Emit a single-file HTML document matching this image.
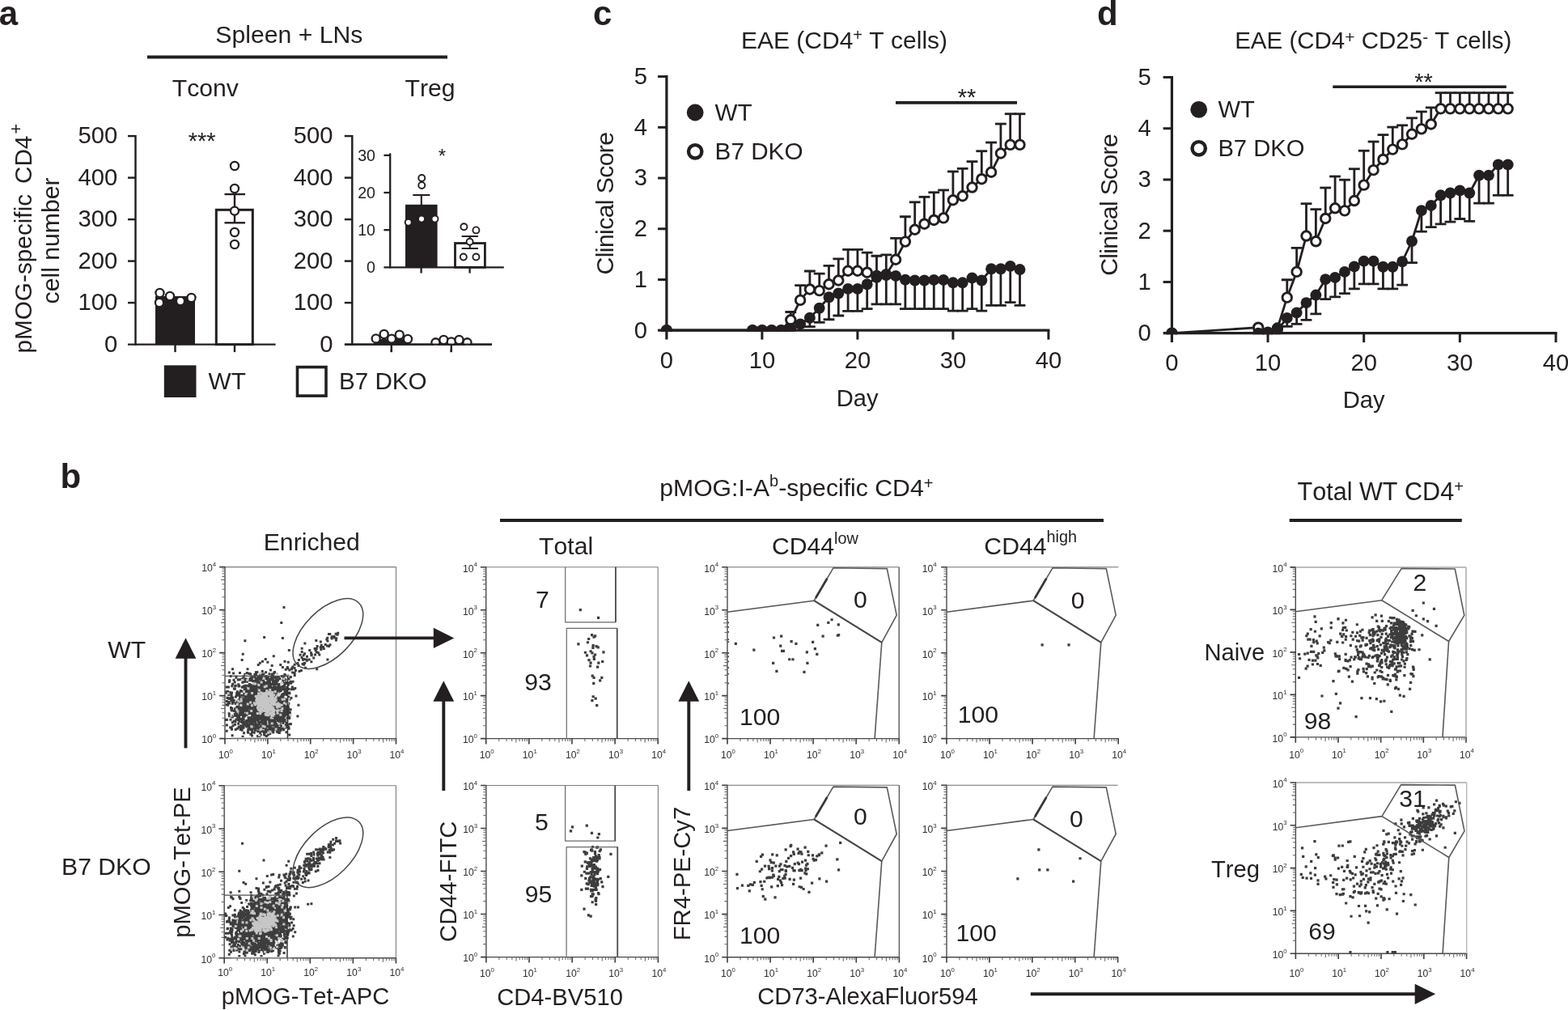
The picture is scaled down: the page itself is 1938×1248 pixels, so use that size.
<!DOCTYPE html>
<html lang="en">
<head>
<meta charset="utf-8">
<title>Figure</title>
<style>
html,body{margin:0;padding:0;background:#fff;}
body{width:1938px;height:1248px;overflow:hidden;}
svg{display:block;font-family:"Liberation Sans",sans-serif;font-kerning:none;}
</style>
</head>
<body>
<svg width="1938" height="1248" viewBox="0 0 1938 1248">
<rect x="0" y="0" width="1938" height="1248" fill="#ffffff"/>
<text x="-1.2" y="31" font-size="42" text-anchor="start" font-weight="bold" fill="#231f20">a</text>
<text x="74.5" y="603" font-size="42" text-anchor="start" font-weight="bold" fill="#231f20">b</text>
<text x="733" y="31" font-size="42" text-anchor="start" font-weight="bold" fill="#231f20">c</text>
<text x="1356" y="31" font-size="42" text-anchor="start" font-weight="bold" fill="#231f20">d</text>
<g id="panel-a">
<text x="357.3" y="53" font-size="30.2" text-anchor="middle" fill="#231f20">Spleen + LNs</text>
<line x1="182" y1="70.5" x2="553" y2="70.5" stroke="#231f20" stroke-width="4.2" stroke-linecap="butt"/>
<text x="253.8" y="119" font-size="30.2" text-anchor="middle" fill="#231f20">Tconv</text>
<text x="531.5" y="119" font-size="30.2" text-anchor="middle" fill="#231f20">Treg</text>
<text x="38.6" y="436.6" font-size="29.75" text-anchor="start" transform="rotate(-90 38.6 436.6)" fill="#231f20">pMOG-specific</text>
<text x="38.6" y="227" font-size="29.7" text-anchor="start" transform="rotate(-90 38.6 227)" fill="#231f20">CD4<tspan font-size="21.5" dy="-11.4" dx="2.2">+</tspan></text>
<text x="73.5" y="297.4" font-size="30.2" text-anchor="middle" transform="rotate(-90 73.5 297.4)" fill="#231f20">cell number</text>
<line x1="167.5" y1="166.88" x2="167.5" y2="426.83" stroke="#231f20" stroke-width="2.45" stroke-linecap="butt"/>
<line x1="158" y1="425.6" x2="340.6" y2="425.6" stroke="#231f20" stroke-width="2.45" stroke-linecap="butt"/>
<text x="145.2" y="434.6" font-size="29.2" text-anchor="end" fill="#231f20">0</text>
<line x1="158" y1="374.1" x2="167.5" y2="374.1" stroke="#231f20" stroke-width="2.45" stroke-linecap="butt"/>
<text x="145.2" y="383.1" font-size="29.2" text-anchor="end" fill="#231f20">100</text>
<line x1="158" y1="322.6" x2="167.5" y2="322.6" stroke="#231f20" stroke-width="2.45" stroke-linecap="butt"/>
<text x="145.2" y="331.6" font-size="29.2" text-anchor="end" fill="#231f20">200</text>
<line x1="158" y1="271.1" x2="167.5" y2="271.1" stroke="#231f20" stroke-width="2.45" stroke-linecap="butt"/>
<text x="145.2" y="280.1" font-size="29.2" text-anchor="end" fill="#231f20">300</text>
<line x1="158" y1="219.6" x2="167.5" y2="219.6" stroke="#231f20" stroke-width="2.45" stroke-linecap="butt"/>
<text x="145.2" y="228.6" font-size="29.2" text-anchor="end" fill="#231f20">400</text>
<line x1="158" y1="168.1" x2="167.5" y2="168.1" stroke="#231f20" stroke-width="2.45" stroke-linecap="butt"/>
<text x="145.2" y="177.1" font-size="29.2" text-anchor="end" fill="#231f20">500</text>
<line x1="216.5" y1="425.6" x2="216.5" y2="435.1" stroke="#231f20" stroke-width="2.45" stroke-linecap="butt"/>
<line x1="290" y1="425.6" x2="290" y2="435.1" stroke="#231f20" stroke-width="2.45" stroke-linecap="butt"/>
<rect x="192" y="366" width="49" height="59.6" fill="#231f20"/>
<rect x="267.3" y="259.3" width="45" height="166.3" fill="#fff" stroke="#231f20" stroke-width="3.0"/>
<line x1="290" y1="240" x2="290" y2="275.3" stroke="#231f20" stroke-width="2.4" stroke-linecap="butt"/>
<line x1="277.5" y1="240" x2="303" y2="240" stroke="#231f20" stroke-width="2.4" stroke-linecap="butt"/>
<line x1="277.5" y1="275.3" x2="303" y2="275.3" stroke="#231f20" stroke-width="2.4" stroke-linecap="butt"/>
<circle cx="290" cy="205" r="5.05" fill="#fff" stroke="#231f20" stroke-width="2.3"/>
<circle cx="290" cy="233" r="5.05" fill="#fff" stroke="#231f20" stroke-width="2.3"/>
<circle cx="290" cy="260.6" r="5.05" fill="#fff" stroke="#231f20" stroke-width="2.3"/>
<circle cx="290" cy="287" r="5.05" fill="#fff" stroke="#231f20" stroke-width="2.3"/>
<circle cx="290" cy="302" r="5.05" fill="#fff" stroke="#231f20" stroke-width="2.3"/>
<circle cx="197.5" cy="362" r="5.05" fill="#fff" stroke="#231f20" stroke-width="2.3"/>
<circle cx="197" cy="374" r="5.05" fill="#fff" stroke="#231f20" stroke-width="2.3"/>
<circle cx="210" cy="366" r="5.05" fill="#fff" stroke="#231f20" stroke-width="2.3"/>
<circle cx="223" cy="372" r="5.05" fill="#fff" stroke="#231f20" stroke-width="2.3"/>
<circle cx="236.5" cy="368" r="5.05" fill="#fff" stroke="#231f20" stroke-width="2.3"/>
<text x="249.7" y="183.6" font-size="29" text-anchor="middle" fill="#231f20">***</text>
<line x1="435.3" y1="166.88" x2="435.3" y2="426.83" stroke="#231f20" stroke-width="2.45" stroke-linecap="butt"/>
<line x1="425.8" y1="425.6" x2="608" y2="425.6" stroke="#231f20" stroke-width="2.45" stroke-linecap="butt"/>
<text x="411.5" y="434.6" font-size="29.2" text-anchor="end" fill="#231f20">0</text>
<line x1="425.8" y1="374.1" x2="435.3" y2="374.1" stroke="#231f20" stroke-width="2.45" stroke-linecap="butt"/>
<text x="411.5" y="383.1" font-size="29.2" text-anchor="end" fill="#231f20">100</text>
<line x1="425.8" y1="322.6" x2="435.3" y2="322.6" stroke="#231f20" stroke-width="2.45" stroke-linecap="butt"/>
<text x="411.5" y="331.6" font-size="29.2" text-anchor="end" fill="#231f20">200</text>
<line x1="425.8" y1="271.1" x2="435.3" y2="271.1" stroke="#231f20" stroke-width="2.45" stroke-linecap="butt"/>
<text x="411.5" y="280.1" font-size="29.2" text-anchor="end" fill="#231f20">300</text>
<line x1="425.8" y1="219.6" x2="435.3" y2="219.6" stroke="#231f20" stroke-width="2.45" stroke-linecap="butt"/>
<text x="411.5" y="228.6" font-size="29.2" text-anchor="end" fill="#231f20">400</text>
<line x1="425.8" y1="168.1" x2="435.3" y2="168.1" stroke="#231f20" stroke-width="2.45" stroke-linecap="butt"/>
<text x="411.5" y="177.1" font-size="29.2" text-anchor="end" fill="#231f20">500</text>
<line x1="483.8" y1="425.6" x2="483.8" y2="435.1" stroke="#231f20" stroke-width="2.45" stroke-linecap="butt"/>
<line x1="557.8" y1="425.6" x2="557.8" y2="435.1" stroke="#231f20" stroke-width="2.45" stroke-linecap="butt"/>
<rect x="462" y="419" width="45" height="6.6" fill="#231f20"/>
<circle cx="464.7" cy="418.4" r="5.05" fill="#fff" stroke="#231f20" stroke-width="2.3"/>
<circle cx="474.7" cy="413" r="5.05" fill="#fff" stroke="#231f20" stroke-width="2.3"/>
<circle cx="484" cy="418.6" r="5.05" fill="#fff" stroke="#231f20" stroke-width="2.3"/>
<circle cx="493.75" cy="413.75" r="5.05" fill="#fff" stroke="#231f20" stroke-width="2.3"/>
<circle cx="504" cy="419" r="5.05" fill="#fff" stroke="#231f20" stroke-width="2.3"/>
<circle cx="538.4" cy="423.3" r="5.05" fill="#fff" stroke="#231f20" stroke-width="2.3"/>
<circle cx="548.4" cy="420" r="5.05" fill="#fff" stroke="#231f20" stroke-width="2.3"/>
<circle cx="557.8" cy="422.4" r="5.05" fill="#fff" stroke="#231f20" stroke-width="2.3"/>
<circle cx="567.5" cy="420" r="5.05" fill="#fff" stroke="#231f20" stroke-width="2.3"/>
<circle cx="577.5" cy="423.3" r="5.05" fill="#fff" stroke="#231f20" stroke-width="2.3"/>
<rect x="440" y="426.83" width="165" height="5" fill="#fff"/>
<line x1="426" y1="425.6" x2="608" y2="425.6" stroke="#231f20" stroke-width="2.45" stroke-linecap="butt"/>
<line x1="483.8" y1="425.6" x2="483.8" y2="435.1" stroke="#231f20" stroke-width="2.45" stroke-linecap="butt"/>
<line x1="557.8" y1="425.6" x2="557.8" y2="435.1" stroke="#231f20" stroke-width="2.45" stroke-linecap="butt"/>
<line x1="482.2" y1="189.35" x2="482.2" y2="331.45" stroke="#231f20" stroke-width="2.3" stroke-linecap="butt"/>
<line x1="474.4" y1="330.3" x2="622.8" y2="330.3" stroke="#231f20" stroke-width="2.3" stroke-linecap="butt"/>
<text x="464" y="337.2" font-size="19.6" text-anchor="end" fill="#231f20">0</text>
<line x1="474.4" y1="284.17" x2="482.2" y2="284.17" stroke="#231f20" stroke-width="2.3" stroke-linecap="butt"/>
<text x="464" y="291.07" font-size="19.6" text-anchor="end" fill="#231f20">10</text>
<line x1="474.4" y1="238.03" x2="482.2" y2="238.03" stroke="#231f20" stroke-width="2.3" stroke-linecap="butt"/>
<text x="464" y="244.93" font-size="19.6" text-anchor="end" fill="#231f20">20</text>
<line x1="474.4" y1="191.9" x2="482.2" y2="191.9" stroke="#231f20" stroke-width="2.3" stroke-linecap="butt"/>
<text x="464" y="198.8" font-size="19.6" text-anchor="end" fill="#231f20">30</text>
<line x1="520.6" y1="330.3" x2="520.6" y2="337.5" stroke="#231f20" stroke-width="2.3" stroke-linecap="butt"/>
<line x1="580.6" y1="330.3" x2="580.6" y2="337.5" stroke="#231f20" stroke-width="2.3" stroke-linecap="butt"/>
<rect x="501" y="252.8" width="39.6" height="77.5" fill="#231f20"/>
<line x1="520.8" y1="241" x2="520.8" y2="254" stroke="#231f20" stroke-width="2.1" stroke-linecap="butt"/>
<line x1="510.3" y1="241" x2="531.3" y2="241" stroke="#231f20" stroke-width="2.1" stroke-linecap="butt"/>
<rect x="562.5" y="300.5" width="36.9" height="29.8" fill="#fff" stroke="#231f20" stroke-width="2.8"/>
<line x1="580.8" y1="292" x2="580.8" y2="307" stroke="#231f20" stroke-width="2" stroke-linecap="butt"/>
<line x1="570.6" y1="292" x2="591" y2="292" stroke="#231f20" stroke-width="2" stroke-linecap="butt"/>
<line x1="570.6" y1="307" x2="591" y2="307" stroke="#231f20" stroke-width="2" stroke-linecap="butt"/>
<circle cx="521.25" cy="220" r="4" fill="#fff" stroke="#231f20" stroke-width="1.9"/>
<circle cx="521.25" cy="229" r="4" fill="#fff" stroke="#231f20" stroke-width="1.9"/>
<circle cx="504.7" cy="274.7" r="4" fill="#fff" stroke="#231f20" stroke-width="1.9"/>
<circle cx="521" cy="270.6" r="4" fill="#fff" stroke="#231f20" stroke-width="1.9"/>
<circle cx="537.5" cy="270.6" r="4" fill="#fff" stroke="#231f20" stroke-width="1.9"/>
<circle cx="573.4" cy="280.3" r="4" fill="#fff" stroke="#231f20" stroke-width="1.9"/>
<circle cx="588.4" cy="284.4" r="4" fill="#fff" stroke="#231f20" stroke-width="1.9"/>
<circle cx="580.6" cy="298.75" r="4" fill="#fff" stroke="#231f20" stroke-width="1.9"/>
<circle cx="572.8" cy="317.5" r="4" fill="#fff" stroke="#231f20" stroke-width="1.9"/>
<circle cx="588.4" cy="317.5" r="4" fill="#fff" stroke="#231f20" stroke-width="1.9"/>
<text x="546.3" y="200.5" font-size="24" text-anchor="middle" fill="#231f20">*</text>
<rect x="202.8" y="451.4" width="39.7" height="39.6" fill="#231f20"/>
<text x="257.6" y="480.6" font-size="29.8" text-anchor="start" fill="#231f20">WT</text>
<rect x="367.5" y="453.6" width="35.5" height="35.5" fill="#fff" stroke="#231f20" stroke-width="3.6"/>
<text x="419" y="480.6" font-size="29.6" text-anchor="start" fill="#231f20">B7 DKO</text>
</g>
<g id="panel-c">
<text x="799.9" y="417.6" font-size="29.2" text-anchor="end" fill="#231f20">0</text>
<text x="799.9" y="354.88" font-size="29.2" text-anchor="end" fill="#231f20">1</text>
<text x="799.9" y="292.16" font-size="29.2" text-anchor="end" fill="#231f20">2</text>
<text x="799.9" y="229.44" font-size="29.2" text-anchor="end" fill="#231f20">3</text>
<text x="799.9" y="166.72" font-size="29.2" text-anchor="end" fill="#231f20">4</text>
<text x="799.9" y="104" font-size="29.2" text-anchor="end" fill="#231f20">5</text>
<text x="823.9" y="455.2" font-size="29.2" text-anchor="middle" fill="#231f20">0</text>
<text x="941.9" y="455.2" font-size="29.2" text-anchor="middle" fill="#231f20">10</text>
<text x="1059.9" y="455.2" font-size="29.2" text-anchor="middle" fill="#231f20">20</text>
<text x="1177.9" y="455.2" font-size="29.2" text-anchor="middle" fill="#231f20">30</text>
<text x="1295.9" y="455.2" font-size="29.2" text-anchor="middle" fill="#231f20">40</text>
<clipPath id="clipc1"><rect x="803.9" y="0" width="520" height="409.8"/></clipPath>
<g clip-path="url(#clipc1)">
<line x1="1000.9" y1="392.78" x2="1000.9" y2="403.71" stroke="#231f20" stroke-width="2.8" stroke-linecap="butt"/>
<line x1="994" y1="403.71" x2="1007.8" y2="403.71" stroke="#231f20" stroke-width="2.8" stroke-linecap="butt"/>
<line x1="1012.7" y1="380.72" x2="1012.7" y2="398.39" stroke="#231f20" stroke-width="2.8" stroke-linecap="butt"/>
<line x1="1005.8" y1="398.39" x2="1019.6" y2="398.39" stroke="#231f20" stroke-width="2.8" stroke-linecap="butt"/>
<line x1="1024.5" y1="367.27" x2="1024.5" y2="394.74" stroke="#231f20" stroke-width="2.8" stroke-linecap="butt"/>
<line x1="1017.6" y1="394.74" x2="1031.4" y2="394.74" stroke="#231f20" stroke-width="2.8" stroke-linecap="butt"/>
<line x1="1036.3" y1="362.5" x2="1036.3" y2="389.98" stroke="#231f20" stroke-width="2.8" stroke-linecap="butt"/>
<line x1="1029.4" y1="389.98" x2="1043.2" y2="389.98" stroke="#231f20" stroke-width="2.8" stroke-linecap="butt"/>
<line x1="1048.1" y1="356.89" x2="1048.1" y2="384.37" stroke="#231f20" stroke-width="2.8" stroke-linecap="butt"/>
<line x1="1041.2" y1="384.37" x2="1055" y2="384.37" stroke="#231f20" stroke-width="2.8" stroke-linecap="butt"/>
<line x1="1059.9" y1="356.89" x2="1059.9" y2="384.37" stroke="#231f20" stroke-width="2.8" stroke-linecap="butt"/>
<line x1="1053" y1="384.37" x2="1066.8" y2="384.37" stroke="#231f20" stroke-width="2.8" stroke-linecap="butt"/>
<line x1="1071.7" y1="351.28" x2="1071.7" y2="381.56" stroke="#231f20" stroke-width="2.8" stroke-linecap="butt"/>
<line x1="1064.8" y1="381.56" x2="1078.6" y2="381.56" stroke="#231f20" stroke-width="2.8" stroke-linecap="butt"/>
<line x1="1083.5" y1="342.87" x2="1083.5" y2="375.96" stroke="#231f20" stroke-width="2.8" stroke-linecap="butt"/>
<line x1="1076.6" y1="375.96" x2="1090.4" y2="375.96" stroke="#231f20" stroke-width="2.8" stroke-linecap="butt"/>
<line x1="1095.3" y1="340.07" x2="1095.3" y2="375.96" stroke="#231f20" stroke-width="2.8" stroke-linecap="butt"/>
<line x1="1088.4" y1="375.96" x2="1102.2" y2="375.96" stroke="#231f20" stroke-width="2.8" stroke-linecap="butt"/>
<line x1="1107.1" y1="340.91" x2="1107.1" y2="375.96" stroke="#231f20" stroke-width="2.8" stroke-linecap="butt"/>
<line x1="1100.2" y1="375.96" x2="1114" y2="375.96" stroke="#231f20" stroke-width="2.8" stroke-linecap="butt"/>
<line x1="1118.9" y1="345.68" x2="1118.9" y2="381.56" stroke="#231f20" stroke-width="2.8" stroke-linecap="butt"/>
<line x1="1112" y1="381.56" x2="1125.8" y2="381.56" stroke="#231f20" stroke-width="2.8" stroke-linecap="butt"/>
<line x1="1130.7" y1="346.52" x2="1130.7" y2="381.56" stroke="#231f20" stroke-width="2.8" stroke-linecap="butt"/>
<line x1="1123.8" y1="381.56" x2="1137.6" y2="381.56" stroke="#231f20" stroke-width="2.8" stroke-linecap="butt"/>
<line x1="1142.5" y1="346.52" x2="1142.5" y2="381.56" stroke="#231f20" stroke-width="2.8" stroke-linecap="butt"/>
<line x1="1135.6" y1="381.56" x2="1149.4" y2="381.56" stroke="#231f20" stroke-width="2.8" stroke-linecap="butt"/>
<line x1="1154.3" y1="345.96" x2="1154.3" y2="381.56" stroke="#231f20" stroke-width="2.8" stroke-linecap="butt"/>
<line x1="1147.4" y1="381.56" x2="1161.2" y2="381.56" stroke="#231f20" stroke-width="2.8" stroke-linecap="butt"/>
<line x1="1166.1" y1="345.96" x2="1166.1" y2="381.56" stroke="#231f20" stroke-width="2.8" stroke-linecap="butt"/>
<line x1="1159.2" y1="381.56" x2="1173" y2="381.56" stroke="#231f20" stroke-width="2.8" stroke-linecap="butt"/>
<line x1="1177.9" y1="349.32" x2="1177.9" y2="384.09" stroke="#231f20" stroke-width="2.8" stroke-linecap="butt"/>
<line x1="1171" y1="384.09" x2="1184.8" y2="384.09" stroke="#231f20" stroke-width="2.8" stroke-linecap="butt"/>
<line x1="1189.7" y1="349.32" x2="1189.7" y2="384.09" stroke="#231f20" stroke-width="2.8" stroke-linecap="butt"/>
<line x1="1182.8" y1="384.09" x2="1196.6" y2="384.09" stroke="#231f20" stroke-width="2.8" stroke-linecap="butt"/>
<line x1="1201.5" y1="343.43" x2="1201.5" y2="381.56" stroke="#231f20" stroke-width="2.8" stroke-linecap="butt"/>
<line x1="1194.6" y1="381.56" x2="1208.4" y2="381.56" stroke="#231f20" stroke-width="2.8" stroke-linecap="butt"/>
<line x1="1213.3" y1="346.52" x2="1213.3" y2="384.09" stroke="#231f20" stroke-width="2.8" stroke-linecap="butt"/>
<line x1="1206.4" y1="384.09" x2="1220.2" y2="384.09" stroke="#231f20" stroke-width="2.8" stroke-linecap="butt"/>
<line x1="1225.1" y1="332.22" x2="1225.1" y2="377.36" stroke="#231f20" stroke-width="2.8" stroke-linecap="butt"/>
<line x1="1218.2" y1="377.36" x2="1232" y2="377.36" stroke="#231f20" stroke-width="2.8" stroke-linecap="butt"/>
<line x1="1236.9" y1="332.22" x2="1236.9" y2="377.36" stroke="#231f20" stroke-width="2.8" stroke-linecap="butt"/>
<line x1="1230" y1="377.36" x2="1243.8" y2="377.36" stroke="#231f20" stroke-width="2.8" stroke-linecap="butt"/>
<line x1="1248.7" y1="328.86" x2="1248.7" y2="373.71" stroke="#231f20" stroke-width="2.8" stroke-linecap="butt"/>
<line x1="1241.8" y1="373.71" x2="1255.6" y2="373.71" stroke="#231f20" stroke-width="2.8" stroke-linecap="butt"/>
<line x1="1260.5" y1="333.06" x2="1260.5" y2="377.36" stroke="#231f20" stroke-width="2.8" stroke-linecap="butt"/>
<line x1="1253.6" y1="377.36" x2="1267.4" y2="377.36" stroke="#231f20" stroke-width="2.8" stroke-linecap="butt"/>
<line x1="977.3" y1="395.3" x2="977.3" y2="385.49" stroke="#231f20" stroke-width="2.8" stroke-linecap="butt"/>
<line x1="970.4" y1="385.49" x2="984.2" y2="385.49" stroke="#231f20" stroke-width="2.8" stroke-linecap="butt"/>
<line x1="989.1" y1="370.91" x2="989.1" y2="352.69" stroke="#231f20" stroke-width="2.8" stroke-linecap="butt"/>
<line x1="982.2" y1="352.69" x2="996" y2="352.69" stroke="#231f20" stroke-width="2.8" stroke-linecap="butt"/>
<line x1="1000.9" y1="357.45" x2="1000.9" y2="335.02" stroke="#231f20" stroke-width="2.8" stroke-linecap="butt"/>
<line x1="994" y1="335.02" x2="1007.8" y2="335.02" stroke="#231f20" stroke-width="2.8" stroke-linecap="butt"/>
<line x1="1012.7" y1="359.14" x2="1012.7" y2="338.11" stroke="#231f20" stroke-width="2.8" stroke-linecap="butt"/>
<line x1="1005.8" y1="338.11" x2="1019.6" y2="338.11" stroke="#231f20" stroke-width="2.8" stroke-linecap="butt"/>
<line x1="1024.5" y1="351.28" x2="1024.5" y2="328.29" stroke="#231f20" stroke-width="2.8" stroke-linecap="butt"/>
<line x1="1017.6" y1="328.29" x2="1031.4" y2="328.29" stroke="#231f20" stroke-width="2.8" stroke-linecap="butt"/>
<line x1="1036.3" y1="346.52" x2="1036.3" y2="319.88" stroke="#231f20" stroke-width="2.8" stroke-linecap="butt"/>
<line x1="1029.4" y1="319.88" x2="1043.2" y2="319.88" stroke="#231f20" stroke-width="2.8" stroke-linecap="butt"/>
<line x1="1048.1" y1="334.74" x2="1048.1" y2="308.39" stroke="#231f20" stroke-width="2.8" stroke-linecap="butt"/>
<line x1="1041.2" y1="308.39" x2="1055" y2="308.39" stroke="#231f20" stroke-width="2.8" stroke-linecap="butt"/>
<line x1="1059.9" y1="334.74" x2="1059.9" y2="308.39" stroke="#231f20" stroke-width="2.8" stroke-linecap="butt"/>
<line x1="1053" y1="308.39" x2="1066.8" y2="308.39" stroke="#231f20" stroke-width="2.8" stroke-linecap="butt"/>
<line x1="1071.7" y1="336.71" x2="1071.7" y2="312.03" stroke="#231f20" stroke-width="2.8" stroke-linecap="butt"/>
<line x1="1064.8" y1="312.03" x2="1078.6" y2="312.03" stroke="#231f20" stroke-width="2.8" stroke-linecap="butt"/>
<line x1="1083.5" y1="340.91" x2="1083.5" y2="316.24" stroke="#231f20" stroke-width="2.8" stroke-linecap="butt"/>
<line x1="1076.6" y1="316.24" x2="1090.4" y2="316.24" stroke="#231f20" stroke-width="2.8" stroke-linecap="butt"/>
<line x1="1095.3" y1="339.23" x2="1095.3" y2="314.84" stroke="#231f20" stroke-width="2.8" stroke-linecap="butt"/>
<line x1="1088.4" y1="314.84" x2="1102.2" y2="314.84" stroke="#231f20" stroke-width="2.8" stroke-linecap="butt"/>
<line x1="1107.1" y1="320.72" x2="1107.1" y2="294.37" stroke="#231f20" stroke-width="2.8" stroke-linecap="butt"/>
<line x1="1100.2" y1="294.37" x2="1114" y2="294.37" stroke="#231f20" stroke-width="2.8" stroke-linecap="butt"/>
<line x1="1118.9" y1="298.58" x2="1118.9" y2="267.73" stroke="#231f20" stroke-width="2.8" stroke-linecap="butt"/>
<line x1="1112" y1="267.73" x2="1125.8" y2="267.73" stroke="#231f20" stroke-width="2.8" stroke-linecap="butt"/>
<line x1="1130.7" y1="283.72" x2="1130.7" y2="249.79" stroke="#231f20" stroke-width="2.8" stroke-linecap="butt"/>
<line x1="1123.8" y1="249.79" x2="1137.6" y2="249.79" stroke="#231f20" stroke-width="2.8" stroke-linecap="butt"/>
<line x1="1142.5" y1="276.71" x2="1142.5" y2="243.34" stroke="#231f20" stroke-width="2.8" stroke-linecap="butt"/>
<line x1="1135.6" y1="243.34" x2="1149.4" y2="243.34" stroke="#231f20" stroke-width="2.8" stroke-linecap="butt"/>
<line x1="1154.3" y1="271.94" x2="1154.3" y2="237.73" stroke="#231f20" stroke-width="2.8" stroke-linecap="butt"/>
<line x1="1147.4" y1="237.73" x2="1161.2" y2="237.73" stroke="#231f20" stroke-width="2.8" stroke-linecap="butt"/>
<line x1="1166.1" y1="269.42" x2="1166.1" y2="234.93" stroke="#231f20" stroke-width="2.8" stroke-linecap="butt"/>
<line x1="1159.2" y1="234.93" x2="1173" y2="234.93" stroke="#231f20" stroke-width="2.8" stroke-linecap="butt"/>
<line x1="1177.9" y1="247.27" x2="1177.9" y2="211.94" stroke="#231f20" stroke-width="2.8" stroke-linecap="butt"/>
<line x1="1171" y1="211.94" x2="1184.8" y2="211.94" stroke="#231f20" stroke-width="2.8" stroke-linecap="butt"/>
<line x1="1189.7" y1="242.22" x2="1189.7" y2="208.3" stroke="#231f20" stroke-width="2.8" stroke-linecap="butt"/>
<line x1="1182.8" y1="208.3" x2="1196.6" y2="208.3" stroke="#231f20" stroke-width="2.8" stroke-linecap="butt"/>
<line x1="1201.5" y1="231.57" x2="1201.5" y2="199.6" stroke="#231f20" stroke-width="2.8" stroke-linecap="butt"/>
<line x1="1194.6" y1="199.6" x2="1208.4" y2="199.6" stroke="#231f20" stroke-width="2.8" stroke-linecap="butt"/>
<line x1="1213.3" y1="221.19" x2="1213.3" y2="186.71" stroke="#231f20" stroke-width="2.8" stroke-linecap="butt"/>
<line x1="1206.4" y1="186.71" x2="1220.2" y2="186.71" stroke="#231f20" stroke-width="2.8" stroke-linecap="butt"/>
<line x1="1225.1" y1="212.78" x2="1225.1" y2="176.05" stroke="#231f20" stroke-width="2.8" stroke-linecap="butt"/>
<line x1="1218.2" y1="176.05" x2="1232" y2="176.05" stroke="#231f20" stroke-width="2.8" stroke-linecap="butt"/>
<line x1="1236.9" y1="189.51" x2="1236.9" y2="153.06" stroke="#231f20" stroke-width="2.8" stroke-linecap="butt"/>
<line x1="1230" y1="153.06" x2="1243.8" y2="153.06" stroke="#231f20" stroke-width="2.8" stroke-linecap="butt"/>
<line x1="1248.7" y1="178.86" x2="1248.7" y2="140.73" stroke="#231f20" stroke-width="2.8" stroke-linecap="butt"/>
<line x1="1241.8" y1="140.73" x2="1255.6" y2="140.73" stroke="#231f20" stroke-width="2.8" stroke-linecap="butt"/>
<line x1="1260.5" y1="178.86" x2="1260.5" y2="140.73" stroke="#231f20" stroke-width="2.8" stroke-linecap="butt"/>
<line x1="1253.6" y1="140.73" x2="1267.4" y2="140.73" stroke="#231f20" stroke-width="2.8" stroke-linecap="butt"/>
<polyline points="823.9,408.2 930.1,408.2 941.9,408.2 953.7,408.2 965.5,408.2 977.3,395.3 989.1,370.91 1000.9,357.45 1012.7,359.14 1024.5,351.28 1036.3,346.52 1048.1,334.74 1059.9,334.74 1071.7,336.71 1083.5,340.91 1095.3,339.23 1107.1,320.72 1118.9,298.58 1130.7,283.72 1142.5,276.71 1154.3,271.94 1166.1,269.42 1177.9,247.27 1189.7,242.22 1201.5,231.57 1213.3,221.19 1225.1,212.78 1236.9,189.51 1248.7,178.86 1260.5,178.86" fill="none" stroke="#231f20" stroke-width="2.8" stroke-linejoin="round"/>
<polyline points="823.9,408.2 930.1,408.2 941.9,408.2 953.7,408.2 965.5,408.2 977.3,405.96 989.1,400.35 1000.9,392.78 1012.7,380.72 1024.5,367.27 1036.3,362.5 1048.1,356.89 1059.9,356.89 1071.7,351.28 1083.5,342.87 1095.3,340.07 1107.1,340.91 1118.9,345.68 1130.7,346.52 1142.5,346.52 1154.3,345.96 1166.1,345.96 1177.9,349.32 1189.7,349.32 1201.5,343.43 1213.3,346.52 1225.1,332.22 1236.9,332.22 1248.7,328.86 1260.5,333.06" fill="none" stroke="#231f20" stroke-width="2.8" stroke-linejoin="round"/>
<circle cx="823.9" cy="408.2" r="5.75" fill="#fff" stroke="#231f20" stroke-width="2.9"/>
<circle cx="930.1" cy="408.2" r="5.75" fill="#fff" stroke="#231f20" stroke-width="2.9"/>
<circle cx="941.9" cy="408.2" r="5.75" fill="#fff" stroke="#231f20" stroke-width="2.9"/>
<circle cx="953.7" cy="408.2" r="5.75" fill="#fff" stroke="#231f20" stroke-width="2.9"/>
<circle cx="965.5" cy="408.2" r="5.75" fill="#fff" stroke="#231f20" stroke-width="2.9"/>
<circle cx="977.3" cy="395.3" r="5.75" fill="#fff" stroke="#231f20" stroke-width="2.9"/>
<circle cx="989.1" cy="370.91" r="5.75" fill="#fff" stroke="#231f20" stroke-width="2.9"/>
<circle cx="1000.9" cy="357.45" r="5.75" fill="#fff" stroke="#231f20" stroke-width="2.9"/>
<circle cx="1012.7" cy="359.14" r="5.75" fill="#fff" stroke="#231f20" stroke-width="2.9"/>
<circle cx="1024.5" cy="351.28" r="5.75" fill="#fff" stroke="#231f20" stroke-width="2.9"/>
<circle cx="1036.3" cy="346.52" r="5.75" fill="#fff" stroke="#231f20" stroke-width="2.9"/>
<circle cx="1048.1" cy="334.74" r="5.75" fill="#fff" stroke="#231f20" stroke-width="2.9"/>
<circle cx="1059.9" cy="334.74" r="5.75" fill="#fff" stroke="#231f20" stroke-width="2.9"/>
<circle cx="1071.7" cy="336.71" r="5.75" fill="#fff" stroke="#231f20" stroke-width="2.9"/>
<circle cx="1083.5" cy="340.91" r="5.75" fill="#fff" stroke="#231f20" stroke-width="2.9"/>
<circle cx="1095.3" cy="339.23" r="5.75" fill="#fff" stroke="#231f20" stroke-width="2.9"/>
<circle cx="1107.1" cy="320.72" r="5.75" fill="#fff" stroke="#231f20" stroke-width="2.9"/>
<circle cx="1118.9" cy="298.58" r="5.75" fill="#fff" stroke="#231f20" stroke-width="2.9"/>
<circle cx="1130.7" cy="283.72" r="5.75" fill="#fff" stroke="#231f20" stroke-width="2.9"/>
<circle cx="1142.5" cy="276.71" r="5.75" fill="#fff" stroke="#231f20" stroke-width="2.9"/>
<circle cx="1154.3" cy="271.94" r="5.75" fill="#fff" stroke="#231f20" stroke-width="2.9"/>
<circle cx="1166.1" cy="269.42" r="5.75" fill="#fff" stroke="#231f20" stroke-width="2.9"/>
<circle cx="1177.9" cy="247.27" r="5.75" fill="#fff" stroke="#231f20" stroke-width="2.9"/>
<circle cx="1189.7" cy="242.22" r="5.75" fill="#fff" stroke="#231f20" stroke-width="2.9"/>
<circle cx="1201.5" cy="231.57" r="5.75" fill="#fff" stroke="#231f20" stroke-width="2.9"/>
<circle cx="1213.3" cy="221.19" r="5.75" fill="#fff" stroke="#231f20" stroke-width="2.9"/>
<circle cx="1225.1" cy="212.78" r="5.75" fill="#fff" stroke="#231f20" stroke-width="2.9"/>
<circle cx="1236.9" cy="189.51" r="5.75" fill="#fff" stroke="#231f20" stroke-width="2.9"/>
<circle cx="1248.7" cy="178.86" r="5.75" fill="#fff" stroke="#231f20" stroke-width="2.9"/>
<circle cx="1260.5" cy="178.86" r="5.75" fill="#fff" stroke="#231f20" stroke-width="2.9"/>
<circle cx="823.9" cy="408.2" r="6.95" fill="#231f20"/>
<circle cx="930.1" cy="408.2" r="6.95" fill="#231f20"/>
<circle cx="941.9" cy="408.2" r="6.95" fill="#231f20"/>
<circle cx="953.7" cy="408.2" r="6.95" fill="#231f20"/>
<circle cx="965.5" cy="408.2" r="6.95" fill="#231f20"/>
<circle cx="977.3" cy="405.96" r="6.95" fill="#231f20"/>
<circle cx="989.1" cy="400.35" r="6.95" fill="#231f20"/>
<circle cx="1000.9" cy="392.78" r="6.95" fill="#231f20"/>
<circle cx="1012.7" cy="380.72" r="6.95" fill="#231f20"/>
<circle cx="1024.5" cy="367.27" r="6.95" fill="#231f20"/>
<circle cx="1036.3" cy="362.5" r="6.95" fill="#231f20"/>
<circle cx="1048.1" cy="356.89" r="6.95" fill="#231f20"/>
<circle cx="1059.9" cy="356.89" r="6.95" fill="#231f20"/>
<circle cx="1071.7" cy="351.28" r="6.95" fill="#231f20"/>
<circle cx="1083.5" cy="342.87" r="6.95" fill="#231f20"/>
<circle cx="1095.3" cy="340.07" r="6.95" fill="#231f20"/>
<circle cx="1107.1" cy="340.91" r="6.95" fill="#231f20"/>
<circle cx="1118.9" cy="345.68" r="6.95" fill="#231f20"/>
<circle cx="1130.7" cy="346.52" r="6.95" fill="#231f20"/>
<circle cx="1142.5" cy="346.52" r="6.95" fill="#231f20"/>
<circle cx="1154.3" cy="345.96" r="6.95" fill="#231f20"/>
<circle cx="1166.1" cy="345.96" r="6.95" fill="#231f20"/>
<circle cx="1177.9" cy="349.32" r="6.95" fill="#231f20"/>
<circle cx="1189.7" cy="349.32" r="6.95" fill="#231f20"/>
<circle cx="1201.5" cy="343.43" r="6.95" fill="#231f20"/>
<circle cx="1213.3" cy="346.52" r="6.95" fill="#231f20"/>
<circle cx="1225.1" cy="332.22" r="6.95" fill="#231f20"/>
<circle cx="1236.9" cy="332.22" r="6.95" fill="#231f20"/>
<circle cx="1248.7" cy="328.86" r="6.95" fill="#231f20"/>
<circle cx="1260.5" cy="333.06" r="6.95" fill="#231f20"/>
</g>
<line x1="823.9" y1="93.1" x2="823.9" y2="419.6" stroke="#231f20" stroke-width="3.2" stroke-linecap="butt"/>
<line x1="813.1" y1="408.2" x2="1297.4" y2="408.2" stroke="#231f20" stroke-width="3.2" stroke-linecap="butt"/>
<line x1="813.1" y1="345.48" x2="823.9" y2="345.48" stroke="#231f20" stroke-width="3" stroke-linecap="butt"/>
<line x1="813.1" y1="282.76" x2="823.9" y2="282.76" stroke="#231f20" stroke-width="3" stroke-linecap="butt"/>
<line x1="813.1" y1="220.04" x2="823.9" y2="220.04" stroke="#231f20" stroke-width="3" stroke-linecap="butt"/>
<line x1="813.1" y1="157.32" x2="823.9" y2="157.32" stroke="#231f20" stroke-width="3" stroke-linecap="butt"/>
<line x1="813.1" y1="94.6" x2="823.9" y2="94.6" stroke="#231f20" stroke-width="3" stroke-linecap="butt"/>
<line x1="941.9" y1="408.2" x2="941.9" y2="419.6" stroke="#231f20" stroke-width="3" stroke-linecap="butt"/>
<line x1="1059.9" y1="408.2" x2="1059.9" y2="419.6" stroke="#231f20" stroke-width="3" stroke-linecap="butt"/>
<line x1="1177.9" y1="408.2" x2="1177.9" y2="419.6" stroke="#231f20" stroke-width="3" stroke-linecap="butt"/>
<line x1="1295.9" y1="408.2" x2="1295.9" y2="419.6" stroke="#231f20" stroke-width="3" stroke-linecap="butt"/>
<text x="1043.5" y="59.6" font-size="30" text-anchor="middle" fill="#231f20">EAE (CD4<tspan font-size="20" dy="-10">+</tspan><tspan dy="10"> T cells)</tspan></text>
<text x="757.6" y="251.2" font-size="30.2" text-anchor="middle" transform="rotate(-90 757.6 251.2)" fill="#231f20" textLength="176.5" lengthAdjust="spacing">Clinical Score</text>
<text x="1059.6" y="501.6" font-size="29.2" text-anchor="middle" fill="#231f20">Day</text>
<circle cx="859.2" cy="139" r="10.4" fill="#231f20"/>
<text x="883.6" y="149.4" font-size="29.7" text-anchor="start" fill="#231f20">WT</text>
<circle cx="859.2" cy="187.3" r="8.2" fill="#fff" stroke="#231f20" stroke-width="4.4"/>
<text x="883.6" y="197" font-size="29.7" text-anchor="start" fill="#231f20">B7 DKO</text>
<line x1="1107" y1="126.8" x2="1257" y2="126.8" stroke="#231f20" stroke-width="3.8" stroke-linecap="butt"/>
<text x="1195" y="129.5" font-size="29" text-anchor="middle" fill="#231f20">**</text>
</g>
<g id="panel-d">
<text x="1422.8" y="421.1" font-size="29.2" text-anchor="end" fill="#231f20">0</text>
<text x="1422.8" y="357.85" font-size="29.2" text-anchor="end" fill="#231f20">1</text>
<text x="1422.8" y="294.6" font-size="29.2" text-anchor="end" fill="#231f20">2</text>
<text x="1422.8" y="231.35" font-size="29.2" text-anchor="end" fill="#231f20">3</text>
<text x="1422.8" y="168.1" font-size="29.2" text-anchor="end" fill="#231f20">4</text>
<text x="1422.8" y="104.85" font-size="29.2" text-anchor="end" fill="#231f20">5</text>
<text x="1448.4" y="458" font-size="29.2" text-anchor="middle" fill="#231f20">0</text>
<text x="1567.05" y="458" font-size="29.2" text-anchor="middle" fill="#231f20">10</text>
<text x="1685.7" y="458" font-size="29.2" text-anchor="middle" fill="#231f20">20</text>
<text x="1804.35" y="458" font-size="29.2" text-anchor="middle" fill="#231f20">30</text>
<text x="1923" y="458" font-size="29.2" text-anchor="middle" fill="#231f20">40</text>
<clipPath id="clipc2"><rect x="1428.4" y="0" width="520" height="413.3"/></clipPath>
<g clip-path="url(#clipc2)">
<line x1="1590.78" y1="392.89" x2="1590.78" y2="403.28" stroke="#231f20" stroke-width="2.8" stroke-linecap="butt"/>
<line x1="1583.88" y1="403.28" x2="1597.68" y2="403.28" stroke="#231f20" stroke-width="2.8" stroke-linecap="butt"/>
<line x1="1602.64" y1="386.43" x2="1602.64" y2="400.47" stroke="#231f20" stroke-width="2.8" stroke-linecap="butt"/>
<line x1="1595.74" y1="400.47" x2="1609.55" y2="400.47" stroke="#231f20" stroke-width="2.8" stroke-linecap="butt"/>
<line x1="1614.51" y1="374.08" x2="1614.51" y2="395.42" stroke="#231f20" stroke-width="2.8" stroke-linecap="butt"/>
<line x1="1607.61" y1="395.42" x2="1621.41" y2="395.42" stroke="#231f20" stroke-width="2.8" stroke-linecap="butt"/>
<line x1="1626.38" y1="364.54" x2="1626.38" y2="387.84" stroke="#231f20" stroke-width="2.8" stroke-linecap="butt"/>
<line x1="1619.47" y1="387.84" x2="1633.28" y2="387.84" stroke="#231f20" stroke-width="2.8" stroke-linecap="butt"/>
<line x1="1638.24" y1="345.17" x2="1638.24" y2="369.59" stroke="#231f20" stroke-width="2.8" stroke-linecap="butt"/>
<line x1="1631.34" y1="369.59" x2="1645.14" y2="369.59" stroke="#231f20" stroke-width="2.8" stroke-linecap="butt"/>
<line x1="1650.11" y1="342.92" x2="1650.11" y2="366.78" stroke="#231f20" stroke-width="2.8" stroke-linecap="butt"/>
<line x1="1643.2" y1="366.78" x2="1657.01" y2="366.78" stroke="#231f20" stroke-width="2.8" stroke-linecap="butt"/>
<line x1="1661.97" y1="335.9" x2="1661.97" y2="362.57" stroke="#231f20" stroke-width="2.8" stroke-linecap="butt"/>
<line x1="1655.07" y1="362.57" x2="1668.87" y2="362.57" stroke="#231f20" stroke-width="2.8" stroke-linecap="butt"/>
<line x1="1673.84" y1="329.45" x2="1673.84" y2="356.96" stroke="#231f20" stroke-width="2.8" stroke-linecap="butt"/>
<line x1="1666.93" y1="356.96" x2="1680.74" y2="356.96" stroke="#231f20" stroke-width="2.8" stroke-linecap="butt"/>
<line x1="1685.7" y1="322.71" x2="1685.7" y2="350.78" stroke="#231f20" stroke-width="2.8" stroke-linecap="butt"/>
<line x1="1678.8" y1="350.78" x2="1692.6" y2="350.78" stroke="#231f20" stroke-width="2.8" stroke-linecap="butt"/>
<line x1="1697.57" y1="322.71" x2="1697.57" y2="350.78" stroke="#231f20" stroke-width="2.8" stroke-linecap="butt"/>
<line x1="1690.66" y1="350.78" x2="1704.47" y2="350.78" stroke="#231f20" stroke-width="2.8" stroke-linecap="butt"/>
<line x1="1709.43" y1="329.73" x2="1709.43" y2="356.96" stroke="#231f20" stroke-width="2.8" stroke-linecap="butt"/>
<line x1="1702.53" y1="356.96" x2="1716.33" y2="356.96" stroke="#231f20" stroke-width="2.8" stroke-linecap="butt"/>
<line x1="1721.3" y1="329.73" x2="1721.3" y2="356.96" stroke="#231f20" stroke-width="2.8" stroke-linecap="butt"/>
<line x1="1714.39" y1="356.96" x2="1728.2" y2="356.96" stroke="#231f20" stroke-width="2.8" stroke-linecap="butt"/>
<line x1="1733.16" y1="323.27" x2="1733.16" y2="352.19" stroke="#231f20" stroke-width="2.8" stroke-linecap="butt"/>
<line x1="1726.26" y1="352.19" x2="1740.06" y2="352.19" stroke="#231f20" stroke-width="2.8" stroke-linecap="butt"/>
<line x1="1745.03" y1="298.01" x2="1745.03" y2="324.67" stroke="#231f20" stroke-width="2.8" stroke-linecap="butt"/>
<line x1="1738.12" y1="324.67" x2="1751.93" y2="324.67" stroke="#231f20" stroke-width="2.8" stroke-linecap="butt"/>
<line x1="1756.89" y1="260.11" x2="1756.89" y2="286.22" stroke="#231f20" stroke-width="2.8" stroke-linecap="butt"/>
<line x1="1749.99" y1="286.22" x2="1763.79" y2="286.22" stroke="#231f20" stroke-width="2.8" stroke-linecap="butt"/>
<line x1="1768.76" y1="253.93" x2="1768.76" y2="280.6" stroke="#231f20" stroke-width="2.8" stroke-linecap="butt"/>
<line x1="1761.86" y1="280.6" x2="1775.66" y2="280.6" stroke="#231f20" stroke-width="2.8" stroke-linecap="butt"/>
<line x1="1780.62" y1="241.3" x2="1780.62" y2="276.95" stroke="#231f20" stroke-width="2.8" stroke-linecap="butt"/>
<line x1="1773.72" y1="276.95" x2="1787.52" y2="276.95" stroke="#231f20" stroke-width="2.8" stroke-linecap="butt"/>
<line x1="1792.49" y1="238.49" x2="1792.49" y2="274.14" stroke="#231f20" stroke-width="2.8" stroke-linecap="butt"/>
<line x1="1785.59" y1="274.14" x2="1799.39" y2="274.14" stroke="#231f20" stroke-width="2.8" stroke-linecap="butt"/>
<line x1="1804.35" y1="235.4" x2="1804.35" y2="270.49" stroke="#231f20" stroke-width="2.8" stroke-linecap="butt"/>
<line x1="1797.45" y1="270.49" x2="1811.25" y2="270.49" stroke="#231f20" stroke-width="2.8" stroke-linecap="butt"/>
<line x1="1816.22" y1="238.49" x2="1816.22" y2="273.3" stroke="#231f20" stroke-width="2.8" stroke-linecap="butt"/>
<line x1="1809.32" y1="273.3" x2="1823.12" y2="273.3" stroke="#231f20" stroke-width="2.8" stroke-linecap="butt"/>
<line x1="1828.08" y1="216.59" x2="1828.08" y2="251.12" stroke="#231f20" stroke-width="2.8" stroke-linecap="butt"/>
<line x1="1821.18" y1="251.12" x2="1834.98" y2="251.12" stroke="#231f20" stroke-width="2.8" stroke-linecap="butt"/>
<line x1="1839.95" y1="216.59" x2="1839.95" y2="251.12" stroke="#231f20" stroke-width="2.8" stroke-linecap="butt"/>
<line x1="1833.05" y1="251.12" x2="1846.85" y2="251.12" stroke="#231f20" stroke-width="2.8" stroke-linecap="butt"/>
<line x1="1851.81" y1="203.4" x2="1851.81" y2="241.3" stroke="#231f20" stroke-width="2.8" stroke-linecap="butt"/>
<line x1="1844.91" y1="241.3" x2="1858.71" y2="241.3" stroke="#231f20" stroke-width="2.8" stroke-linecap="butt"/>
<line x1="1863.68" y1="203.4" x2="1863.68" y2="241.3" stroke="#231f20" stroke-width="2.8" stroke-linecap="butt"/>
<line x1="1856.78" y1="241.3" x2="1870.58" y2="241.3" stroke="#231f20" stroke-width="2.8" stroke-linecap="butt"/>
<line x1="1590.78" y1="367.63" x2="1590.78" y2="345.73" stroke="#231f20" stroke-width="2.8" stroke-linecap="butt"/>
<line x1="1583.88" y1="345.73" x2="1597.68" y2="345.73" stroke="#231f20" stroke-width="2.8" stroke-linecap="butt"/>
<line x1="1602.64" y1="335.9" x2="1602.64" y2="306.43" stroke="#231f20" stroke-width="2.8" stroke-linecap="butt"/>
<line x1="1595.74" y1="306.43" x2="1609.55" y2="306.43" stroke="#231f20" stroke-width="2.8" stroke-linecap="butt"/>
<line x1="1614.51" y1="291.55" x2="1614.51" y2="251.69" stroke="#231f20" stroke-width="2.8" stroke-linecap="butt"/>
<line x1="1607.61" y1="251.69" x2="1621.41" y2="251.69" stroke="#231f20" stroke-width="2.8" stroke-linecap="butt"/>
<line x1="1626.38" y1="298.29" x2="1626.38" y2="258.7" stroke="#231f20" stroke-width="2.8" stroke-linecap="butt"/>
<line x1="1619.47" y1="258.7" x2="1633.28" y2="258.7" stroke="#231f20" stroke-width="2.8" stroke-linecap="butt"/>
<line x1="1638.24" y1="269.93" x2="1638.24" y2="232.03" stroke="#231f20" stroke-width="2.8" stroke-linecap="butt"/>
<line x1="1631.34" y1="232.03" x2="1645.14" y2="232.03" stroke="#231f20" stroke-width="2.8" stroke-linecap="butt"/>
<line x1="1650.11" y1="257.3" x2="1650.11" y2="218" stroke="#231f20" stroke-width="2.8" stroke-linecap="butt"/>
<line x1="1643.2" y1="218" x2="1657.01" y2="218" stroke="#231f20" stroke-width="2.8" stroke-linecap="butt"/>
<line x1="1661.97" y1="260.39" x2="1661.97" y2="222.21" stroke="#231f20" stroke-width="2.8" stroke-linecap="butt"/>
<line x1="1655.07" y1="222.21" x2="1668.87" y2="222.21" stroke="#231f20" stroke-width="2.8" stroke-linecap="butt"/>
<line x1="1673.84" y1="248.04" x2="1673.84" y2="208.73" stroke="#231f20" stroke-width="2.8" stroke-linecap="butt"/>
<line x1="1666.93" y1="208.73" x2="1680.74" y2="208.73" stroke="#231f20" stroke-width="2.8" stroke-linecap="butt"/>
<line x1="1685.7" y1="228.67" x2="1685.7" y2="186.28" stroke="#231f20" stroke-width="2.8" stroke-linecap="butt"/>
<line x1="1678.8" y1="186.28" x2="1692.6" y2="186.28" stroke="#231f20" stroke-width="2.8" stroke-linecap="butt"/>
<line x1="1697.57" y1="210.14" x2="1697.57" y2="175.05" stroke="#231f20" stroke-width="2.8" stroke-linecap="butt"/>
<line x1="1690.66" y1="175.05" x2="1704.47" y2="175.05" stroke="#231f20" stroke-width="2.8" stroke-linecap="butt"/>
<line x1="1709.43" y1="196.94" x2="1709.43" y2="166.63" stroke="#231f20" stroke-width="2.8" stroke-linecap="butt"/>
<line x1="1702.53" y1="166.63" x2="1716.33" y2="166.63" stroke="#231f20" stroke-width="2.8" stroke-linecap="butt"/>
<line x1="1721.3" y1="184.59" x2="1721.3" y2="157.08" stroke="#231f20" stroke-width="2.8" stroke-linecap="butt"/>
<line x1="1714.39" y1="157.08" x2="1728.2" y2="157.08" stroke="#231f20" stroke-width="2.8" stroke-linecap="butt"/>
<line x1="1733.16" y1="178.42" x2="1733.16" y2="154.83" stroke="#231f20" stroke-width="2.8" stroke-linecap="butt"/>
<line x1="1726.26" y1="154.83" x2="1740.06" y2="154.83" stroke="#231f20" stroke-width="2.8" stroke-linecap="butt"/>
<line x1="1745.03" y1="165.78" x2="1745.03" y2="145.85" stroke="#231f20" stroke-width="2.8" stroke-linecap="butt"/>
<line x1="1738.12" y1="145.85" x2="1751.93" y2="145.85" stroke="#231f20" stroke-width="2.8" stroke-linecap="butt"/>
<line x1="1756.89" y1="159.33" x2="1756.89" y2="137.99" stroke="#231f20" stroke-width="2.8" stroke-linecap="butt"/>
<line x1="1749.99" y1="137.99" x2="1763.79" y2="137.99" stroke="#231f20" stroke-width="2.8" stroke-linecap="butt"/>
<line x1="1768.76" y1="153.43" x2="1768.76" y2="132.94" stroke="#231f20" stroke-width="2.8" stroke-linecap="butt"/>
<line x1="1761.86" y1="132.94" x2="1775.66" y2="132.94" stroke="#231f20" stroke-width="2.8" stroke-linecap="butt"/>
<line x1="1780.62" y1="134.34" x2="1780.62" y2="114.69" stroke="#231f20" stroke-width="2.8" stroke-linecap="butt"/>
<line x1="1773.72" y1="114.69" x2="1787.52" y2="114.69" stroke="#231f20" stroke-width="2.8" stroke-linecap="butt"/>
<line x1="1792.49" y1="134.34" x2="1792.49" y2="114.69" stroke="#231f20" stroke-width="2.8" stroke-linecap="butt"/>
<line x1="1785.59" y1="114.69" x2="1799.39" y2="114.69" stroke="#231f20" stroke-width="2.8" stroke-linecap="butt"/>
<line x1="1804.35" y1="134.34" x2="1804.35" y2="114.69" stroke="#231f20" stroke-width="2.8" stroke-linecap="butt"/>
<line x1="1797.45" y1="114.69" x2="1811.25" y2="114.69" stroke="#231f20" stroke-width="2.8" stroke-linecap="butt"/>
<line x1="1816.22" y1="134.34" x2="1816.22" y2="114.69" stroke="#231f20" stroke-width="2.8" stroke-linecap="butt"/>
<line x1="1809.32" y1="114.69" x2="1823.12" y2="114.69" stroke="#231f20" stroke-width="2.8" stroke-linecap="butt"/>
<line x1="1828.08" y1="134.34" x2="1828.08" y2="114.69" stroke="#231f20" stroke-width="2.8" stroke-linecap="butt"/>
<line x1="1821.18" y1="114.69" x2="1834.98" y2="114.69" stroke="#231f20" stroke-width="2.8" stroke-linecap="butt"/>
<line x1="1839.95" y1="134.34" x2="1839.95" y2="114.69" stroke="#231f20" stroke-width="2.8" stroke-linecap="butt"/>
<line x1="1833.05" y1="114.69" x2="1846.85" y2="114.69" stroke="#231f20" stroke-width="2.8" stroke-linecap="butt"/>
<line x1="1851.81" y1="134.34" x2="1851.81" y2="114.69" stroke="#231f20" stroke-width="2.8" stroke-linecap="butt"/>
<line x1="1844.91" y1="114.69" x2="1858.71" y2="114.69" stroke="#231f20" stroke-width="2.8" stroke-linecap="butt"/>
<line x1="1863.68" y1="134.34" x2="1863.68" y2="114.69" stroke="#231f20" stroke-width="2.8" stroke-linecap="butt"/>
<line x1="1856.78" y1="114.69" x2="1870.58" y2="114.69" stroke="#231f20" stroke-width="2.8" stroke-linecap="butt"/>
<polyline points="1448.4,411.7 1555.19,404.68 1567.05,411.7 1578.92,405.52 1590.78,367.63 1602.64,335.9 1614.51,291.55 1626.38,298.29 1638.24,269.93 1650.11,257.3 1661.97,260.39 1673.84,248.04 1685.7,228.67 1697.57,210.14 1709.43,196.94 1721.3,184.59 1733.16,178.42 1745.03,165.78 1756.89,159.33 1768.76,153.43 1780.62,134.34 1792.49,134.34 1804.35,134.34 1816.22,134.34 1828.08,134.34 1839.95,134.34 1851.81,134.34 1863.68,134.34" fill="none" stroke="#231f20" stroke-width="2.8" stroke-linejoin="round"/>
<polyline points="1448.4,411.7 1555.19,411.7 1567.05,410.44 1578.92,407.77 1590.78,392.89 1602.64,386.43 1614.51,374.08 1626.38,364.54 1638.24,345.17 1650.11,342.92 1661.97,335.9 1673.84,329.45 1685.7,322.71 1697.57,322.71 1709.43,329.73 1721.3,329.73 1733.16,323.27 1745.03,298.01 1756.89,260.11 1768.76,253.93 1780.62,241.3 1792.49,238.49 1804.35,235.4 1816.22,238.49 1828.08,216.59 1839.95,216.59 1851.81,203.4 1863.68,203.4" fill="none" stroke="#231f20" stroke-width="2.8" stroke-linejoin="round"/>
<circle cx="1448.4" cy="411.7" r="5.75" fill="#fff" stroke="#231f20" stroke-width="2.9"/>
<circle cx="1555.19" cy="404.68" r="5.75" fill="#fff" stroke="#231f20" stroke-width="2.9"/>
<circle cx="1567.05" cy="411.7" r="5.75" fill="#fff" stroke="#231f20" stroke-width="2.9"/>
<circle cx="1578.92" cy="405.52" r="5.75" fill="#fff" stroke="#231f20" stroke-width="2.9"/>
<circle cx="1590.78" cy="367.63" r="5.75" fill="#fff" stroke="#231f20" stroke-width="2.9"/>
<circle cx="1602.64" cy="335.9" r="5.75" fill="#fff" stroke="#231f20" stroke-width="2.9"/>
<circle cx="1614.51" cy="291.55" r="5.75" fill="#fff" stroke="#231f20" stroke-width="2.9"/>
<circle cx="1626.38" cy="298.29" r="5.75" fill="#fff" stroke="#231f20" stroke-width="2.9"/>
<circle cx="1638.24" cy="269.93" r="5.75" fill="#fff" stroke="#231f20" stroke-width="2.9"/>
<circle cx="1650.11" cy="257.3" r="5.75" fill="#fff" stroke="#231f20" stroke-width="2.9"/>
<circle cx="1661.97" cy="260.39" r="5.75" fill="#fff" stroke="#231f20" stroke-width="2.9"/>
<circle cx="1673.84" cy="248.04" r="5.75" fill="#fff" stroke="#231f20" stroke-width="2.9"/>
<circle cx="1685.7" cy="228.67" r="5.75" fill="#fff" stroke="#231f20" stroke-width="2.9"/>
<circle cx="1697.57" cy="210.14" r="5.75" fill="#fff" stroke="#231f20" stroke-width="2.9"/>
<circle cx="1709.43" cy="196.94" r="5.75" fill="#fff" stroke="#231f20" stroke-width="2.9"/>
<circle cx="1721.3" cy="184.59" r="5.75" fill="#fff" stroke="#231f20" stroke-width="2.9"/>
<circle cx="1733.16" cy="178.42" r="5.75" fill="#fff" stroke="#231f20" stroke-width="2.9"/>
<circle cx="1745.03" cy="165.78" r="5.75" fill="#fff" stroke="#231f20" stroke-width="2.9"/>
<circle cx="1756.89" cy="159.33" r="5.75" fill="#fff" stroke="#231f20" stroke-width="2.9"/>
<circle cx="1768.76" cy="153.43" r="5.75" fill="#fff" stroke="#231f20" stroke-width="2.9"/>
<circle cx="1780.62" cy="134.34" r="5.75" fill="#fff" stroke="#231f20" stroke-width="2.9"/>
<circle cx="1792.49" cy="134.34" r="5.75" fill="#fff" stroke="#231f20" stroke-width="2.9"/>
<circle cx="1804.35" cy="134.34" r="5.75" fill="#fff" stroke="#231f20" stroke-width="2.9"/>
<circle cx="1816.22" cy="134.34" r="5.75" fill="#fff" stroke="#231f20" stroke-width="2.9"/>
<circle cx="1828.08" cy="134.34" r="5.75" fill="#fff" stroke="#231f20" stroke-width="2.9"/>
<circle cx="1839.95" cy="134.34" r="5.75" fill="#fff" stroke="#231f20" stroke-width="2.9"/>
<circle cx="1851.81" cy="134.34" r="5.75" fill="#fff" stroke="#231f20" stroke-width="2.9"/>
<circle cx="1863.68" cy="134.34" r="5.75" fill="#fff" stroke="#231f20" stroke-width="2.9"/>
<circle cx="1448.4" cy="411.7" r="6.95" fill="#231f20"/>
<circle cx="1555.19" cy="411.7" r="6.95" fill="#231f20"/>
<circle cx="1567.05" cy="410.44" r="6.95" fill="#231f20"/>
<circle cx="1578.92" cy="407.77" r="6.95" fill="#231f20"/>
<circle cx="1590.78" cy="392.89" r="6.95" fill="#231f20"/>
<circle cx="1602.64" cy="386.43" r="6.95" fill="#231f20"/>
<circle cx="1614.51" cy="374.08" r="6.95" fill="#231f20"/>
<circle cx="1626.38" cy="364.54" r="6.95" fill="#231f20"/>
<circle cx="1638.24" cy="345.17" r="6.95" fill="#231f20"/>
<circle cx="1650.11" cy="342.92" r="6.95" fill="#231f20"/>
<circle cx="1661.97" cy="335.9" r="6.95" fill="#231f20"/>
<circle cx="1673.84" cy="329.45" r="6.95" fill="#231f20"/>
<circle cx="1685.7" cy="322.71" r="6.95" fill="#231f20"/>
<circle cx="1697.57" cy="322.71" r="6.95" fill="#231f20"/>
<circle cx="1709.43" cy="329.73" r="6.95" fill="#231f20"/>
<circle cx="1721.3" cy="329.73" r="6.95" fill="#231f20"/>
<circle cx="1733.16" cy="323.27" r="6.95" fill="#231f20"/>
<circle cx="1745.03" cy="298.01" r="6.95" fill="#231f20"/>
<circle cx="1756.89" cy="260.11" r="6.95" fill="#231f20"/>
<circle cx="1768.76" cy="253.93" r="6.95" fill="#231f20"/>
<circle cx="1780.62" cy="241.3" r="6.95" fill="#231f20"/>
<circle cx="1792.49" cy="238.49" r="6.95" fill="#231f20"/>
<circle cx="1804.35" cy="235.4" r="6.95" fill="#231f20"/>
<circle cx="1816.22" cy="238.49" r="6.95" fill="#231f20"/>
<circle cx="1828.08" cy="216.59" r="6.95" fill="#231f20"/>
<circle cx="1839.95" cy="216.59" r="6.95" fill="#231f20"/>
<circle cx="1851.81" cy="203.4" r="6.95" fill="#231f20"/>
<circle cx="1863.68" cy="203.4" r="6.95" fill="#231f20"/>
</g>
<line x1="1448.4" y1="93.95" x2="1448.4" y2="423.1" stroke="#231f20" stroke-width="3.2" stroke-linecap="butt"/>
<line x1="1437.6" y1="411.7" x2="1924.5" y2="411.7" stroke="#231f20" stroke-width="3.2" stroke-linecap="butt"/>
<line x1="1437.6" y1="348.45" x2="1448.4" y2="348.45" stroke="#231f20" stroke-width="3" stroke-linecap="butt"/>
<line x1="1437.6" y1="285.2" x2="1448.4" y2="285.2" stroke="#231f20" stroke-width="3" stroke-linecap="butt"/>
<line x1="1437.6" y1="221.95" x2="1448.4" y2="221.95" stroke="#231f20" stroke-width="3" stroke-linecap="butt"/>
<line x1="1437.6" y1="158.7" x2="1448.4" y2="158.7" stroke="#231f20" stroke-width="3" stroke-linecap="butt"/>
<line x1="1437.6" y1="95.45" x2="1448.4" y2="95.45" stroke="#231f20" stroke-width="3" stroke-linecap="butt"/>
<line x1="1567.05" y1="411.7" x2="1567.05" y2="423.1" stroke="#231f20" stroke-width="3" stroke-linecap="butt"/>
<line x1="1685.7" y1="411.7" x2="1685.7" y2="423.1" stroke="#231f20" stroke-width="3" stroke-linecap="butt"/>
<line x1="1804.35" y1="411.7" x2="1804.35" y2="423.1" stroke="#231f20" stroke-width="3" stroke-linecap="butt"/>
<line x1="1923" y1="411.7" x2="1923" y2="423.1" stroke="#231f20" stroke-width="3" stroke-linecap="butt"/>
<text x="1697.3" y="59.6" font-size="29.5" text-anchor="middle" fill="#231f20">EAE (CD4<tspan font-size="21" dy="-6.3">+</tspan><tspan dy="6.3"> CD25</tspan><tspan font-size="21" dy="-6.8">-</tspan><tspan dy="6.8"> T cells)</tspan></text>
<text x="1380.8" y="253" font-size="30.2" text-anchor="middle" transform="rotate(-90 1380.8 253)" fill="#231f20" textLength="175.5" lengthAdjust="spacing">Clinical Score</text>
<text x="1685.6" y="503.5" font-size="29.2" text-anchor="middle" fill="#231f20">Day</text>
<circle cx="1481.7" cy="135.4" r="10.4" fill="#231f20"/>
<text x="1505.4" y="144.8" font-size="29.2" text-anchor="start" fill="#231f20">WT</text>
<circle cx="1481.7" cy="183.3" r="8.2" fill="#fff" stroke="#231f20" stroke-width="4.4"/>
<text x="1505.4" y="192.7" font-size="29.2" text-anchor="start" fill="#231f20">B7 DKO</text>
<line x1="1647.3" y1="107.2" x2="1861.8" y2="107.2" stroke="#231f20" stroke-width="3.6" stroke-linecap="butt"/>
<text x="1759.5" y="111" font-size="29" text-anchor="middle" fill="#231f20">**</text>
</g>
<g id="panel-b">
<line x1="278" y1="700.6" x2="489.5" y2="700.6" stroke="#7c7c7c" stroke-width="1.1" stroke-linecap="butt"/>
<line x1="489.5" y1="700.6" x2="489.5" y2="912.6" stroke="#7c7c7c" stroke-width="1.1" stroke-linecap="butt"/>
<line x1="278" y1="700" x2="278" y2="913.3" stroke="#4a4a4a" stroke-width="1.4" stroke-linecap="butt"/>
<line x1="277.3" y1="912.6" x2="490.1" y2="912.6" stroke="#4a4a4a" stroke-width="1.4" stroke-linecap="butt"/>
<path d="M274.5 896.65H278M293.92 912.6V916.1M274.5 887.31H278M303.23 912.6V916.1M274.5 880.69H278M309.83 912.6V916.1M273 875.55H278M314.96 912.6V917.6M274.5 871.36H278M319.14 912.6V916.1M274.5 867.81H278M322.68 912.6V916.1M274.5 864.74H278M325.75 912.6V916.1M274.5 862.03H278M328.46 912.6V916.1M274.5 843.65H278M346.79 912.6V916.1M274.5 834.31H278M356.1 912.6V916.1M274.5 827.69H278M362.71 912.6V916.1M273 822.55H278M367.83 912.6V917.6M274.5 818.36H278M372.02 912.6V916.1M274.5 814.81H278M375.56 912.6V916.1M274.5 811.74H278M378.63 912.6V916.1M274.5 809.03H278M381.33 912.6V916.1M274.5 790.65H278M399.67 912.6V916.1M274.5 781.31H278M408.98 912.6V916.1M274.5 774.69H278M415.58 912.6V916.1M273 769.55H278M420.71 912.6V917.6M274.5 765.36H278M424.89 912.6V916.1M274.5 761.81H278M428.43 912.6V916.1M274.5 758.74H278M431.5 912.6V916.1M274.5 756.03H278M434.21 912.6V916.1M274.5 737.65H278M452.54 912.6V916.1M274.5 728.31H278M461.85 912.6V916.1M274.5 721.69H278M468.46 912.6V916.1M273 716.55H278M473.58 912.6V917.6M274.5 712.36H278M477.77 912.6V916.1M274.5 708.81H278M481.31 912.6V916.1M274.5 705.74H278M484.38 912.6V916.1M274.5 703.03H278M487.08 912.6V916.1" stroke="#666" stroke-width="1.05" fill="none"/>
<path d="M271.2 912.6H278M278 912.6V919.4M271.2 859.6H278M330.88 912.6V919.4M271.2 806.6H278M383.75 912.6V919.4M271.2 753.6H278M436.62 912.6V919.4M271.2 700.6H278M489.5 912.6V919.4" stroke="#3c3c3c" stroke-width="1.6" fill="none"/>
<text x="267.2" y="918.4" font-size="12.2" text-anchor="end" fill="#2e2e2e">10<tspan font-size="7.8" dy="-6.4">0</tspan></text>
<text x="270" y="937.2" font-size="12.2" text-anchor="start" fill="#2e2e2e">10<tspan font-size="7.8" dy="-6.4">0</tspan></text>
<text x="267.2" y="865.4" font-size="12.2" text-anchor="end" fill="#2e2e2e">10<tspan font-size="7.8" dy="-6.4">1</tspan></text>
<text x="322.88" y="937.2" font-size="12.2" text-anchor="start" fill="#2e2e2e">10<tspan font-size="7.8" dy="-6.4">1</tspan></text>
<text x="267.2" y="812.4" font-size="12.2" text-anchor="end" fill="#2e2e2e">10<tspan font-size="7.8" dy="-6.4">2</tspan></text>
<text x="375.75" y="937.2" font-size="12.2" text-anchor="start" fill="#2e2e2e">10<tspan font-size="7.8" dy="-6.4">2</tspan></text>
<text x="267.2" y="759.4" font-size="12.2" text-anchor="end" fill="#2e2e2e">10<tspan font-size="7.8" dy="-6.4">3</tspan></text>
<text x="428.62" y="937.2" font-size="12.2" text-anchor="start" fill="#2e2e2e">10<tspan font-size="7.8" dy="-6.4">3</tspan></text>
<text x="267.2" y="706.4" font-size="12.2" text-anchor="end" fill="#2e2e2e">10<tspan font-size="7.8" dy="-6.4">4</tspan></text>
<text x="481.5" y="937.2" font-size="12.2" text-anchor="start" fill="#2e2e2e">10<tspan font-size="7.8" dy="-6.4">4</tspan></text>
<path d="M330.33 858.68h3v3h-3zM335.22 901.13h3v3h-3zM336.79 835.28h3v3h-3zM308.22 863.89h3v3h-3zM330.77 884.44h3v3h-3zM315.17 872.18h3v3h-3zM318.62 885.05h3v3h-3zM351.07 881.84h3v3h-3zM345.36 847.46h3v3h-3zM280.35 861.36h3v3h-3zM334.87 843.96h3v3h-3zM343.91 904.01h3v3h-3zM363.95 826.91h3v3h-3zM314.99 848.77h3v3h-3zM324.29 878.55h3v3h-3zM314.71 869.97h3v3h-3zM323.22 853.65h3v3h-3zM340.09 862.51h3v3h-3zM330.03 865.75h3v3h-3zM337.16 830.17h3v3h-3zM295.99 875.53h3v3h-3zM393.28 807.43h3v3h-3zM334.65 837.85h3v3h-3zM333.56 901.73h3v3h-3zM301.57 853.04h3v3h-3zM341.11 896.54h3v3h-3zM315.74 886.7h3v3h-3zM341.93 889.05h3v3h-3zM348.61 876.38h3v3h-3zM327.09 857.12h3v3h-3zM306.47 830.97h3v3h-3zM306.73 893.23h3v3h-3zM334.03 880.05h3v3h-3zM313.93 867.87h3v3h-3zM341.22 868.83h3v3h-3zM310.2 839.42h3v3h-3zM316.9 877.71h3v3h-3zM343.15 883.48h3v3h-3zM284.59 876.12h3v3h-3zM303.19 895.42h3v3h-3zM316.72 897.73h3v3h-3zM331.29 889.34h3v3h-3zM340.26 848.34h3v3h-3zM340.25 899.83h3v3h-3zM324.55 847.7h3v3h-3zM353.45 847.84h3v3h-3zM319.14 844.57h3v3h-3zM318.47 851.14h3v3h-3zM298.29 861.2h3v3h-3zM400.68 795.06h3v3h-3zM350.25 845.04h3v3h-3zM347.56 868.24h3v3h-3zM345.45 859.4h3v3h-3zM319.19 858.63h3v3h-3zM307.58 872.95h3v3h-3zM307.41 852h3v3h-3zM307.71 868.24h3v3h-3zM327.18 889.45h3v3h-3zM356.36 855.37h3v3h-3zM318.42 893.18h3v3h-3zM322.04 889.03h3v3h-3zM300.19 846.46h3v3h-3zM347.79 881.91h3v3h-3zM293.38 871.15h3v3h-3zM349.23 888.36h3v3h-3zM351.71 854.51h3v3h-3zM313.43 863.4h3v3h-3zM281.7 861.53h3v3h-3zM347.72 868.91h3v3h-3zM335.24 894.6h3v3h-3zM327.12 829.26h3v3h-3zM352.1 897.07h3v3h-3zM350.52 815.7h3v3h-3zM350.99 849.95h3v3h-3zM327.15 843.97h3v3h-3zM313.98 839.49h3v3h-3zM284.65 858.21h3v3h-3zM335.02 849.28h3v3h-3zM316.75 878.05h3v3h-3zM336.78 809.34h3v3h-3zM321.72 902.09h3v3h-3zM328.22 837.53h3v3h-3zM338.04 839.94h3v3h-3zM322.96 886.7h3v3h-3zM350.83 855.89h3v3h-3zM341.47 881.37h3v3h-3zM334.8 902.04h3v3h-3zM366.53 817.99h3v3h-3zM313.84 847.1h3v3h-3zM345.23 884.35h3v3h-3zM377.88 814.8h3v3h-3zM334.24 899.25h3v3h-3zM284.38 856.46h3v3h-3zM342.95 846.24h3v3h-3zM335.57 894.79h3v3h-3zM347.58 872.59h3v3h-3zM333.76 886.42h3v3h-3zM319.72 890.71h3v3h-3zM296.21 879.62h3v3h-3zM323.42 852.97h3v3h-3zM343.37 843.89h3v3h-3zM338.85 835.59h3v3h-3zM285.52 876.47h3v3h-3zM339.88 837.99h3v3h-3zM342.47 865.09h3v3h-3zM308.71 838.11h3v3h-3zM294.33 887.24h3v3h-3zM344.58 877.24h3v3h-3zM347.32 857.26h3v3h-3zM342.67 885.74h3v3h-3zM319.31 869.85h3v3h-3zM312.17 844.38h3v3h-3zM317.63 871.36h3v3h-3zM299.56 897.64h3v3h-3zM351.73 894.52h3v3h-3zM317.16 902.19h3v3h-3zM334.57 861.4h3v3h-3zM313.21 851.94h3v3h-3zM285.64 907.34h3v3h-3zM343.2 854.21h3v3h-3zM356.24 854.93h3v3h-3zM309.46 860.27h3v3h-3zM336.47 868.01h3v3h-3zM332.62 843.62h3v3h-3zM350.14 837.54h3v3h-3zM332.21 893.65h3v3h-3zM320.08 846.03h3v3h-3zM292.41 857.86h3v3h-3zM327.94 895.44h3v3h-3zM309.8 837.19h3v3h-3zM324.17 853.42h3v3h-3zM344.81 850.01h3v3h-3zM321.56 858.3h3v3h-3zM332.35 842.92h3v3h-3zM347.88 823.12h3v3h-3zM304.64 872.41h3v3h-3zM312.47 870.62h3v3h-3zM371.68 799.8h3v3h-3zM348.51 885.99h3v3h-3zM347.58 881.38h3v3h-3zM330.54 849.07h3v3h-3zM304.11 888.71h3v3h-3zM342.25 894.51h3v3h-3zM334.21 869.57h3v3h-3zM286.02 825.24h3v3h-3zM295 859.53h3v3h-3zM318.5 881.86h3v3h-3zM323.68 877.81h3v3h-3zM333.15 883.22h3v3h-3zM330.36 885.48h3v3h-3zM308.1 869.96h3v3h-3zM308.45 864.47h3v3h-3zM327.86 908h3v3h-3zM292.78 871.53h3v3h-3zM311.32 889.59h3v3h-3zM310.4 868.01h3v3h-3zM331.65 902.74h3v3h-3zM280.6 866.4h3v3h-3zM336.49 889.49h3v3h-3zM357.46 840.67h3v3h-3zM294.73 857.87h3v3h-3zM345.37 866.51h3v3h-3zM352.71 866.31h3v3h-3zM295.25 872.69h3v3h-3zM340.44 857.61h3v3h-3zM333.36 900.13h3v3h-3zM296.4 872.74h3v3h-3zM320.04 848.82h3v3h-3zM343.35 861.85h3v3h-3zM278.92 894.39h3v3h-3zM345.52 869.65h3v3h-3zM300.68 850.77h3v3h-3zM336.46 880.77h3v3h-3zM334.94 899.32h3v3h-3zM295.92 880.74h3v3h-3zM303.16 881.78h3v3h-3zM320.66 906.39h3v3h-3zM310.84 887.04h3v3h-3zM343.18 862.31h3v3h-3zM299.69 887.37h3v3h-3zM290.39 879.04h3v3h-3zM294.33 854.6h3v3h-3zM329.93 906.41h3v3h-3zM349.69 846.02h3v3h-3zM305.24 889.27h3v3h-3zM326.83 900.37h3v3h-3zM329.31 869.69h3v3h-3zM334.96 834.62h3v3h-3zM309.37 872.01h3v3h-3zM311.26 891.43h3v3h-3zM315.67 886.28h3v3h-3zM329.38 816.76h3v3h-3zM308.86 836.26h3v3h-3zM301.23 862.41h3v3h-3zM310.28 850.88h3v3h-3zM349.19 879.83h3v3h-3zM326.92 852.22h3v3h-3zM292.84 873.42h3v3h-3zM321.75 877.35h3v3h-3zM291.67 865.51h3v3h-3zM372.51 819.11h3v3h-3zM353.74 842.26h3v3h-3zM311.16 889.65h3v3h-3zM349.62 874.63h3v3h-3zM310.35 874.62h3v3h-3zM322.98 845.28h3v3h-3zM352.29 852.23h3v3h-3zM329.1 837.83h3v3h-3zM317.96 873.55h3v3h-3zM301.06 856.42h3v3h-3zM312.46 863.21h3v3h-3zM308.95 848.88h3v3h-3zM281.81 829.43h3v3h-3zM406.45 795.35h3v3h-3zM307.79 865.76h3v3h-3zM307.42 899.87h3v3h-3zM302.61 869.7h3v3h-3zM327.44 834.03h3v3h-3zM313.45 857.7h3v3h-3zM398.73 800.12h3v3h-3zM306.39 871.52h3v3h-3zM312.41 872.57h3v3h-3zM315.93 884.89h3v3h-3zM349.2 873.38h3v3h-3zM332.42 882.87h3v3h-3zM307.62 861.8h3v3h-3zM324.2 842.56h3v3h-3zM340.27 886.71h3v3h-3zM348.63 869.47h3v3h-3zM296 881.63h3v3h-3zM306.05 863.45h3v3h-3zM348.52 872.16h3v3h-3zM360.56 840.75h3v3h-3zM367.44 869.76h3v3h-3zM321.84 870.55h3v3h-3zM304.38 896.57h3v3h-3zM327.94 872.45h3v3h-3zM310.17 892.5h3v3h-3zM306.49 846.28h3v3h-3zM335.48 882.95h3v3h-3zM329.84 847.01h3v3h-3zM317.18 839.03h3v3h-3zM310.2 882.73h3v3h-3zM315 849.2h3v3h-3zM395.31 800.98h3v3h-3zM296.69 881.5h3v3h-3zM309.47 856.36h3v3h-3zM308.67 886.9h3v3h-3zM278.74 888.04h3v3h-3zM344.64 878.46h3v3h-3zM302.59 853.12h3v3h-3zM308.12 892.65h3v3h-3zM331.33 891.72h3v3h-3zM310.43 855.88h3v3h-3zM328.62 872.79h3v3h-3zM324.44 884.24h3v3h-3zM293.71 874.1h3v3h-3zM346.32 878.3h3v3h-3zM337.13 873.56h3v3h-3zM403.26 786.74h3v3h-3zM345.51 872.2h3v3h-3zM338.51 859.16h3v3h-3zM332.69 891.96h3v3h-3zM343.5 871.8h3v3h-3zM349.09 887.29h3v3h-3zM312.77 903.63h3v3h-3zM297.65 814.11h3v3h-3zM325.2 877.79h3v3h-3zM279.99 852.95h3v3h-3zM343.52 872.61h3v3h-3zM347.87 879.29h3v3h-3zM282.33 853.94h3v3h-3zM347.1 833.91h3v3h-3zM320.08 898.99h3v3h-3zM284.6 874.13h3v3h-3zM311.42 894.83h3v3h-3zM339.77 863.3h3v3h-3zM323.09 894.97h3v3h-3zM341.99 862.35h3v3h-3zM308.35 856.25h3v3h-3zM351.15 882.06h3v3h-3zM286.3 860.74h3v3h-3zM349.56 877.53h3v3h-3zM315.16 850.22h3v3h-3zM347.88 787.08h3v3h-3zM310.95 846.96h3v3h-3zM338.04 899.71h3v3h-3zM283.91 861.2h3v3h-3zM308.23 856.15h3v3h-3zM307.49 886.46h3v3h-3zM329.16 835.71h3v3h-3zM319.84 868.11h3v3h-3zM330.47 836.39h3v3h-3zM313.39 835.42h3v3h-3zM334.94 866.73h3v3h-3zM311.43 855.38h3v3h-3zM321.5 854.12h3v3h-3zM350.7 843.12h3v3h-3zM308.16 871.11h3v3h-3zM309.16 880.34h3v3h-3zM299.12 891.9h3v3h-3zM322.07 835.67h3v3h-3zM339.16 881.32h3v3h-3zM299.5 870.88h3v3h-3zM305.63 880.32h3v3h-3zM344.29 881.03h3v3h-3zM327.45 884.25h3v3h-3zM323.39 856.51h3v3h-3zM307.82 878.18h3v3h-3zM345.73 887.97h3v3h-3zM356.32 826.38h3v3h-3zM294.36 885.41h3v3h-3zM301.06 881.75h3v3h-3zM333.83 879.15h3v3h-3zM320.97 838.54h3v3h-3zM381.28 802.02h3v3h-3zM338.8 850.47h3v3h-3zM341.08 857.85h3v3h-3zM294.43 855h3v3h-3zM321.38 854.53h3v3h-3zM326.97 903.37h3v3h-3zM318.07 869.51h3v3h-3zM304.74 851.56h3v3h-3zM344.57 878.63h3v3h-3zM348.09 857.88h3v3h-3zM301.54 862.61h3v3h-3zM335.58 872.79h3v3h-3zM313.4 832.06h3v3h-3zM372.93 813.73h3v3h-3zM331.46 831.23h3v3h-3zM355.89 875.16h3v3h-3zM349.99 869.33h3v3h-3zM357.65 875.23h3v3h-3zM285.49 863.27h3v3h-3zM319.26 848.99h3v3h-3zM328.38 874.48h3v3h-3zM342.11 838.15h3v3h-3zM311.51 868h3v3h-3zM342.41 844.38h3v3h-3zM345.18 878.42h3v3h-3zM336.14 839.8h3v3h-3zM350.87 897.71h3v3h-3zM323.12 873.82h3v3h-3zM308.24 859.41h3v3h-3zM342.22 861.28h3v3h-3zM358.49 860.9h3v3h-3zM312.11 853.93h3v3h-3zM354.84 844.71h3v3h-3zM308.47 863.03h3v3h-3zM314.55 896.86h3v3h-3zM375.06 806.33h3v3h-3zM362.64 819.67h3v3h-3zM331.1 839.11h3v3h-3zM298.38 888.83h3v3h-3zM283.1 897.51h3v3h-3zM299.39 894.04h3v3h-3zM323.21 857.54h3v3h-3zM309.55 845.48h3v3h-3zM348.28 881.42h3v3h-3zM350.02 881.53h3v3h-3zM304.57 875.7h3v3h-3zM322.23 889.66h3v3h-3zM316.21 875.07h3v3h-3zM325.33 890.91h3v3h-3zM335.8 889.32h3v3h-3zM349.18 856.96h3v3h-3zM311.68 847.82h3v3h-3zM297.52 852.7h3v3h-3zM324.64 841.04h3v3h-3zM303.33 853.1h3v3h-3zM321.4 857.58h3v3h-3zM300.6 876.67h3v3h-3zM339.53 896.92h3v3h-3zM315.74 857.49h3v3h-3zM336.03 841.16h3v3h-3zM338.52 889.31h3v3h-3zM316.19 879.76h3v3h-3zM306.56 879.61h3v3h-3zM317.36 862.84h3v3h-3zM306.16 894.37h3v3h-3zM300.08 873.26h3v3h-3zM294.56 877.64h3v3h-3zM343.95 852.78h3v3h-3zM351.82 873.72h3v3h-3zM327.71 853.5h3v3h-3zM327.69 844.85h3v3h-3zM313.47 890.55h3v3h-3zM319.86 817.82h3v3h-3zM347.21 865.85h3v3h-3zM289.1 874.19h3v3h-3zM326.33 878.71h3v3h-3zM304.55 874.79h3v3h-3zM325.8 884.55h3v3h-3zM345.19 889.29h3v3h-3zM315.69 869.16h3v3h-3zM308.18 849.17h3v3h-3zM355.12 881.17h3v3h-3zM285.58 865.71h3v3h-3zM411.92 786.61h3v3h-3zM319.31 886.74h3v3h-3zM289.12 846.35h3v3h-3zM328.61 900.4h3v3h-3zM309.04 872.36h3v3h-3zM340.23 860.02h3v3h-3zM321.81 890.62h3v3h-3zM317.41 878.05h3v3h-3zM328.59 856.89h3v3h-3zM294.9 868.24h3v3h-3zM375.25 817.83h3v3h-3zM340.53 841.57h3v3h-3zM298.27 869.12h3v3h-3zM355.41 867.77h3v3h-3zM332.78 884.61h3v3h-3zM292.84 855.95h3v3h-3zM313.15 877.27h3v3h-3zM338.03 863.82h3v3h-3zM353.7 823.05h3v3h-3zM354.22 868.37h3v3h-3zM307.04 898.5h3v3h-3zM311.16 863.93h3v3h-3zM356.23 906.4h3v3h-3zM300.1 874.24h3v3h-3zM391.8 804.95h3v3h-3zM330.54 902.98h3v3h-3zM293.53 846.47h3v3h-3zM350.6 876.73h3v3h-3zM355.6 898.84h3v3h-3zM341.87 884.17h3v3h-3zM328.56 846.68h3v3h-3zM288.66 841.58h3v3h-3zM316.16 841h3v3h-3zM353.74 885.61h3v3h-3zM306.05 856.57h3v3h-3zM300.89 862.44h3v3h-3zM324.26 887.04h3v3h-3zM332.16 894.62h3v3h-3zM313.48 843.7h3v3h-3zM323.82 849.69h3v3h-3zM341.75 860.92h3v3h-3zM316.42 886.58h3v3h-3zM343.25 860.84h3v3h-3zM318 872.86h3v3h-3zM306.83 889.95h3v3h-3zM351.73 825.69h3v3h-3zM327.09 880.24h3v3h-3zM337.21 880.4h3v3h-3zM314.61 852.63h3v3h-3zM353.21 847.91h3v3h-3zM322.09 850.7h3v3h-3zM287.6 864.09h3v3h-3zM376.04 823.85h3v3h-3zM319.43 854.66h3v3h-3zM313.73 873.87h3v3h-3zM333.24 881.19h3v3h-3zM308.94 871.17h3v3h-3zM345.71 867.69h3v3h-3zM317 855.61h3v3h-3zM289.64 868.07h3v3h-3zM315.17 831.73h3v3h-3zM333.28 845.28h3v3h-3zM336.3 838.43h3v3h-3zM316.73 861.32h3v3h-3zM337.32 889.99h3v3h-3zM317.46 865.61h3v3h-3zM320.16 855.72h3v3h-3zM340.19 864.89h3v3h-3zM303.91 873.05h3v3h-3zM297.41 898.63h3v3h-3zM283.99 873.43h3v3h-3zM323.67 896.64h3v3h-3zM311.07 879.5h3v3h-3zM346.7 899.06h3v3h-3zM349.22 880.32h3v3h-3zM285.81 860.4h3v3h-3zM355.81 801.92h3v3h-3zM314.62 882.67h3v3h-3zM346.42 864.5h3v3h-3zM293.05 888.27h3v3h-3zM409.04 785.28h3v3h-3zM370.83 827.09h3v3h-3zM320.88 863.06h3v3h-3zM345.71 851.99h3v3h-3zM314.08 878.68h3v3h-3zM325.76 849.88h3v3h-3zM322.85 882.21h3v3h-3zM344.77 847.67h3v3h-3zM303.61 878.91h3v3h-3zM348.76 883.03h3v3h-3zM325.65 879.72h3v3h-3zM303.05 868.99h3v3h-3zM330.82 888h3v3h-3zM340.67 869.07h3v3h-3zM340.42 862.6h3v3h-3zM282.09 839.59h3v3h-3zM318.27 898.7h3v3h-3zM309.52 876.03h3v3h-3zM317.42 884.07h3v3h-3zM325.62 852.11h3v3h-3zM312.7 858.78h3v3h-3zM337.64 859.51h3v3h-3zM330.43 837.49h3v3h-3zM349.01 882.73h3v3h-3zM351.15 872.94h3v3h-3zM339.88 839.41h3v3h-3zM316.73 851.98h3v3h-3zM294.19 845.92h3v3h-3zM332.89 894.42h3v3h-3zM354.61 893.72h3v3h-3zM320.79 842.53h3v3h-3zM303.28 873.75h3v3h-3zM336.77 884.05h3v3h-3zM320.17 882.81h3v3h-3zM331.82 856.37h3v3h-3zM341.91 835.07h3v3h-3zM313.05 886.18h3v3h-3zM323.44 842.89h3v3h-3zM340.69 880.04h3v3h-3zM318.12 855.63h3v3h-3zM284.97 899.7h3v3h-3zM358.85 850.3h3v3h-3zM305.85 861.75h3v3h-3zM339.15 879.81h3v3h-3zM346.79 857.22h3v3h-3zM309.16 905.59h3v3h-3zM348.49 856.87h3v3h-3zM340.43 860.54h3v3h-3zM321.01 895.72h3v3h-3zM315.21 850.5h3v3h-3zM307.42 857.64h3v3h-3zM316 857.82h3v3h-3zM293.17 892.8h3v3h-3zM339.78 842.29h3v3h-3zM353.84 879.55h3v3h-3zM344.95 890.17h3v3h-3zM281.95 883.25h3v3h-3zM322.75 874.86h3v3h-3zM341.47 873.45h3v3h-3zM318.48 878.9h3v3h-3zM408.41 786.35h3v3h-3zM341.01 875.47h3v3h-3zM302.26 890.26h3v3h-3zM310.25 876.29h3v3h-3zM315.26 851.13h3v3h-3zM307.12 886.01h3v3h-3zM296.63 895.79h3v3h-3zM299.16 875.19h3v3h-3zM292.13 865.54h3v3h-3zM281.96 840.9h3v3h-3zM298.84 897.66h3v3h-3zM351.03 879.48h3v3h-3zM316.5 845.58h3v3h-3zM310.68 864.66h3v3h-3zM340.77 883.66h3v3h-3zM308.7 874.91h3v3h-3zM326.81 859.49h3v3h-3zM362.72 833.11h3v3h-3zM327.77 872.72h3v3h-3zM313.47 885.91h3v3h-3zM307.66 867.62h3v3h-3zM343.12 863.77h3v3h-3zM349.19 846.38h3v3h-3zM315.04 881.44h3v3h-3zM325.57 887.72h3v3h-3zM316.4 896.69h3v3h-3zM332.43 845.5h3v3h-3zM347.95 872.12h3v3h-3zM306.32 854.22h3v3h-3zM330.35 849.95h3v3h-3zM415.61 782.46h3v3h-3zM323.46 864.56h3v3h-3zM335.47 874.14h3v3h-3zM334.08 857.95h3v3h-3zM350.25 845.46h3v3h-3zM333.33 847.21h3v3h-3zM315.76 876.37h3v3h-3zM323.71 864.81h3v3h-3zM310.69 859.93h3v3h-3zM341.14 862.36h3v3h-3zM335.49 864.55h3v3h-3zM317.47 881.95h3v3h-3zM301.82 861.7h3v3h-3zM301.28 867.92h3v3h-3zM394.84 791.42h3v3h-3zM336.97 847.87h3v3h-3zM326.93 879.67h3v3h-3zM309.58 886.01h3v3h-3zM296.41 895.26h3v3h-3zM313.54 860h3v3h-3zM327.19 871.16h3v3h-3zM307.16 859.33h3v3h-3zM312.92 881.36h3v3h-3zM320.55 840.59h3v3h-3zM303.69 890.98h3v3h-3zM346.4 859.22h3v3h-3zM332.57 890.4h3v3h-3zM311.77 850.74h3v3h-3zM347.03 862.26h3v3h-3zM320.97 848.9h3v3h-3zM287.89 849.4h3v3h-3zM302.38 851.4h3v3h-3zM346.43 867.71h3v3h-3zM358.25 842.78h3v3h-3zM333.33 887.79h3v3h-3zM356.4 854.56h3v3h-3zM308.2 875.42h3v3h-3zM319.24 883.15h3v3h-3zM330.63 843.56h3v3h-3zM306.31 848.05h3v3h-3zM333.08 868.88h3v3h-3zM347.92 887.89h3v3h-3zM324.04 873.8h3v3h-3zM298.61 875.24h3v3h-3zM374.08 819.74h3v3h-3zM317.9 889.71h3v3h-3zM309.73 856.5h3v3h-3zM313.8 900.95h3v3h-3zM324.7 882.27h3v3h-3zM342.15 844.17h3v3h-3zM344.73 883.07h3v3h-3zM324.92 898.17h3v3h-3zM349.69 866.83h3v3h-3zM328.8 848.1h3v3h-3zM329.26 841.32h3v3h-3zM327.32 880.54h3v3h-3zM355.65 837.16h3v3h-3zM316.15 839.45h3v3h-3zM354.87 844.59h3v3h-3zM313.61 856.41h3v3h-3zM311.07 897.33h3v3h-3zM314.46 871.47h3v3h-3zM311.99 854.94h3v3h-3zM323.61 855.53h3v3h-3zM299.9 871.85h3v3h-3zM340.98 899.47h3v3h-3zM311.94 869.31h3v3h-3zM315.13 836.71h3v3h-3zM303.56 875.51h3v3h-3zM319.63 861.16h3v3h-3zM284.68 897.32h3v3h-3zM311.48 860h3v3h-3zM341.27 855.12h3v3h-3zM307.99 862.96h3v3h-3zM335.39 899.29h3v3h-3zM342.59 866.98h3v3h-3zM312.42 888.83h3v3h-3zM329.4 858.59h3v3h-3zM343.36 852.73h3v3h-3zM305.69 862.27h3v3h-3zM296.81 878.63h3v3h-3zM317.99 864.54h3v3h-3zM341.82 839.61h3v3h-3zM342.48 869.26h3v3h-3zM312.75 844.31h3v3h-3zM345.53 901h3v3h-3zM314.93 843.94h3v3h-3zM383.7 808.35h3v3h-3zM344.61 877.59h3v3h-3zM330.41 836.86h3v3h-3zM335.86 833.49h3v3h-3zM298.08 862.81h3v3h-3zM306.68 870.88h3v3h-3zM340.49 893.43h3v3h-3zM348.91 836.68h3v3h-3zM359.22 824.48h3v3h-3zM325.21 885.27h3v3h-3zM319.44 857.74h3v3h-3zM350.35 851.11h3v3h-3zM326.38 878.24h3v3h-3zM348.72 880.37h3v3h-3zM342.74 874.99h3v3h-3zM346.06 895.87h3v3h-3zM328.47 874.37h3v3h-3zM339.97 865.93h3v3h-3zM292.24 886.6h3v3h-3zM349.38 855.84h3v3h-3zM290.43 867.38h3v3h-3zM332.7 897.76h3v3h-3zM334.53 871.39h3v3h-3zM346.8 881.08h3v3h-3zM355.13 854.41h3v3h-3zM359.82 847.5h3v3h-3zM321.64 870.62h3v3h-3zM315.77 861.28h3v3h-3zM333.4 876.43h3v3h-3zM314.81 861.52h3v3h-3zM335.93 840.64h3v3h-3zM327.5 844.18h3v3h-3zM323.85 898.2h3v3h-3zM319.15 886.61h3v3h-3zM307.57 850.51h3v3h-3zM342.44 887.36h3v3h-3zM326.48 848.37h3v3h-3zM326.14 902.9h3v3h-3zM324.92 859.71h3v3h-3zM318 841.39h3v3h-3zM318.1 846.58h3v3h-3zM325.86 895.29h3v3h-3zM351.05 851.99h3v3h-3zM336.72 894.73h3v3h-3zM294.18 855.41h3v3h-3zM312.13 849.25h3v3h-3zM371.58 811.08h3v3h-3zM331.2 847.48h3v3h-3zM345.87 850.78h3v3h-3zM322.38 869.13h3v3h-3zM323.75 852h3v3h-3zM342.06 870.64h3v3h-3zM299.04 862.51h3v3h-3zM298.92 884h3v3h-3zM389.77 804.26h3v3h-3zM321.14 841.62h3v3h-3zM345.17 866.88h3v3h-3zM319.21 871.25h3v3h-3zM312.81 898.78h3v3h-3zM307.79 866.63h3v3h-3zM349.22 873.73h3v3h-3zM304.89 870.21h3v3h-3zM313.56 862.67h3v3h-3zM342.49 880.67h3v3h-3zM413.65 781.79h3v3h-3zM303 871.72h3v3h-3zM325.66 877.8h3v3h-3zM321.17 840.68h3v3h-3zM357.91 893.27h3v3h-3zM356.34 842.57h3v3h-3zM353.23 889.47h3v3h-3zM280.16 869.76h3v3h-3zM346.85 871.84h3v3h-3zM320.96 847.46h3v3h-3zM329.86 895.52h3v3h-3zM304.04 862.73h3v3h-3zM306.59 830.65h3v3h-3zM300.32 875.82h3v3h-3zM348.26 840.88h3v3h-3zM350.66 877.66h3v3h-3zM354.19 849.6h3v3h-3zM346.43 850.3h3v3h-3zM315.72 897.58h3v3h-3zM302.68 865.32h3v3h-3zM349.27 872.46h3v3h-3zM299.45 863.02h3v3h-3zM321.84 879.95h3v3h-3zM283.52 887.71h3v3h-3zM333.94 898.19h3v3h-3zM312.07 861.35h3v3h-3zM332.55 888.5h3v3h-3zM331.97 888.23h3v3h-3zM319.07 879.68h3v3h-3zM320.65 859.19h3v3h-3zM334.67 835.47h3v3h-3zM316.43 854.96h3v3h-3zM286.1 843.66h3v3h-3zM298.53 837.06h3v3h-3zM312.61 866.51h3v3h-3zM314.27 849.22h3v3h-3zM352.51 890.91h3v3h-3zM350.99 879.42h3v3h-3zM350.89 853.08h3v3h-3zM312.57 878.27h3v3h-3zM316.51 852.49h3v3h-3zM338.54 835.76h3v3h-3zM337.2 893.87h3v3h-3zM416.2 780.85h3v3h-3zM341.27 902.66h3v3h-3zM282.37 839.2h3v3h-3zM303.37 889.04h3v3h-3zM317.76 871.2h3v3h-3zM311.32 849.58h3v3h-3zM305.83 867.03h3v3h-3zM317.46 869.73h3v3h-3zM343.91 862.2h3v3h-3zM342.93 878.69h3v3h-3zM317.91 897.38h3v3h-3zM300.67 858.54h3v3h-3zM309.12 863.44h3v3h-3zM295.21 879.39h3v3h-3zM340.49 860.84h3v3h-3zM298.69 875.42h3v3h-3zM305.28 893.7h3v3h-3zM331.22 899.13h3v3h-3zM334.66 821h3v3h-3zM347.8 883.54h3v3h-3zM351.92 842.02h3v3h-3zM310.67 859.88h3v3h-3zM305.51 885.21h3v3h-3zM307.5 836.89h3v3h-3zM336.13 833.58h3v3h-3zM415.45 782.84h3v3h-3zM352.29 873.2h3v3h-3zM340.5 859.21h3v3h-3zM355.09 878.09h3v3h-3zM348.35 839.54h3v3h-3zM325.9 859.06h3v3h-3zM307.11 854.31h3v3h-3zM319.25 909.07h3v3h-3zM316.35 868.35h3v3h-3zM315.17 887.83h3v3h-3zM386.21 811.55h3v3h-3zM301.79 837.35h3v3h-3zM304.79 880.56h3v3h-3zM317.19 878.7h3v3h-3zM291.94 853.35h3v3h-3zM323.78 894.43h3v3h-3zM311.36 867.87h3v3h-3zM325.61 845.46h3v3h-3zM321.84 831.81h3v3h-3zM308.23 844.75h3v3h-3zM297.71 847.76h3v3h-3zM303.92 840.84h3v3h-3zM330.42 836.32h3v3h-3zM348.2 860.7h3v3h-3zM332.6 873.7h3v3h-3zM305.28 894.99h3v3h-3zM351.98 842.97h3v3h-3zM333.37 892.11h3v3h-3zM325.92 847.15h3v3h-3zM327.93 835.8h3v3h-3zM305.87 867.75h3v3h-3zM313.52 853.24h3v3h-3zM304.52 825.24h3v3h-3zM315.01 866.27h3v3h-3zM328.4 872.54h3v3h-3zM388.66 802.34h3v3h-3zM308.34 851.18h3v3h-3zM301.35 790.26h3v3h-3zM334.81 888.28h3v3h-3zM311.31 839.94h3v3h-3zM388 807.54h3v3h-3zM353.38 881.13h3v3h-3zM346.69 889.16h3v3h-3zM348.4 886.89h3v3h-3zM343.17 850.41h3v3h-3zM327.72 875.97h3v3h-3zM309.96 907.52h3v3h-3zM390.18 825.24h3v3h-3zM314.24 854.86h3v3h-3zM319.88 903.85h3v3h-3zM340.87 855.41h3v3h-3zM389.75 800.11h3v3h-3zM298.71 806.69h3v3h-3zM310.43 853.92h3v3h-3zM287.24 865.95h3v3h-3zM323.83 888.3h3v3h-3zM291 856.82h3v3h-3zM331.31 855.88h3v3h-3zM309.93 894.07h3v3h-3zM331.32 854.88h3v3h-3zM300.23 892.64h3v3h-3zM289.84 845.87h3v3h-3zM297.87 857.73h3v3h-3zM312.23 843.83h3v3h-3zM368.55 828.07h3v3h-3zM306.5 886.06h3v3h-3zM350.43 880.53h3v3h-3zM349.82 897.6h3v3h-3zM314.41 899.67h3v3h-3zM330.18 838.2h3v3h-3zM325.74 887.01h3v3h-3zM304.89 852.12h3v3h-3zM324.37 831.41h3v3h-3zM314.83 829.22h3v3h-3zM348.14 855.93h3v3h-3zM332.86 846.58h3v3h-3zM325.56 891.93h3v3h-3zM303.45 881.46h3v3h-3zM321.05 875.25h3v3h-3zM289.46 890.3h3v3h-3zM336.93 857.09h3v3h-3zM313.43 855.15h3v3h-3zM352.74 863.34h3v3h-3zM306.81 843.94h3v3h-3zM318.34 874.49h3v3h-3zM295.39 887h3v3h-3zM317.19 896.64h3v3h-3zM320.22 871.13h3v3h-3zM317.03 878.55h3v3h-3zM333.14 901.37h3v3h-3zM341.8 854.82h3v3h-3zM309.44 865.82h3v3h-3zM333.67 873.07h3v3h-3zM323.53 902.36h3v3h-3zM291.39 872.39h3v3h-3zM332.26 905.06h3v3h-3zM324.75 893.92h3v3h-3zM352.46 876.81h3v3h-3zM341.91 881h3v3h-3zM289.96 859.43h3v3h-3zM327.83 849.82h3v3h-3zM315.73 854.87h3v3h-3zM333.87 851.28h3v3h-3zM319.16 892.42h3v3h-3zM342.46 903.45h3v3h-3zM338 828.89h3v3h-3zM320.27 836.1h3v3h-3zM325.41 855.55h3v3h-3zM294.54 897.27h3v3h-3zM325.44 878.89h3v3h-3zM330.77 850.68h3v3h-3zM338.64 887.03h3v3h-3zM333.25 890.46h3v3h-3zM326.93 891.72h3v3h-3zM310.37 895.21h3v3h-3zM309.59 856.8h3v3h-3zM312.49 849.81h3v3h-3zM313.12 847.21h3v3h-3zM317.47 879.46h3v3h-3zM349.82 889.78h3v3h-3zM300.65 881.67h3v3h-3zM320.91 864.46h3v3h-3zM322.8 828.04h3v3h-3zM299.18 887.15h3v3h-3zM300.04 904.33h3v3h-3zM285.25 874.04h3v3h-3zM327.39 886.43h3v3h-3zM278.8 864.94h3v3h-3zM343.37 875.27h3v3h-3zM413.91 789.46h3v3h-3zM332.68 863.73h3v3h-3zM315.25 869.7h3v3h-3zM320.37 900.69h3v3h-3zM346.92 881.89h3v3h-3zM325.12 905.9h3v3h-3zM340.48 894.81h3v3h-3zM354.3 871.3h3v3h-3zM340.58 872.39h3v3h-3zM349.04 900.34h3v3h-3zM303.96 864.93h3v3h-3zM318.62 872.03h3v3h-3zM320.81 860.79h3v3h-3zM357.83 835.08h3v3h-3zM316.85 895.89h3v3h-3zM322.31 862.25h3v3h-3zM310.59 872.34h3v3h-3zM327.55 841.9h3v3h-3zM354.01 881.62h3v3h-3zM317.35 852.93h3v3h-3zM347.47 860.62h3v3h-3zM355.25 896.89h3v3h-3zM330.98 851.95h3v3h-3zM338.2 879.88h3v3h-3zM334.21 861.53h3v3h-3zM345.91 879.49h3v3h-3zM333.54 857.33h3v3h-3zM301.01 874.63h3v3h-3zM289.11 882.96h3v3h-3zM319.78 878.23h3v3h-3zM303.11 858.14h3v3h-3zM298.14 880.98h3v3h-3zM314.46 896.3h3v3h-3zM312.21 882.54h3v3h-3zM288.77 880.86h3v3h-3zM318.46 879.54h3v3h-3zM334.48 875.66h3v3h-3zM299.79 890.74h3v3h-3zM293.96 874.72h3v3h-3zM308.53 869.7h3v3h-3zM343.86 888.83h3v3h-3zM302.97 880.83h3v3h-3zM313.8 848.03h3v3h-3zM354.75 816.76h3v3h-3zM319.63 893.32h3v3h-3zM315.22 888.37h3v3h-3zM340.52 884.64h3v3h-3zM347.33 849.95h3v3h-3zM318.23 837.26h3v3h-3zM340.12 854.19h3v3h-3zM404.93 782.09h3v3h-3zM315.74 839.22h3v3h-3zM284.32 864.05h3v3h-3zM349.47 748.92h3v3h-3zM347.9 867.94h3v3h-3zM322.19 879.71h3v3h-3zM278.71 901.78h3v3h-3zM315.37 846.94h3v3h-3zM321.09 877.87h3v3h-3zM302.53 895.38h3v3h-3zM327.33 898.36h3v3h-3zM353.74 880.55h3v3h-3zM300.4 873.2h3v3h-3zM345.24 819.94h3v3h-3zM298.97 841.06h3v3h-3zM310.79 847.49h3v3h-3zM313.24 865.05h3v3h-3zM334.15 835.32h3v3h-3zM289.03 893.71h3v3h-3zM285.18 883.09h3v3h-3zM313.03 872.51h3v3h-3zM343.52 900.19h3v3h-3zM342.82 853.29h3v3h-3zM294.61 877.92h3v3h-3zM348.97 861.65h3v3h-3zM303.33 873.54h3v3h-3zM325.49 835.57h3v3h-3zM297.68 900.69h3v3h-3zM324.06 839.41h3v3h-3zM322.17 857.3h3v3h-3zM317.6 835.34h3v3h-3zM334.69 838.32h3v3h-3zM303.2 852.67h3v3h-3zM326.52 875.14h3v3h-3zM324.84 904.41h3v3h-3zM338.31 865.08h3v3h-3zM317.74 819.94h3v3h-3zM322.39 880.17h3v3h-3zM301.85 840.11h3v3h-3zM332.9 849.11h3v3h-3zM327.04 848h3v3h-3zM303.05 838.03h3v3h-3zM290.42 887.57h3v3h-3zM352.57 856.37h3v3h-3zM321.6 834.04h3v3h-3zM292.14 884.06h3v3h-3zM343.4 844.28h3v3h-3zM296.73 867.19h3v3h-3zM317.09 877.66h3v3h-3zM285.77 867.87h3v3h-3zM327.37 892.22h3v3h-3zM307.42 862.25h3v3h-3zM330.73 843.77h3v3h-3zM333.91 863.94h3v3h-3zM322.18 883.72h3v3h-3zM326.62 844.44h3v3h-3zM309.5 872.22h3v3h-3zM369.58 807.66h3v3h-3zM336.36 881.59h3v3h-3zM322.11 868.65h3v3h-3zM311.91 871.69h3v3h-3zM317.85 883.1h3v3h-3zM328.07 883.51h3v3h-3zM352.65 893.68h3v3h-3zM319.93 847.1h3v3h-3zM341.58 881.56h3v3h-3zM411.37 784.88h3v3h-3zM310.64 883.57h3v3h-3zM328.66 901.56h3v3h-3zM302.58 859.78h3v3h-3zM350.39 854.55h3v3h-3zM326.51 836.75h3v3h-3zM302.55 849.28h3v3h-3zM324.56 848.44h3v3h-3zM347.93 865.96h3v3h-3zM352.51 903.25h3v3h-3zM347.89 884.53h3v3h-3zM317.68 898.42h3v3h-3zM348.08 872.06h3v3h-3zM306.26 893.99h3v3h-3zM350.58 887.79h3v3h-3zM327.99 879.69h3v3h-3zM312.86 856.76h3v3h-3zM335.41 852.31h3v3h-3zM305.73 863.87h3v3h-3zM380.68 813.56h3v3h-3zM294.71 874.78h3v3h-3zM341.03 864.33h3v3h-3zM337.46 844.91h3v3h-3zM324.54 855.83h3v3h-3zM344.64 893.6h3v3h-3zM336.27 903.47h3v3h-3zM290.36 834.5h3v3h-3zM346.39 880.69h3v3h-3zM404.98 796.94h3v3h-3zM348.51 849.71h3v3h-3zM343.22 844.34h3v3h-3zM337.42 893.29h3v3h-3zM303.01 875.11h3v3h-3zM317.51 894.38h3v3h-3zM303.32 876.23h3v3h-3zM350.57 855.57h3v3h-3zM308.46 849.36h3v3h-3zM395.37 800.12h3v3h-3zM321.1 886.69h3v3h-3zM293.52 863.61h3v3h-3zM327.5 849.84h3v3h-3zM290.45 835.75h3v3h-3zM326.98 893.02h3v3h-3zM324.94 869.21h3v3h-3zM333.4 882.02h3v3h-3zM406.33 782.02h3v3h-3zM297.38 890.96h3v3h-3zM281.85 862.08h3v3h-3zM295.81 861.76h3v3h-3zM281.4 865.99h3v3h-3zM316.05 875.9h3v3h-3zM338.54 874.47h3v3h-3zM356.16 886.01h3v3h-3zM312.89 876.27h3v3h-3zM367.94 813.88h3v3h-3zM348.31 878.71h3v3h-3zM318.1 855.52h3v3h-3zM339.56 896.06h3v3h-3zM339.42 877.64h3v3h-3zM347.05 865.98h3v3h-3zM300.23 854.5h3v3h-3zM277.65 888.06h3v3h-3zM346.3 768h3v3h-3zM294.93 862.4h3v3h-3zM323.12 892.56h3v3h-3zM313.87 854.89h3v3h-3zM350.34 882.13h3v3h-3zM339.53 847.82h3v3h-3zM354.33 881.62h3v3h-3zM329.48 847.94h3v3h-3zM321.28 877.45h3v3h-3zM305.26 866.58h3v3h-3zM338.87 856.75h3v3h-3zM305.25 903.86h3v3h-3zM328.74 867.52h3v3h-3zM347.39 898.92h3v3h-3zM333.9 879.23h3v3h-3zM328.61 883.7h3v3h-3zM339.8 895.67h3v3h-3zM320.72 870.23h3v3h-3zM322.6 853.42h3v3h-3zM299.15 895.34h3v3h-3zM310.11 892.16h3v3h-3zM310.71 869.94h3v3h-3zM309.7 867.88h3v3h-3zM303.77 829.89h3v3h-3zM314.29 861.17h3v3h-3zM354.8 872.25h3v3h-3zM308.23 831.6h3v3h-3zM383.37 816.19h3v3h-3zM357.49 840.84h3v3h-3zM281.27 856.89h3v3h-3zM302.4 867.98h3v3h-3zM373.68 808.33h3v3h-3zM398.01 798.04h3v3h-3zM339.01 869.85h3v3h-3zM325.82 845.36h3v3h-3zM295.34 875.02h3v3h-3zM293.97 863.66h3v3h-3zM339.54 861.04h3v3h-3zM287.07 830.54h3v3h-3zM346.1 872.9h3v3h-3zM314.25 889.82h3v3h-3zM335.79 865.03h3v3h-3zM314.37 884.08h3v3h-3zM321.23 898.87h3v3h-3zM301.27 831.86h3v3h-3zM367.64 821.08h3v3h-3zM329.57 837.61h3v3h-3zM293.62 863.42h3v3h-3zM333.29 862.6h3v3h-3zM284.93 883.78h3v3h-3zM355.48 850.05h3v3h-3zM343.51 845.27h3v3h-3zM350.62 864.67h3v3h-3zM383.03 805.26h3v3h-3zM326.85 842.17h3v3h-3zM298.55 908.63h3v3h-3zM375.38 793.44h3v3h-3zM313.68 885.5h3v3h-3zM328.33 857.08h3v3h-3zM303.45 870.3h3v3h-3zM348.79 864.14h3v3h-3zM292.82 869.62h3v3h-3zM314.95 840.21h3v3h-3zM315.93 877.98h3v3h-3zM374.24 812.97h3v3h-3zM285.97 863.92h3v3h-3zM332.44 854.09h3v3h-3zM348.03 885.82h3v3h-3zM312.06 852.42h3v3h-3zM299.04 866.65h3v3h-3zM319.04 885.45h3v3h-3zM301.31 883.24h3v3h-3zM313.02 864.25h3v3h-3zM294.34 838.19h3v3h-3zM297.59 873.55h3v3h-3zM350.36 832.05h3v3h-3zM303.13 863.38h3v3h-3zM339.29 882.54h3v3h-3zM283.72 833.92h3v3h-3zM295.02 882.1h3v3h-3zM337.91 849.92h3v3h-3zM312.56 864.25h3v3h-3zM325.25 856.35h3v3h-3zM341.56 877.3h3v3h-3zM331.38 903.62h3v3h-3zM339.89 849.81h3v3h-3zM313.14 862.15h3v3h-3zM345.87 871.24h3v3h-3zM340.82 901.93h3v3h-3zM313.33 884.51h3v3h-3zM321.78 884.71h3v3h-3zM314.19 879h3v3h-3zM320.62 868.95h3v3h-3zM341.45 866.21h3v3h-3zM309.54 888.65h3v3h-3zM331.83 884.13h3v3h-3zM289.44 875.57h3v3h-3zM298.39 886.66h3v3h-3zM341.65 851.67h3v3h-3zM360.36 822.42h3v3h-3zM299.29 879.15h3v3h-3zM326.73 813.05h3v3h-3zM302.77 863.99h3v3h-3zM311.55 858.52h3v3h-3zM336.02 852.26h3v3h-3zM278.48 853.34h3v3h-3zM371.68 804.04h3v3h-3zM292.03 898.78h3v3h-3zM415.4 782.43h3v3h-3zM318.14 890.58h3v3h-3zM315.38 861.89h3v3h-3zM350.2 866.09h3v3h-3zM302.31 863.48h3v3h-3zM298 877h3v3h-3zM352.96 857.1h3v3h-3zM305.36 856.53h3v3h-3zM355.69 882.77h3v3h-3zM332.04 840.83h3v3h-3zM313.52 833.81h3v3h-3zM331.42 884.25h3v3h-3zM343.75 887.63h3v3h-3zM320.5 853.77h3v3h-3zM305.66 858.99h3v3h-3zM322.83 832.67h3v3h-3zM304.35 845.65h3v3h-3zM285.31 846.13h3v3h-3zM288.87 849.65h3v3h-3zM356.85 878.84h3v3h-3zM341.26 865.84h3v3h-3zM324.75 856.06h3v3h-3zM295.01 830.01h3v3h-3zM314.42 877.67h3v3h-3zM285.87 884.54h3v3h-3zM309.02 900.32h3v3h-3zM281.66 880.15h3v3h-3zM402.89 796.6h3v3h-3zM301.69 847.8h3v3h-3zM295.9 852.1h3v3h-3zM335.13 873.37h3v3h-3zM296.51 881.71h3v3h-3zM293.21 844.19h3v3h-3zM294.98 863.06h3v3h-3zM297.13 837.71h3v3h-3zM308.38 847.12h3v3h-3zM342.33 872.53h3v3h-3zM339.76 881.49h3v3h-3zM316.44 894.4h3v3h-3zM322.03 887.12h3v3h-3zM336.44 901.23h3v3h-3zM280.21 860.91h3v3h-3zM332 850.87h3v3h-3zM403.45 790.41h3v3h-3zM354.45 824.55h3v3h-3zM336.22 872.17h3v3h-3zM319.83 833.1h3v3h-3zM362.61 830.11h3v3h-3zM301.27 875.52h3v3h-3zM307.27 865.92h3v3h-3zM286.47 895.35h3v3h-3zM343.72 866.58h3v3h-3zM315.2 867.23h3v3h-3zM297.63 866.5h3v3h-3zM300.09 883.85h3v3h-3zM333.32 902.09h3v3h-3zM317.08 908.02h3v3h-3zM327.73 834.07h3v3h-3zM326.6 882.91h3v3h-3zM337.11 898.29h3v3h-3zM346.41 882.63h3v3h-3zM318.03 847.57h3v3h-3zM291.19 854.76h3v3h-3zM321.82 842.95h3v3h-3zM315.35 865.94h3v3h-3zM300.46 864.96h3v3h-3zM347.95 846.8h3v3h-3zM312.04 864.72h3v3h-3zM337.3 893.5h3v3h-3zM323.39 857.91h3v3h-3zM309.42 890.39h3v3h-3zM394.71 798.3h3v3h-3zM355.24 859.49h3v3h-3zM322.33 882.11h3v3h-3zM328.51 879.84h3v3h-3zM285.06 854.57h3v3h-3zM350.96 862.22h3v3h-3zM336.16 849.92h3v3h-3zM342.89 834.96h3v3h-3zM349.59 850.32h3v3h-3zM304.64 869.05h3v3h-3zM313.06 864.84h3v3h-3zM326.08 854.72h3v3h-3zM308.31 905.68h3v3h-3zM307.76 885.29h3v3h-3zM301.76 840.31h3v3h-3zM321.7 844.61h3v3h-3zM378.02 809.66h3v3h-3zM306.51 887.34h3v3h-3zM315.45 850.46h3v3h-3zM322.17 871.77h3v3h-3zM333.78 877.45h3v3h-3zM289.47 876.73h3v3h-3zM356.76 862.45h3v3h-3zM337.37 859.22h3v3h-3zM348.36 892.03h3v3h-3zM354.78 879.46h3v3h-3zM320.66 865.41h3v3h-3zM354.9 873.82h3v3h-3zM342.15 861.48h3v3h-3zM343.47 890.13h3v3h-3zM345.11 864.09h3v3h-3zM344.26 868.22h3v3h-3zM308.23 873.69h3v3h-3zM295.67 868.5h3v3h-3zM350.48 871.29h3v3h-3zM303.22 876.1h3v3h-3zM315.76 855.08h3v3h-3zM330.51 850.42h3v3h-3zM356.71 879.31h3v3h-3zM315.49 882.27h3v3h-3zM306.55 899.43h3v3h-3zM329.49 849.16h3v3h-3zM314.16 857.62h3v3h-3zM345.26 885h3v3h-3zM334.04 856.24h3v3h-3zM311.88 855.2h3v3h-3zM279.73 860.79h3v3h-3zM302.23 876.62h3v3h-3zM335.33 848.48h3v3h-3zM389.29 789.93h3v3h-3zM345.48 866.5h3v3h-3zM342.99 872.6h3v3h-3zM334.24 853.25h3v3h-3zM323.03 873.09h3v3h-3zM300.46 841.1h3v3h-3zM395.71 795.85h3v3h-3zM332.96 849.71h3v3h-3zM356.26 883.63h3v3h-3zM337.61 855.4h3v3h-3zM337.72 843.48h3v3h-3zM360.09 829.46h3v3h-3zM297.77 889.58h3v3h-3zM361.34 850.24h3v3h-3zM328.97 858.15h3v3h-3zM311.31 855.41h3v3h-3zM308.09 885.2h3v3h-3zM341.59 880.05h3v3h-3zM339.08 890.9h3v3h-3zM342.44 884.95h3v3h-3zM325.07 859.82h3v3h-3zM343.72 890.83h3v3h-3zM338.99 844.12h3v3h-3zM303.36 864.28h3v3h-3zM306.74 894.79h3v3h-3zM304 875.4h3v3h-3zM305.29 899.95h3v3h-3zM307.48 847.19h3v3h-3zM322.15 867.08h3v3h-3zM330.86 867.38h3v3h-3zM351.36 838.55h3v3h-3zM383.54 807.39h3v3h-3zM334.83 877.57h3v3h-3zM342.5 870.65h3v3h-3zM337.95 888.77h3v3h-3zM351.74 850.93h3v3h-3zM329.59 887.24h3v3h-3zM299.71 865.89h3v3h-3zM310.78 863.09h3v3h-3zM291.47 880.74h3v3h-3zM284.05 873.1h3v3h-3zM334.02 835.48h3v3h-3zM354.76 873.83h3v3h-3zM287.78 889.4h3v3h-3zM319.97 861.27h3v3h-3zM316.21 864.56h3v3h-3zM347.78 874.67h3v3h-3zM408.65 787.48h3v3h-3zM364.48 858.39h3v3h-3zM294.38 889.86h3v3h-3zM299.05 847.59h3v3h-3zM315.13 884.83h3v3h-3zM303.3 871.97h3v3h-3zM351.52 854.13h3v3h-3zM325.99 879.67h3v3h-3zM387.59 800.01h3v3h-3zM330.41 896.36h3v3h-3zM348.75 857.59h3v3h-3zM318.19 887.47h3v3h-3zM302.95 893.38h3v3h-3zM309.2 887.09h3v3h-3zM321.26 873.57h3v3h-3zM287.49 838.82h3v3h-3zM348.34 841.17h3v3h-3zM414.23 787.18h3v3h-3zM351.68 864.52h3v3h-3zM350.16 883.72h3v3h-3zM338.4 840.73h3v3h-3zM350.08 849.53h3v3h-3zM317.38 883.74h3v3h-3zM318.05 864.34h3v3h-3zM331.09 880.37h3v3h-3zM354.28 833.42h3v3h-3zM310.5 896.02h3v3h-3zM293.81 855.23h3v3h-3zM352.69 842.06h3v3h-3zM310.28 834.55h3v3h-3zM344.07 849.23h3v3h-3zM328.48 875.29h3v3h-3zM309.68 898.04h3v3h-3zM357.45 893.06h3v3h-3zM323.03 815.7h3v3h-3zM305.14 877.6h3v3h-3zM332.54 896.75h3v3h-3zM314.01 860.5h3v3h-3zM321.43 865.49h3v3h-3zM297.67 889.12h3v3h-3zM326.74 874.26h3v3h-3zM342.88 863.56h3v3h-3zM317.97 834.13h3v3h-3zM332.84 884.64h3v3h-3zM319.34 860.09h3v3h-3zM349.29 835.96h3v3h-3zM314.35 861.22h3v3h-3zM308.05 898.53h3v3h-3zM338.1 885.67h3v3h-3zM341.81 853.58h3v3h-3zM311.24 898.7h3v3h-3zM309.09 851.24h3v3h-3zM310.23 900.3h3v3h-3zM403.4 813.58h3v3h-3zM311.28 878.56h3v3h-3zM339.92 887.34h3v3h-3zM331.16 847.16h3v3h-3zM325.48 906.73h3v3h-3zM323.03 848.47h3v3h-3zM299.25 869.1h3v3h-3zM321.97 855.63h3v3h-3zM383.73 807.24h3v3h-3zM349.99 846.17h3v3h-3zM278.93 887.74h3v3h-3zM358.98 825.2h3v3h-3zM332.71 881.24h3v3h-3zM366.39 883.54h3v3h-3zM343.67 864.62h3v3h-3zM329.91 868.31h3v3h-3zM309.95 852.37h3v3h-3zM279.5 860.72h3v3h-3zM284.07 860.71h3v3h-3zM307.23 897.82h3v3h-3zM295.45 862.11h3v3h-3zM320.66 848.58h3v3h-3zM304.83 902.72h3v3h-3zM336.2 875.45h3v3h-3zM343.83 898.06h3v3h-3zM351.12 833.03h3v3h-3zM313.03 843.19h3v3h-3zM307.13 863.88h3v3h-3zM345.12 885.79h3v3h-3zM335.08 892.5h3v3h-3zM322.94 843.41h3v3h-3zM281.95 867.49h3v3h-3zM278.85 869.21h3v3h-3zM302.15 852.46h3v3h-3zM343.79 877.26h3v3h-3zM293.7 896.6h3v3h-3zM278.22 854.56h3v3h-3zM341.41 848.75h3v3h-3zM326.91 889.89h3v3h-3zM352.18 871.62h3v3h-3zM313.14 894.72h3v3h-3zM348.13 889.22h3v3h-3zM334.69 838.47h3v3h-3zM333.42 898.39h3v3h-3zM314.42 887.22h3v3h-3zM334.57 833.38h3v3h-3zM354.49 869.03h3v3h-3zM332.95 826.4h3v3h-3zM298.36 841.64h3v3h-3zM319.72 897.75h3v3h-3zM315.42 866.17h3v3h-3zM289.72 900.11h3v3h-3zM308.68 878.66h3v3h-3zM339.72 847.39h3v3h-3zM395.05 798.27h3v3h-3zM374.59 818.01h3v3h-3zM402.33 788.47h3v3h-3zM296.91 872.91h3v3h-3zM313.35 861.28h3v3h-3zM302.61 860.63h3v3h-3zM299.9 882.08h3v3h-3zM310.12 903.03h3v3h-3zM310.32 863.84h3v3h-3zM334.4 855h3v3h-3zM339.44 864.97h3v3h-3zM307.21 839.25h3v3h-3zM340.76 893.82h3v3h-3zM292.81 838.41h3v3h-3zM353.93 878.4h3v3h-3zM352.46 854.94h3v3h-3zM352.71 876.32h3v3h-3zM298.47 847.14h3v3h-3zM383.41 807.38h3v3h-3zM303.69 896.55h3v3h-3zM316.39 829.06h3v3h-3zM295.72 900.09h3v3h-3zM313.57 883.9h3v3h-3zM336.12 874.47h3v3h-3zM302.3 860.36h3v3h-3zM280.89 847.52h3v3h-3zM352.74 895.45h3v3h-3zM305.7 886.37h3v3h-3zM335.12 851.91h3v3h-3zM353.96 854.9h3v3h-3zM310.92 869.83h3v3h-3zM313.38 894.08h3v3h-3zM321.02 876.17h3v3h-3zM325.14 786.02h3v3h-3zM324.19 864.76h3v3h-3zM349.4 887.59h3v3h-3zM362.52 824.05h3v3h-3zM311.68 845.12h3v3h-3zM306.23 846.63h3v3h-3zM299.63 834.31h3v3h-3zM328.93 852.64h3v3h-3zM291.75 872.02h3v3h-3zM324.56 863.59h3v3h-3zM334.57 857.56h3v3h-3zM315.84 897.19h3v3h-3zM344.92 881.46h3v3h-3zM337.89 862.59h3v3h-3zM377.26 813.45h3v3h-3zM311.13 891.15h3v3h-3zM322.39 901.9h3v3h-3zM334.97 831.45h3v3h-3zM308.94 873.48h3v3h-3zM314.91 887.58h3v3h-3zM331.24 884.59h3v3h-3zM328.73 874.88h3v3h-3zM314.81 892.8h3v3h-3zM303.03 850.56h3v3h-3zM335.11 853.21h3v3h-3zM310.26 873.78h3v3h-3zM314.81 841.48h3v3h-3zM325.06 884.02h3v3h-3zM340.38 861.5h3v3h-3zM301.33 845.76h3v3h-3zM320.68 878.59h3v3h-3zM288.44 876.91h3v3h-3zM314.15 872.77h3v3h-3zM347.45 889.32h3v3h-3zM304.53 872.43h3v3h-3zM283.54 882.69h3v3h-3zM291.3 871.98h3v3h-3zM289.1 874.75h3v3h-3zM338.68 882.51h3v3h-3zM278.62 847.6h3v3h-3zM363.34 848.9h3v3h-3zM339.54 871.25h3v3h-3zM312.65 876.69h3v3h-3zM351.57 873.08h3v3h-3zM293.86 883.31h3v3h-3zM292.23 882.4h3v3h-3zM341.04 881.86h3v3h-3zM326.55 846.35h3v3h-3zM329.53 896.13h3v3h-3zM344.49 837.37h3v3h-3zM307.59 873.73h3v3h-3zM331.67 838.21h3v3h-3zM390.58 796.93h3v3h-3zM320.47 883.88h3v3h-3zM341.03 884.39h3v3h-3zM285.87 891.19h3v3h-3zM338.04 880.69h3v3h-3z" fill="#3d3d3d"/>
<path d="M324.8 868.25h3v3h-3zM338.05 866.07h3v3h-3zM327.5 863.35h3v3h-3zM296.45 864.82h3v3h-3zM345.26 881.71h3v3h-3zM347.58 862.69h3v3h-3zM328.26 856.49h3v3h-3zM331.13 874.61h3v3h-3zM280.69 855.21h3v3h-3zM334.21 854.59h3v3h-3zM328.73 869.54h3v3h-3zM320.04 860.25h3v3h-3zM319.09 863.79h3v3h-3zM323.21 867.16h3v3h-3zM321.74 864.56h3v3h-3zM326.99 857.6h3v3h-3zM330.65 870.45h3v3h-3zM346.7 869.74h3v3h-3zM338.41 861.3h3v3h-3zM335.33 861.22h3v3h-3zM354.23 867.49h3v3h-3zM341.55 879.74h3v3h-3zM325.64 865.33h3v3h-3zM333.2 854.34h3v3h-3zM328.4 866.2h3v3h-3zM336.32 868.31h3v3h-3zM324 855.36h3v3h-3zM335.13 853.96h3v3h-3zM329.58 874.47h3v3h-3zM332.79 863.62h3v3h-3zM344.07 871.47h3v3h-3zM308.18 866.44h3v3h-3zM326.69 854.92h3v3h-3zM320.74 875.34h3v3h-3zM311.56 843.28h3v3h-3zM323.7 876.32h3v3h-3zM328.42 872.28h3v3h-3zM324.63 856.16h3v3h-3zM323.91 869.14h3v3h-3zM325.59 872.3h3v3h-3zM317.69 874.46h3v3h-3zM342.13 867.52h3v3h-3zM320.06 864.62h3v3h-3zM325.86 859.46h3v3h-3zM310.06 854.97h3v3h-3zM324.08 857.88h3v3h-3zM309.18 876.97h3v3h-3zM315.92 867.54h3v3h-3zM338.96 864.09h3v3h-3zM342.72 876.19h3v3h-3zM327.88 875.75h3v3h-3zM292.72 864.42h3v3h-3zM341.29 872.48h3v3h-3zM343.27 892.66h3v3h-3zM334.98 859.91h3v3h-3zM333.9 872.69h3v3h-3zM333.8 866.79h3v3h-3zM326.22 857.91h3v3h-3zM321.66 878.05h3v3h-3zM327.72 867.94h3v3h-3zM323.06 860.87h3v3h-3zM327.46 857.31h3v3h-3zM317.06 862.65h3v3h-3zM324.17 858.21h3v3h-3zM325.16 862.94h3v3h-3zM321.7 870.07h3v3h-3zM329.31 868.24h3v3h-3zM320.23 830.51h3v3h-3zM334.63 882.61h3v3h-3zM355.48 862.03h3v3h-3zM329.33 861.41h3v3h-3zM323.47 869.88h3v3h-3zM327.01 875.19h3v3h-3zM333.95 856.14h3v3h-3zM304.71 868.38h3v3h-3zM322.52 855.67h3v3h-3zM319.56 870.74h3v3h-3zM322.44 874.15h3v3h-3zM341.09 871.35h3v3h-3zM337.4 875.93h3v3h-3zM340.98 831.11h3v3h-3zM321.88 867.25h3v3h-3zM319.94 875.48h3v3h-3zM323.82 870.33h3v3h-3zM330.67 874.99h3v3h-3zM318.44 875.88h3v3h-3zM333.74 885.44h3v3h-3zM341.47 857.43h3v3h-3zM346.87 841.94h3v3h-3zM327.58 876.71h3v3h-3zM318.68 856.89h3v3h-3zM340.93 876.76h3v3h-3zM350.02 867.37h3v3h-3zM328.6 874.1h3v3h-3zM322.44 866.27h3v3h-3zM332.59 902.77h3v3h-3zM337.42 864.33h3v3h-3zM335.36 866.16h3v3h-3zM318.77 851.43h3v3h-3zM321.75 872.73h3v3h-3zM313.83 868.66h3v3h-3zM326.16 864.35h3v3h-3zM328.06 857.95h3v3h-3zM324.33 867.74h3v3h-3zM353.55 833.71h3v3h-3zM327.6 869.06h3v3h-3zM320.19 880.32h3v3h-3zM334.98 858.29h3v3h-3zM329.72 868.6h3v3h-3zM324.03 861.2h3v3h-3zM302.89 832.95h3v3h-3zM326.2 861.83h3v3h-3zM317.51 869.19h3v3h-3zM328.82 860.44h3v3h-3zM321.49 868.6h3v3h-3zM319.45 864.96h3v3h-3zM327.57 864.73h3v3h-3zM333.5 858.54h3v3h-3zM320.08 867.3h3v3h-3zM316.24 858.83h3v3h-3zM331.55 878.02h3v3h-3zM329.96 882.24h3v3h-3zM325.14 876.9h3v3h-3zM357.35 882.08h3v3h-3zM323.8 866.47h3v3h-3zM322.02 862.77h3v3h-3zM325.7 896.57h3v3h-3zM331.57 862.16h3v3h-3zM343.61 868.82h3v3h-3zM326.73 880.72h3v3h-3zM330.7 876.02h3v3h-3zM323.79 864.03h3v3h-3zM313.98 843.54h3v3h-3zM296.36 869.67h3v3h-3zM284.29 882.64h3v3h-3zM339.62 899.54h3v3h-3zM331.13 870.41h3v3h-3zM334.68 892.51h3v3h-3zM303.93 879.75h3v3h-3zM336.62 869.11h3v3h-3zM332.24 869.02h3v3h-3zM326.48 858.78h3v3h-3zM309.94 870.33h3v3h-3zM335.6 860.02h3v3h-3zM312.8 867.18h3v3h-3zM350.04 862.51h3v3h-3zM349.43 837.3h3v3h-3zM327.28 871.14h3v3h-3zM334.31 867.63h3v3h-3zM291.78 869.05h3v3h-3zM338.55 853.3h3v3h-3zM323.32 861.41h3v3h-3zM332.3 873.84h3v3h-3zM324.67 836.86h3v3h-3zM334.44 866.46h3v3h-3zM332.33 875.22h3v3h-3zM327.38 859.81h3v3h-3zM318.08 855.41h3v3h-3zM316.82 880.01h3v3h-3zM327.46 881.98h3v3h-3zM328.63 871.46h3v3h-3zM317.98 867.23h3v3h-3zM337.35 880.92h3v3h-3zM337.39 861.66h3v3h-3zM324.62 872.7h3v3h-3zM339.77 863.5h3v3h-3zM334.69 855.31h3v3h-3zM328.46 878.77h3v3h-3zM321.73 858.52h3v3h-3zM337.05 861.17h3v3h-3zM316.01 862.11h3v3h-3zM317.75 872.47h3v3h-3zM329.53 854.48h3v3h-3zM321.17 854.58h3v3h-3zM291.08 875.23h3v3h-3zM331.97 865.35h3v3h-3zM331.58 861.6h3v3h-3zM300.12 853.08h3v3h-3zM318.35 845.06h3v3h-3zM340 869.34h3v3h-3zM321.83 872.19h3v3h-3zM330.24 903.74h3v3h-3zM337.1 857.25h3v3h-3zM336.94 880.74h3v3h-3zM320.38 861.9h3v3h-3zM315.28 863.63h3v3h-3zM323.3 861.92h3v3h-3zM335.22 874.32h3v3h-3zM325.76 847.2h3v3h-3zM325.52 870.57h3v3h-3zM329.7 866.46h3v3h-3zM317.84 868.64h3v3h-3zM327.55 864.71h3v3h-3zM340.68 868.49h3v3h-3zM328.2 879.93h3v3h-3zM331.54 874h3v3h-3zM335.3 859.75h3v3h-3zM340.85 870.73h3v3h-3zM331.59 880.43h3v3h-3zM332.08 863.35h3v3h-3zM333.2 864.95h3v3h-3zM329.82 872.38h3v3h-3zM309.71 896.53h3v3h-3zM339.25 868.7h3v3h-3zM332.35 857.22h3v3h-3zM322.14 874.67h3v3h-3zM316.17 864.45h3v3h-3zM335.22 857.2h3v3h-3zM292.43 877.38h3v3h-3zM337.67 866.44h3v3h-3zM321.3 899.35h3v3h-3zM333.4 881.6h3v3h-3zM321.6 841.54h3v3h-3zM320.11 878.29h3v3h-3zM343.78 868.83h3v3h-3zM316.97 873.02h3v3h-3zM329.22 867.97h3v3h-3zM320.8 877.73h3v3h-3zM317.87 861.17h3v3h-3zM330.02 866.98h3v3h-3zM353.68 889.05h3v3h-3zM333.92 874.85h3v3h-3zM332.32 851.12h3v3h-3zM333.16 870.04h3v3h-3zM296.65 862.6h3v3h-3zM332.5 873.44h3v3h-3zM309.42 896.25h3v3h-3zM326.2 873.76h3v3h-3zM330.92 856.14h3v3h-3zM318.88 907.03h3v3h-3zM339.74 859.77h3v3h-3zM337.14 861.38h3v3h-3zM336.16 875.7h3v3h-3zM318.83 865.28h3v3h-3zM320.46 876.88h3v3h-3zM335.91 865.33h3v3h-3zM320.39 868.93h3v3h-3zM350.27 896.8h3v3h-3zM333.51 861.95h3v3h-3zM347.48 873.98h3v3h-3zM317.91 874.59h3v3h-3zM330.11 870.6h3v3h-3zM335.59 864.73h3v3h-3zM330.31 863.8h3v3h-3zM319.85 871.17h3v3h-3zM321.87 869.93h3v3h-3zM332.14 870.03h3v3h-3zM336.31 873.49h3v3h-3zM323.82 864.32h3v3h-3zM327.83 864.57h3v3h-3zM324.64 868.39h3v3h-3zM334.64 871.94h3v3h-3zM326.41 862.15h3v3h-3zM314.7 859.1h3v3h-3zM332.75 865.42h3v3h-3zM333.94 879.92h3v3h-3zM297.86 838.73h3v3h-3zM327.76 846.3h3v3h-3zM332.66 872.91h3v3h-3zM321.27 862.15h3v3h-3zM326.47 862.73h3v3h-3zM319.38 867.6h3v3h-3zM302.31 856.16h3v3h-3zM329.88 871.78h3v3h-3zM337.03 877.57h3v3h-3zM325.41 868.17h3v3h-3zM328.04 870.49h3v3h-3zM336.11 882.75h3v3h-3zM313.98 869.31h3v3h-3zM319.37 858.66h3v3h-3zM329.17 863.2h3v3h-3zM320.25 874.63h3v3h-3zM335.43 879.34h3v3h-3zM304.21 838.74h3v3h-3zM331.12 873.11h3v3h-3zM324.74 862.93h3v3h-3zM320.47 900.25h3v3h-3zM318.08 869.53h3v3h-3zM334.89 877.54h3v3h-3zM329.47 862.97h3v3h-3zM329.1 867.33h3v3h-3zM346.54 876.97h3v3h-3zM320.19 870.16h3v3h-3zM342.83 855.59h3v3h-3zM305.46 849.28h3v3h-3zM320.26 867.78h3v3h-3zM331.12 853.8h3v3h-3zM335.26 866.8h3v3h-3zM329.32 875.98h3v3h-3zM325.22 863.81h3v3h-3zM318.75 855.75h3v3h-3zM328.23 851.91h3v3h-3zM331.59 869.42h3v3h-3zM328.53 862.15h3v3h-3zM326.67 855.93h3v3h-3zM317.15 863.09h3v3h-3zM323.53 895.72h3v3h-3zM337.09 863.49h3v3h-3zM324.23 866.83h3v3h-3zM335.31 862.38h3v3h-3z" fill="#c6c6c6"/>
<line x1="285.93" y1="911.7" x2="359.96" y2="911.7" stroke="#cfcfcf" stroke-width="1.2" stroke-linecap="butt"/>
<polyline points="278,835.38 355.51,835.38" fill="none" stroke="#4f4f4f" stroke-width="1.2" stroke-linejoin="round"/>
<line x1="355.51" y1="834.78" x2="355.51" y2="912.6" stroke="#333" stroke-width="1.5" stroke-linecap="butt"/>
<ellipse cx="405.4" cy="783" rx="53.8" ry="29.2" transform="rotate(-45 405.4 783)" fill="none" stroke="#4a4a4a" stroke-width="1.5"/>
<line x1="277.2" y1="970.8" x2="489.4" y2="970.8" stroke="#7c7c7c" stroke-width="1.1" stroke-linecap="butt"/>
<line x1="489.4" y1="970.8" x2="489.4" y2="1183.8" stroke="#7c7c7c" stroke-width="1.1" stroke-linecap="butt"/>
<line x1="277.2" y1="970.2" x2="277.2" y2="1184.5" stroke="#4a4a4a" stroke-width="1.4" stroke-linecap="butt"/>
<line x1="276.5" y1="1183.8" x2="490" y2="1183.8" stroke="#4a4a4a" stroke-width="1.4" stroke-linecap="butt"/>
<path d="M273.7 1167.77H277.2M293.17 1183.8V1187.3M273.7 1158.39H277.2M302.51 1183.8V1187.3M273.7 1151.74H277.2M309.14 1183.8V1187.3M272.2 1146.58H277.2M314.28 1183.8V1188.8M273.7 1142.36H277.2M318.48 1183.8V1187.3M273.7 1138.8H277.2M322.03 1183.8V1187.3M273.7 1135.71H277.2M325.11 1183.8V1187.3M273.7 1132.99H277.2M327.82 1183.8V1187.3M273.7 1114.52H277.2M346.22 1183.8V1187.3M273.7 1105.14H277.2M355.56 1183.8V1187.3M273.7 1098.49H277.2M362.19 1183.8V1187.3M272.2 1093.33H277.2M367.33 1183.8V1188.8M273.7 1089.11H277.2M371.53 1183.8V1187.3M273.7 1085.55H277.2M375.08 1183.8V1187.3M273.7 1082.46H277.2M378.16 1183.8V1187.3M273.7 1079.74H277.2M380.87 1183.8V1187.3M273.7 1061.27H277.2M399.27 1183.8V1187.3M273.7 1051.89H277.2M408.61 1183.8V1187.3M273.7 1045.24H277.2M415.24 1183.8V1187.3M272.2 1040.08H277.2M420.38 1183.8V1188.8M273.7 1035.86H277.2M424.58 1183.8V1187.3M273.7 1032.3H277.2M428.13 1183.8V1187.3M273.7 1029.21H277.2M431.21 1183.8V1187.3M273.7 1026.49H277.2M433.92 1183.8V1187.3M273.7 1008.02H277.2M452.32 1183.8V1187.3M273.7 998.64H277.2M461.66 1183.8V1187.3M273.7 991.99H277.2M468.29 1183.8V1187.3M272.2 986.83H277.2M473.43 1183.8V1188.8M273.7 982.61H277.2M477.63 1183.8V1187.3M273.7 979.05H277.2M481.18 1183.8V1187.3M273.7 975.96H277.2M484.26 1183.8V1187.3M273.7 973.24H277.2M486.97 1183.8V1187.3" stroke="#666" stroke-width="1.05" fill="none"/>
<path d="M270.4 1183.8H277.2M277.2 1183.8V1190.6M270.4 1130.55H277.2M330.25 1183.8V1190.6M270.4 1077.3H277.2M383.3 1183.8V1190.6M270.4 1024.05H277.2M436.35 1183.8V1190.6M270.4 970.8H277.2M489.4 1183.8V1190.6" stroke="#3c3c3c" stroke-width="1.6" fill="none"/>
<text x="266.4" y="1189.6" font-size="12.2" text-anchor="end" fill="#2e2e2e">10<tspan font-size="7.8" dy="-6.4">0</tspan></text>
<text x="269.2" y="1206" font-size="12.2" text-anchor="start" fill="#2e2e2e">10<tspan font-size="7.8" dy="-6.4">0</tspan></text>
<text x="266.4" y="1136.35" font-size="12.2" text-anchor="end" fill="#2e2e2e">10<tspan font-size="7.8" dy="-6.4">1</tspan></text>
<text x="322.25" y="1206" font-size="12.2" text-anchor="start" fill="#2e2e2e">10<tspan font-size="7.8" dy="-6.4">1</tspan></text>
<text x="266.4" y="1083.1" font-size="12.2" text-anchor="end" fill="#2e2e2e">10<tspan font-size="7.8" dy="-6.4">2</tspan></text>
<text x="375.3" y="1206" font-size="12.2" text-anchor="start" fill="#2e2e2e">10<tspan font-size="7.8" dy="-6.4">2</tspan></text>
<text x="266.4" y="1029.85" font-size="12.2" text-anchor="end" fill="#2e2e2e">10<tspan font-size="7.8" dy="-6.4">3</tspan></text>
<text x="428.35" y="1206" font-size="12.2" text-anchor="start" fill="#2e2e2e">10<tspan font-size="7.8" dy="-6.4">3</tspan></text>
<text x="266.4" y="976.6" font-size="12.2" text-anchor="end" fill="#2e2e2e">10<tspan font-size="7.8" dy="-6.4">4</tspan></text>
<text x="481.4" y="1206" font-size="12.2" text-anchor="start" fill="#2e2e2e">10<tspan font-size="7.8" dy="-6.4">4</tspan></text>
<path d="M317.02 1141.8h3v3h-3zM330.78 1110.85h3v3h-3zM356.84 1078.46h3v3h-3zM346.91 1165.14h3v3h-3zM315 1135.12h3v3h-3zM320.93 1149.36h3v3h-3zM295.18 1108.22h3v3h-3zM300.29 1124.61h3v3h-3zM408.03 1049.27h3v3h-3zM380.14 1069.63h3v3h-3zM333.3 1111.61h3v3h-3zM348.65 1142.89h3v3h-3zM330.3 1116.35h3v3h-3zM324.05 1161.82h3v3h-3zM311.29 1135.38h3v3h-3zM337.26 1155.76h3v3h-3zM317.14 1142.26h3v3h-3zM359.16 1138.42h3v3h-3zM312.65 1151.75h3v3h-3zM341.84 1137.95h3v3h-3zM315.44 1159.61h3v3h-3zM321.1 1164.62h3v3h-3zM345.41 1169.9h3v3h-3zM336.12 1140.01h3v3h-3zM306.52 1157.13h3v3h-3zM419.13 1040.57h3v3h-3zM309.12 1134.57h3v3h-3zM386.17 1051.51h3v3h-3zM289.93 1132.11h3v3h-3zM310.31 1142.76h3v3h-3zM312.68 1148.91h3v3h-3zM325.84 1153.93h3v3h-3zM291.04 1153.48h3v3h-3zM406.35 1057.89h3v3h-3zM308.15 1154.02h3v3h-3zM368.35 1072.35h3v3h-3zM314.87 1118.91h3v3h-3zM292.3 1161.6h3v3h-3zM383.9 1067.29h3v3h-3zM311.38 1160.99h3v3h-3zM319.38 1114.66h3v3h-3zM295.69 1144.21h3v3h-3zM342.27 1092.32h3v3h-3zM342.71 1143.8h3v3h-3zM343.88 1121.25h3v3h-3zM342.81 1153.95h3v3h-3zM344.22 1118.25h3v3h-3zM312.41 1135.05h3v3h-3zM356.98 1094.09h3v3h-3zM349.15 1128.8h3v3h-3zM313 1165.52h3v3h-3zM308.49 1156.52h3v3h-3zM304.81 1139.94h3v3h-3zM342.85 1130.06h3v3h-3zM404.67 1044.88h3v3h-3zM305.48 1133.79h3v3h-3zM344.74 1167.45h3v3h-3zM324.64 1122.4h3v3h-3zM294.27 1099.76h3v3h-3zM330.16 1132.91h3v3h-3zM335.16 1144.03h3v3h-3zM310.46 1118.42h3v3h-3zM331.56 1112.8h3v3h-3zM300.7 1163.06h3v3h-3zM321.6 1172.31h3v3h-3zM333.61 1109.32h3v3h-3zM284.96 1163.08h3v3h-3zM288.42 1166.04h3v3h-3zM300.28 1149.22h3v3h-3zM371.13 1084.76h3v3h-3zM355.74 1128.68h3v3h-3zM315.83 1152.17h3v3h-3zM336.46 1121.85h3v3h-3zM300.91 1152.94h3v3h-3zM326.46 1173.98h3v3h-3zM338.6 1107.2h3v3h-3zM354.68 1145.66h3v3h-3zM314.2 1132.79h3v3h-3zM337.49 1130.62h3v3h-3zM334.53 1156.05h3v3h-3zM313.54 1164.52h3v3h-3zM300.3 1126.88h3v3h-3zM331.26 1112.44h3v3h-3zM305.56 1162.63h3v3h-3zM394.98 1049.35h3v3h-3zM299.31 1151.67h3v3h-3zM395.86 1057.17h3v3h-3zM301.56 1129.58h3v3h-3zM314.73 1158.3h3v3h-3zM328.3 1122.61h3v3h-3zM354.92 1103.99h3v3h-3zM379.15 1115.74h3v3h-3zM283.35 1149.91h3v3h-3zM303.27 1123.3h3v3h-3zM325.4 1173.99h3v3h-3zM285.19 1150.18h3v3h-3zM342.75 1147.28h3v3h-3zM330.35 1122.51h3v3h-3zM368.59 1069.22h3v3h-3zM354.44 1113.05h3v3h-3zM347.73 1164.6h3v3h-3zM306.7 1151.46h3v3h-3zM298.38 1127.61h3v3h-3zM279.87 1136.78h3v3h-3zM316.32 1168.98h3v3h-3zM314.39 1159.16h3v3h-3zM291.44 1144.83h3v3h-3zM314.53 1157.38h3v3h-3zM355.49 1131.27h3v3h-3zM306.87 1142.47h3v3h-3zM322.65 1123.53h3v3h-3zM332.21 1141.13h3v3h-3zM355.68 1147.52h3v3h-3zM297.13 1153.09h3v3h-3zM344.43 1134.28h3v3h-3zM337.78 1132.97h3v3h-3zM303.12 1111.05h3v3h-3zM314.8 1128.97h3v3h-3zM352.21 1099.42h3v3h-3zM337.5 1138.76h3v3h-3zM286.5 1160.43h3v3h-3zM324.51 1061.42h3v3h-3zM382.67 1068.86h3v3h-3zM322.55 1124.16h3v3h-3zM313.84 1174.19h3v3h-3zM365.47 1096.71h3v3h-3zM327.01 1120.91h3v3h-3zM347.73 1124.86h3v3h-3zM344.32 1117.38h3v3h-3zM295.45 1126.28h3v3h-3zM344.58 1126.39h3v3h-3zM320.46 1129.17h3v3h-3zM288.48 1165.86h3v3h-3zM304.48 1159.71h3v3h-3zM325.99 1155.35h3v3h-3zM279.77 1151.74h3v3h-3zM361.08 1093.52h3v3h-3zM323.44 1167.77h3v3h-3zM310.99 1146.25h3v3h-3zM332.84 1148.81h3v3h-3zM348.77 1142.6h3v3h-3zM339.32 1128.51h3v3h-3zM308.69 1170.22h3v3h-3zM333.53 1121.92h3v3h-3zM391.38 1068.98h3v3h-3zM318.61 1156.69h3v3h-3zM330.6 1127.52h3v3h-3zM288.76 1139.14h3v3h-3zM295.44 1136.01h3v3h-3zM331.6 1112.65h3v3h-3zM324.41 1111.23h3v3h-3zM316.21 1146.99h3v3h-3zM331.05 1145.99h3v3h-3zM411.07 1048.24h3v3h-3zM291.4 1145.04h3v3h-3zM321.51 1152.96h3v3h-3zM334.27 1141.33h3v3h-3zM318.57 1155.73h3v3h-3zM305.44 1136.48h3v3h-3zM327.91 1094.95h3v3h-3zM382.29 1060.14h3v3h-3zM331.44 1156.09h3v3h-3zM328.98 1146.77h3v3h-3zM326.99 1150.41h3v3h-3zM396.52 1060.45h3v3h-3zM351.94 1132.63h3v3h-3zM297.94 1133.13h3v3h-3zM332.28 1121.87h3v3h-3zM321.41 1127.56h3v3h-3zM334.98 1129.56h3v3h-3zM355 1150.14h3v3h-3zM288.33 1141.9h3v3h-3zM331.36 1136.94h3v3h-3zM342.24 1154.77h3v3h-3zM306.22 1163.11h3v3h-3zM383.45 1072.97h3v3h-3zM324.53 1154.19h3v3h-3zM339.97 1147.66h3v3h-3zM332.53 1144.44h3v3h-3zM301.23 1139.1h3v3h-3zM317.84 1164.8h3v3h-3zM343.81 1122.71h3v3h-3zM339.76 1139.75h3v3h-3zM349.32 1147.29h3v3h-3zM340.57 1152.1h3v3h-3zM346.86 1112h3v3h-3zM322.05 1118.98h3v3h-3zM305 1162.81h3v3h-3zM314.07 1171.26h3v3h-3zM320.63 1109.98h3v3h-3zM290.58 1160.49h3v3h-3zM312.03 1141.25h3v3h-3zM326.1 1137.17h3v3h-3zM293.37 1157.4h3v3h-3zM297.43 1128.02h3v3h-3zM343.29 1141.24h3v3h-3zM341.01 1153.94h3v3h-3zM328.52 1121.95h3v3h-3zM308.59 1101.36h3v3h-3zM329 1149.53h3v3h-3zM312.02 1124.49h3v3h-3zM310.92 1135.33h3v3h-3zM346.99 1148.24h3v3h-3zM318.64 1116.19h3v3h-3zM327.15 1124.65h3v3h-3zM286.86 1138.66h3v3h-3zM342.62 1133.36h3v3h-3zM351.73 1144.75h3v3h-3zM355.37 1091.34h3v3h-3zM336.6 1165.24h3v3h-3zM316.96 1112.51h3v3h-3zM343.96 1176.77h3v3h-3zM330.68 1126h3v3h-3zM298.73 1119.93h3v3h-3zM303.96 1151.51h3v3h-3zM344.81 1146.97h3v3h-3zM385.96 1058.84h3v3h-3zM331.34 1156.12h3v3h-3zM329.35 1121.9h3v3h-3zM315.49 1166.33h3v3h-3zM376.22 1077.59h3v3h-3zM311.47 1111.79h3v3h-3zM328.43 1163.64h3v3h-3zM297.24 1126.32h3v3h-3zM352.37 1128.05h3v3h-3zM294.13 1147.07h3v3h-3zM315.13 1119.6h3v3h-3zM321.17 1118.49h3v3h-3zM351.55 1133.1h3v3h-3zM320.96 1148.27h3v3h-3zM309.13 1129.25h3v3h-3zM339.15 1150.15h3v3h-3zM317.38 1151.88h3v3h-3zM330.3 1125.74h3v3h-3zM352.08 1108.14h3v3h-3zM344.43 1127.5h3v3h-3zM324.37 1116.75h3v3h-3zM390.71 1053.35h3v3h-3zM345.25 1123.06h3v3h-3zM348.57 1138.5h3v3h-3zM315.05 1116.42h3v3h-3zM383.03 1053.1h3v3h-3zM328.17 1162.75h3v3h-3zM311.44 1157.44h3v3h-3zM301.86 1158.57h3v3h-3zM312.63 1156.81h3v3h-3zM309.68 1134.68h3v3h-3zM296.87 1124.97h3v3h-3zM390.85 1048.4h3v3h-3zM335.62 1126.66h3v3h-3zM318.6 1126.65h3v3h-3zM330.05 1157.75h3v3h-3zM313.5 1160.25h3v3h-3zM279.52 1146.23h3v3h-3zM307.71 1132.53h3v3h-3zM311.39 1143.29h3v3h-3zM296.8 1154.65h3v3h-3zM337.13 1144.52h3v3h-3zM367 1083.68h3v3h-3zM336.76 1138.05h3v3h-3zM361.4 1088.83h3v3h-3zM351.96 1156.57h3v3h-3zM318.2 1127.32h3v3h-3zM310.62 1165.21h3v3h-3zM308.06 1129.85h3v3h-3zM342.37 1137.68h3v3h-3zM383.12 1069.65h3v3h-3zM350.87 1169.61h3v3h-3zM295.6 1123.43h3v3h-3zM324.61 1125.81h3v3h-3zM313.85 1118.97h3v3h-3zM313.94 1145.17h3v3h-3zM319.79 1158.98h3v3h-3zM294.12 1146.43h3v3h-3zM348.28 1129.47h3v3h-3zM333.65 1128.79h3v3h-3zM315.33 1147.22h3v3h-3zM343.78 1130.92h3v3h-3zM288.44 1166.12h3v3h-3zM323.84 1089.47h3v3h-3zM324.84 1141.12h3v3h-3zM352.74 1136.35h3v3h-3zM350.89 1132.58h3v3h-3zM320.41 1120.07h3v3h-3zM349.85 1143.48h3v3h-3zM350.06 1108.97h3v3h-3zM314.77 1134.45h3v3h-3zM326.83 1113.68h3v3h-3zM343.42 1170.99h3v3h-3zM315.36 1127.96h3v3h-3zM322.46 1129.95h3v3h-3zM349.99 1121.59h3v3h-3zM370.33 1071.05h3v3h-3zM405.66 1048.52h3v3h-3zM326.76 1160.95h3v3h-3zM320.25 1110.45h3v3h-3zM298.42 1156.38h3v3h-3zM301.19 1135.09h3v3h-3zM356.41 1104.43h3v3h-3zM331.08 1148.96h3v3h-3zM323.46 1104.51h3v3h-3zM348.53 1117.36h3v3h-3zM321.06 1152.59h3v3h-3zM329.78 1119.47h3v3h-3zM283.77 1145.57h3v3h-3zM322.8 1137.92h3v3h-3zM340 1143.73h3v3h-3zM340.33 1137.22h3v3h-3zM334.06 1079.53h3v3h-3zM328.15 1148.63h3v3h-3zM298.82 1156.12h3v3h-3zM307.9 1135.9h3v3h-3zM301.71 1135.98h3v3h-3zM342.02 1107.2h3v3h-3zM327.7 1131.28h3v3h-3zM337.31 1148.62h3v3h-3zM304.38 1129.93h3v3h-3zM337.37 1146.94h3v3h-3zM308.35 1168.53h3v3h-3zM331.23 1146.19h3v3h-3zM318.4 1174.93h3v3h-3zM311.96 1156.69h3v3h-3zM335.25 1109.01h3v3h-3zM334.41 1170.5h3v3h-3zM337.66 1096.78h3v3h-3zM354.36 1152.88h3v3h-3zM306.2 1115.46h3v3h-3zM297.49 1161.33h3v3h-3zM310.66 1142.47h3v3h-3zM289.55 1144.75h3v3h-3zM301.58 1146.03h3v3h-3zM326.4 1124.1h3v3h-3zM309.17 1137.65h3v3h-3zM380.21 1053.82h3v3h-3zM349.13 1150.3h3v3h-3zM348.04 1135.28h3v3h-3zM294.47 1140.29h3v3h-3zM349.84 1107.16h3v3h-3zM334.87 1150.96h3v3h-3zM356.84 1096.26h3v3h-3zM321.14 1128.71h3v3h-3zM315.52 1125.03h3v3h-3zM410.21 1035.83h3v3h-3zM305.89 1130.16h3v3h-3zM294.27 1106.68h3v3h-3zM298.35 1157.61h3v3h-3zM354.06 1129.28h3v3h-3zM312.27 1128.13h3v3h-3zM412.13 1040.7h3v3h-3zM300.91 1158.91h3v3h-3zM317.86 1171.39h3v3h-3zM299.51 1136.44h3v3h-3zM316.3 1124.01h3v3h-3zM313.76 1161.11h3v3h-3zM327.14 1123.64h3v3h-3zM295.74 1159.46h3v3h-3zM344.66 1173.55h3v3h-3zM350.77 1168.89h3v3h-3zM358.82 1147.76h3v3h-3zM299.94 1130.96h3v3h-3zM342.86 1140.81h3v3h-3zM308.5 1136.38h3v3h-3zM319.92 1155.83h3v3h-3zM315.65 1149.59h3v3h-3zM328.44 1163.54h3v3h-3zM313.9 1149.19h3v3h-3zM328.58 1146.97h3v3h-3zM309 1108.15h3v3h-3zM318.85 1160.27h3v3h-3zM329.96 1150.69h3v3h-3zM341.87 1106.94h3v3h-3zM324.09 1165.09h3v3h-3zM304.55 1149.47h3v3h-3zM378.17 1053.65h3v3h-3zM306.69 1135.99h3v3h-3zM343.57 1098.72h3v3h-3zM373.25 1081.28h3v3h-3zM386.24 1065.8h3v3h-3zM358.28 1071.66h3v3h-3zM387.1 1068.39h3v3h-3zM304.1 1135.9h3v3h-3zM326.89 1170.43h3v3h-3zM344.77 1091.42h3v3h-3zM337.12 1114.27h3v3h-3zM318.72 1158.31h3v3h-3zM310.3 1142.08h3v3h-3zM295.55 1109.1h3v3h-3zM327.85 1118.98h3v3h-3zM283.99 1174.69h3v3h-3zM282.22 1137.77h3v3h-3zM344.81 1101.01h3v3h-3zM295.85 1149.55h3v3h-3zM330.82 1124.05h3v3h-3zM303.6 1148.35h3v3h-3zM311.81 1146.57h3v3h-3zM313.68 1124.52h3v3h-3zM321.7 1165.46h3v3h-3zM337.36 1137.75h3v3h-3zM323.5 1144.78h3v3h-3zM347.94 1166.8h3v3h-3zM378.5 1062.48h3v3h-3zM286.77 1143.19h3v3h-3zM364.49 1082.72h3v3h-3zM345.87 1145.62h3v3h-3zM316.92 1153.19h3v3h-3zM306.08 1142.95h3v3h-3zM330.2 1151.1h3v3h-3zM343.57 1165.81h3v3h-3zM343.91 1135.42h3v3h-3zM336.11 1122.62h3v3h-3zM307.39 1152h3v3h-3zM349.87 1116.46h3v3h-3zM309.78 1139.55h3v3h-3zM326.69 1122.31h3v3h-3zM406.94 1044.57h3v3h-3zM312.35 1173.69h3v3h-3zM293.74 1127.57h3v3h-3zM326.72 1151.2h3v3h-3zM407.43 1038.68h3v3h-3zM337.94 1138.16h3v3h-3zM297.42 1140.64h3v3h-3zM308.92 1149.02h3v3h-3zM378.18 1066.76h3v3h-3zM340.09 1156.66h3v3h-3zM348.5 1108.74h3v3h-3zM312.82 1143.66h3v3h-3zM349.61 1140.32h3v3h-3zM340.25 1127.88h3v3h-3zM338.67 1132.99h3v3h-3zM305.93 1134.53h3v3h-3zM325.15 1147.54h3v3h-3zM366.32 1076.57h3v3h-3zM323.83 1142.57h3v3h-3zM302.81 1143.56h3v3h-3zM317.09 1135.78h3v3h-3zM309.23 1146.22h3v3h-3zM338.06 1128.58h3v3h-3zM317.23 1112.5h3v3h-3zM288.16 1158.35h3v3h-3zM297 1132.29h3v3h-3zM343.57 1151.91h3v3h-3zM333.77 1118.45h3v3h-3zM342.84 1137.24h3v3h-3zM315.44 1132.17h3v3h-3zM360.92 1093.86h3v3h-3zM322.08 1131.34h3v3h-3zM327.66 1156.66h3v3h-3zM335.85 1162.81h3v3h-3zM287.05 1163.59h3v3h-3zM322.56 1166.59h3v3h-3zM339.79 1169.24h3v3h-3zM327.67 1168.36h3v3h-3zM328.73 1120.35h3v3h-3zM313.92 1135.11h3v3h-3zM329.33 1157.88h3v3h-3zM308.54 1169.44h3v3h-3zM374.45 1071.69h3v3h-3zM327.24 1127.15h3v3h-3zM338.69 1149.06h3v3h-3zM336.29 1131.72h3v3h-3zM403.73 1051.53h3v3h-3zM332.66 1107.82h3v3h-3zM327.25 1145.71h3v3h-3zM293.66 1138.74h3v3h-3zM323.22 1150.43h3v3h-3zM332.29 1154.75h3v3h-3zM340.77 1157.82h3v3h-3zM336.17 1078.95h3v3h-3zM323.05 1118.92h3v3h-3zM316.33 1105.38h3v3h-3zM312.2 1139.46h3v3h-3zM354.55 1101.08h3v3h-3zM334.17 1127.09h3v3h-3zM293.9 1134.56h3v3h-3zM302.05 1140.97h3v3h-3zM352.56 1151.76h3v3h-3zM342.54 1128.95h3v3h-3zM340.62 1156.72h3v3h-3zM352.65 1134.93h3v3h-3zM312.71 1116.81h3v3h-3zM307.36 1126.45h3v3h-3zM284.14 1107.1h3v3h-3zM405.81 1051.38h3v3h-3zM289.25 1131.57h3v3h-3zM294.12 1171.34h3v3h-3zM336.37 1131.82h3v3h-3zM331.26 1173.68h3v3h-3zM340.76 1134.72h3v3h-3zM317.06 1113.22h3v3h-3zM349.77 1111.69h3v3h-3zM312.19 1128.04h3v3h-3zM308.93 1122.74h3v3h-3zM349.85 1104.3h3v3h-3zM331.09 1114.62h3v3h-3zM316.87 1161.84h3v3h-3zM341.3 1166.93h3v3h-3zM336.59 1132.94h3v3h-3zM354.69 1144.17h3v3h-3zM319.78 1167.17h3v3h-3zM318.07 1132.42h3v3h-3zM354.93 1131.82h3v3h-3zM318.9 1121.35h3v3h-3zM325.91 1144.12h3v3h-3zM339.87 1150.28h3v3h-3zM313.37 1129.9h3v3h-3zM284.4 1168.87h3v3h-3zM406.83 1044.94h3v3h-3zM301.55 1127.8h3v3h-3zM329.64 1099.83h3v3h-3zM319.3 1165.13h3v3h-3zM305.21 1123.63h3v3h-3zM348.13 1131.63h3v3h-3zM329.4 1127.39h3v3h-3zM300.65 1134.45h3v3h-3zM304.13 1154.71h3v3h-3zM328.74 1121.22h3v3h-3zM339.74 1136.52h3v3h-3zM306.92 1149.27h3v3h-3zM302.21 1140.59h3v3h-3zM340.07 1155.85h3v3h-3zM342.43 1120.5h3v3h-3zM299.45 1129.2h3v3h-3zM345.22 1116.61h3v3h-3zM339.01 1146.57h3v3h-3zM326.58 1133.9h3v3h-3zM299.03 1162.79h3v3h-3zM330.62 1148.09h3v3h-3zM355.51 1090.68h3v3h-3zM336.76 1148.75h3v3h-3zM321.11 1146.99h3v3h-3zM389.02 1065.21h3v3h-3zM330.19 1147.27h3v3h-3zM325.98 1138.03h3v3h-3zM308.2 1164.33h3v3h-3zM316.7 1151.03h3v3h-3zM317.36 1145.68h3v3h-3zM309.15 1172.35h3v3h-3zM326.42 1151.39h3v3h-3zM301.34 1155.1h3v3h-3zM340.02 1124.06h3v3h-3zM357.49 1076.73h3v3h-3zM315.04 1147.02h3v3h-3zM414.02 1037.95h3v3h-3zM318.65 1101.13h3v3h-3zM285.65 1147.15h3v3h-3zM342.52 1179.6h3v3h-3zM322.33 1129.44h3v3h-3zM313.69 1160.66h3v3h-3zM313.78 1153.22h3v3h-3zM325.75 1110.18h3v3h-3zM343.45 1120.87h3v3h-3zM319.19 1160.42h3v3h-3zM376.8 1078.59h3v3h-3zM394.07 1052.95h3v3h-3zM341.89 1117.11h3v3h-3zM313.94 1130.99h3v3h-3zM367.61 1082.98h3v3h-3zM336.72 1160.59h3v3h-3zM278.95 1137.45h3v3h-3zM300.88 1142.84h3v3h-3zM295.58 1144.85h3v3h-3zM339.82 1138.4h3v3h-3zM328.14 1155.04h3v3h-3zM350.52 1114.33h3v3h-3zM320.01 1168.96h3v3h-3zM366.53 1073.81h3v3h-3zM312.83 1171.78h3v3h-3zM343.56 1136.87h3v3h-3zM321.98 1142.59h3v3h-3zM300.38 1174.41h3v3h-3zM317.31 1170.21h3v3h-3zM317.51 1151.49h3v3h-3zM341.85 1153.22h3v3h-3zM308.55 1160.95h3v3h-3zM293.76 1140.57h3v3h-3zM310.16 1130.1h3v3h-3zM328.51 1151.2h3v3h-3zM388.87 1064.02h3v3h-3zM335.02 1114.52h3v3h-3zM319.21 1163.91h3v3h-3zM305.54 1157.78h3v3h-3zM357.85 1075.59h3v3h-3zM356.98 1083.72h3v3h-3zM286.15 1171.33h3v3h-3zM325.85 1155.49h3v3h-3zM337.46 1130.78h3v3h-3zM327.79 1120.33h3v3h-3zM304.31 1169.59h3v3h-3zM373.91 1075.43h3v3h-3zM352.14 1132.49h3v3h-3zM380.24 1070.77h3v3h-3zM313.21 1156.61h3v3h-3zM318.48 1133.07h3v3h-3zM303.77 1175.6h3v3h-3zM335.82 1113.38h3v3h-3zM315.13 1126.89h3v3h-3zM326.94 1115.77h3v3h-3zM328.02 1134.15h3v3h-3zM302.41 1129.71h3v3h-3zM375.43 1062.63h3v3h-3zM342.33 1121.19h3v3h-3zM355.85 1145.77h3v3h-3zM309.05 1150.91h3v3h-3zM318.37 1153.49h3v3h-3zM330.48 1148.47h3v3h-3zM339.49 1126.26h3v3h-3zM330.28 1151.9h3v3h-3zM325.43 1128.92h3v3h-3zM308.9 1149.11h3v3h-3zM335.62 1121.75h3v3h-3zM286.38 1129.43h3v3h-3zM328.82 1120.09h3v3h-3zM315.28 1154.09h3v3h-3zM355.48 1139.25h3v3h-3zM316.67 1112.91h3v3h-3zM328.63 1169.79h3v3h-3zM300.65 1140.65h3v3h-3zM321.8 1133.74h3v3h-3zM318.61 1122.38h3v3h-3zM302.81 1141.27h3v3h-3zM326.43 1132.82h3v3h-3zM302.29 1151.34h3v3h-3zM291.58 1134.18h3v3h-3zM360.74 1078.09h3v3h-3zM315.43 1153.4h3v3h-3zM318.64 1159.3h3v3h-3zM338.9 1118.37h3v3h-3zM294.27 1074.73h3v3h-3zM292.78 1153.09h3v3h-3zM320.2 1131.49h3v3h-3zM330.13 1156.62h3v3h-3zM284.01 1138.71h3v3h-3zM313.46 1138.6h3v3h-3zM331.35 1155.81h3v3h-3zM339.39 1131.65h3v3h-3zM319.48 1123.36h3v3h-3zM307.39 1141.49h3v3h-3zM336.01 1173.08h3v3h-3zM322 1153.65h3v3h-3zM299.84 1153.71h3v3h-3zM352.86 1137.47h3v3h-3zM305.24 1167.24h3v3h-3zM332.72 1158.42h3v3h-3zM346.77 1159.99h3v3h-3zM333.53 1155.97h3v3h-3zM340.43 1102.66h3v3h-3zM321.38 1154.74h3v3h-3zM341.54 1108.19h3v3h-3zM306.65 1145.26h3v3h-3zM355.23 1062.66h3v3h-3zM310.48 1111.14h3v3h-3zM317.9 1132.18h3v3h-3zM325.44 1134.94h3v3h-3zM326.21 1119.41h3v3h-3zM313.82 1178.26h3v3h-3zM354.39 1094.69h3v3h-3zM323.74 1154.92h3v3h-3zM333.31 1120.71h3v3h-3zM396.33 1050.54h3v3h-3zM317.65 1137.52h3v3h-3zM306.05 1150.24h3v3h-3zM341.72 1151.31h3v3h-3zM326.81 1154.66h3v3h-3zM319.5 1118.59h3v3h-3zM307.98 1139.48h3v3h-3zM336.56 1115.88h3v3h-3zM295.04 1132.11h3v3h-3zM337.64 1097.52h3v3h-3zM327.46 1148h3v3h-3zM342.87 1172.21h3v3h-3zM322.37 1152.92h3v3h-3zM383.23 1055.9h3v3h-3zM294.2 1137.21h3v3h-3zM329.26 1154.97h3v3h-3zM290.17 1140.79h3v3h-3zM326.85 1141.65h3v3h-3zM355.2 1125.38h3v3h-3zM316.26 1155.69h3v3h-3zM328.75 1081.12h3v3h-3zM338.56 1150.37h3v3h-3zM339.96 1157.99h3v3h-3zM288.95 1130.77h3v3h-3zM316.65 1119.97h3v3h-3zM317.85 1156.03h3v3h-3zM305.35 1137.49h3v3h-3zM324.71 1130.81h3v3h-3zM377 1080.03h3v3h-3zM296.53 1171.3h3v3h-3zM285.39 1146.7h3v3h-3zM308.83 1161.39h3v3h-3zM281.77 1177.65h3v3h-3zM327.93 1171.9h3v3h-3zM331.35 1114.98h3v3h-3zM342.2 1123.34h3v3h-3zM340.97 1126.34h3v3h-3zM363.23 1150.35h3v3h-3zM337.6 1110.95h3v3h-3zM311.55 1126.48h3v3h-3zM375.53 1067.15h3v3h-3zM297.29 1164.09h3v3h-3zM297.23 1113.92h3v3h-3zM322.83 1149.26h3v3h-3zM338.65 1146.25h3v3h-3zM298.05 1165.02h3v3h-3zM407.85 1046.73h3v3h-3zM299.48 1152.69h3v3h-3zM349.63 1135.16h3v3h-3zM329.74 1156.42h3v3h-3zM341.62 1123.27h3v3h-3zM295.06 1135.43h3v3h-3zM348.16 1112.41h3v3h-3zM324.37 1144.96h3v3h-3zM307.3 1156.62h3v3h-3zM335.84 1152.12h3v3h-3zM319.14 1152.9h3v3h-3zM299.19 1127.89h3v3h-3zM324.44 1174.07h3v3h-3zM314.69 1132.34h3v3h-3zM331.6 1161.38h3v3h-3zM350.72 1089.44h3v3h-3zM396.09 1058.78h3v3h-3zM375.31 1084.01h3v3h-3zM391.49 1074.02h3v3h-3zM309.81 1124.77h3v3h-3zM339.45 1139.58h3v3h-3zM333.48 1150.13h3v3h-3zM353.82 1157.42h3v3h-3zM333.34 1161.14h3v3h-3zM310.68 1171.47h3v3h-3zM328.6 1120.13h3v3h-3zM306.3 1147.38h3v3h-3zM306.48 1166.47h3v3h-3zM312.85 1151.73h3v3h-3zM320.52 1151.06h3v3h-3zM350 1141.5h3v3h-3zM335.33 1128.09h3v3h-3zM352.11 1157.52h3v3h-3zM297.65 1159.67h3v3h-3zM325.45 1137.19h3v3h-3zM313.45 1137.09h3v3h-3zM306.03 1135.42h3v3h-3zM351.7 1143.65h3v3h-3zM331.79 1133.86h3v3h-3zM387.43 1064.57h3v3h-3zM322.67 1151.77h3v3h-3zM306.56 1167.97h3v3h-3zM349.15 1112.6h3v3h-3zM326.29 1115.65h3v3h-3zM365.76 1088.45h3v3h-3zM297.98 1040.65h3v3h-3zM315.71 1128.18h3v3h-3zM317.56 1143.02h3v3h-3zM337.47 1142.99h3v3h-3zM352.62 1067.81h3v3h-3zM321.72 1160.49h3v3h-3zM332.05 1110.73h3v3h-3zM303.58 1126.97h3v3h-3zM287.52 1173.12h3v3h-3zM328.96 1128.61h3v3h-3zM318.12 1113.98h3v3h-3zM342.97 1112.47h3v3h-3zM305.02 1137.44h3v3h-3zM303.05 1134.59h3v3h-3zM348.27 1124.58h3v3h-3zM355.71 1081.85h3v3h-3zM313.42 1116.32h3v3h-3zM295.77 1140.57h3v3h-3zM341.76 1095.4h3v3h-3zM306.87 1173.33h3v3h-3zM345.53 1115.75h3v3h-3zM312.52 1174.82h3v3h-3zM339.31 1102.79h3v3h-3zM380.45 1076.78h3v3h-3zM338.63 1116.75h3v3h-3zM318.14 1097.1h3v3h-3zM283.03 1159.73h3v3h-3zM332.5 1106.99h3v3h-3zM304.7 1151.85h3v3h-3zM318.44 1165.45h3v3h-3zM335.21 1158.6h3v3h-3zM290.37 1157.16h3v3h-3zM307.39 1131.83h3v3h-3zM326.51 1153.21h3v3h-3zM345.09 1127.23h3v3h-3zM341.12 1124.22h3v3h-3zM329.76 1123.26h3v3h-3zM338.62 1094.17h3v3h-3zM303.4 1172.22h3v3h-3zM298.52 1126.39h3v3h-3zM317.89 1158.63h3v3h-3zM381.59 1065.48h3v3h-3zM316.41 1158.55h3v3h-3zM309.31 1127.4h3v3h-3zM296.71 1157.17h3v3h-3zM325.4 1128.46h3v3h-3zM348.12 1128.17h3v3h-3zM339.92 1125.44h3v3h-3zM295.58 1139.59h3v3h-3zM302.86 1160.7h3v3h-3zM343.56 1127.77h3v3h-3zM306.66 1147.07h3v3h-3zM317.39 1111.7h3v3h-3zM357.13 1122.36h3v3h-3zM318.3 1133.55h3v3h-3zM342.77 1135.98h3v3h-3zM332.51 1161.47h3v3h-3zM319.85 1137.71h3v3h-3zM310.69 1152.16h3v3h-3zM309.15 1115.36h3v3h-3zM397.39 1058.61h3v3h-3zM329.01 1152.45h3v3h-3zM332.18 1123.74h3v3h-3zM342.93 1175.68h3v3h-3zM322.33 1171.24h3v3h-3zM304.39 1145.1h3v3h-3zM312.24 1140.06h3v3h-3zM335.3 1116.63h3v3h-3zM323.24 1132.04h3v3h-3zM285.79 1161.52h3v3h-3zM299.57 1089.11h3v3h-3zM337.39 1128.95h3v3h-3zM332.21 1109.93h3v3h-3zM322.69 1162.1h3v3h-3zM305.14 1164.84h3v3h-3zM343.8 1134.5h3v3h-3zM346.74 1149.75h3v3h-3zM284.52 1146.13h3v3h-3zM295.93 1138.25h3v3h-3zM330.02 1120.5h3v3h-3zM338.77 1116.01h3v3h-3zM304.39 1136.06h3v3h-3zM339.41 1155.73h3v3h-3zM329.21 1141.27h3v3h-3zM325.68 1117.2h3v3h-3zM304.33 1169.65h3v3h-3zM329.67 1175.05h3v3h-3zM392.16 1060.48h3v3h-3zM324.7 1140.32h3v3h-3zM383.58 1069.64h3v3h-3zM307.29 1153.88h3v3h-3zM285.41 1156.71h3v3h-3zM324.91 1123.48h3v3h-3zM346.4 1115.09h3v3h-3zM341.42 1129.34h3v3h-3zM337.17 1143.98h3v3h-3zM363.11 1084.19h3v3h-3zM318.62 1116.77h3v3h-3zM314.57 1124.21h3v3h-3zM283.69 1140.45h3v3h-3zM333.78 1149.84h3v3h-3zM351.02 1134.59h3v3h-3zM327.57 1154.87h3v3h-3zM282.3 1151.32h3v3h-3zM396.85 1050.26h3v3h-3zM323.25 1141.7h3v3h-3zM301.69 1140.94h3v3h-3zM283 1118.29h3v3h-3zM341.19 1136.73h3v3h-3zM353.33 1104.25h3v3h-3zM343.02 1172.92h3v3h-3zM347.44 1150.09h3v3h-3zM323.82 1134.5h3v3h-3zM393.54 1059.25h3v3h-3zM345.38 1155.28h3v3h-3zM294.19 1126.43h3v3h-3zM308.89 1117.44h3v3h-3zM318.11 1142.76h3v3h-3zM333.23 1159.54h3v3h-3zM354.38 1085.08h3v3h-3zM302.35 1169.71h3v3h-3zM335.07 1139.12h3v3h-3zM301.27 1138.69h3v3h-3zM360.58 1146.09h3v3h-3zM307.04 1129.92h3v3h-3zM318.34 1104.35h3v3h-3zM344.6 1137.09h3v3h-3zM298.02 1137h3v3h-3zM345.15 1154.61h3v3h-3zM304.98 1127.29h3v3h-3zM317.8 1117.54h3v3h-3zM336.26 1108.51h3v3h-3zM327.77 1111.43h3v3h-3zM330.05 1151.42h3v3h-3zM303.97 1147.81h3v3h-3zM349.58 1175.88h3v3h-3zM321.62 1147.79h3v3h-3zM297.24 1131.55h3v3h-3zM329.46 1166.66h3v3h-3zM313.46 1125.58h3v3h-3zM342.57 1121.25h3v3h-3zM328.99 1114.24h3v3h-3zM302.97 1174.58h3v3h-3zM334.25 1144.43h3v3h-3zM392.6 1058.69h3v3h-3zM339.24 1157.89h3v3h-3zM376.35 1077.7h3v3h-3zM342.02 1123.95h3v3h-3zM341.14 1155.73h3v3h-3zM341.15 1104.28h3v3h-3zM334.37 1141h3v3h-3zM314.71 1130.8h3v3h-3zM326.93 1110.23h3v3h-3zM299.72 1153.6h3v3h-3zM418.47 1037.18h3v3h-3zM328.49 1123.89h3v3h-3zM319.94 1125.46h3v3h-3zM329.01 1126.45h3v3h-3zM304.8 1137.28h3v3h-3zM329.98 1129.33h3v3h-3zM318.66 1173.84h3v3h-3zM299.49 1136.97h3v3h-3zM317.3 1125.17h3v3h-3zM320.14 1105.46h3v3h-3zM345.7 1154.87h3v3h-3zM330.16 1111.29h3v3h-3zM343.71 1079.73h3v3h-3zM290.4 1152.75h3v3h-3zM326.02 1125.8h3v3h-3zM321.41 1109.72h3v3h-3zM322.3 1169.15h3v3h-3zM337.05 1111.91h3v3h-3zM319.04 1125.67h3v3h-3zM310.89 1144.28h3v3h-3zM348.8 1142.32h3v3h-3zM315.98 1122.79h3v3h-3zM309.25 1151.61h3v3h-3zM383.39 1115.2h3v3h-3zM376.83 1068.84h3v3h-3zM311.71 1138.15h3v3h-3zM300.24 1136.26h3v3h-3zM329.79 1147.58h3v3h-3zM312.02 1144.44h3v3h-3zM333.67 1116.97h3v3h-3zM319.97 1125.92h3v3h-3zM330.96 1163.32h3v3h-3zM300.64 1174.58h3v3h-3zM293.16 1131.59h3v3h-3zM362.82 1070.66h3v3h-3zM344.4 1137.28h3v3h-3zM381.29 1066.57h3v3h-3zM379.53 1059.29h3v3h-3zM346.15 1132.47h3v3h-3zM328.45 1136.8h3v3h-3zM336.71 1152.82h3v3h-3zM304.05 1165.59h3v3h-3zM348.89 1134.36h3v3h-3zM316.68 1117.1h3v3h-3zM301.79 1165.54h3v3h-3zM306.84 1140.27h3v3h-3zM341.2 1121.54h3v3h-3zM338.96 1143.27h3v3h-3zM302.92 1141.55h3v3h-3zM386.07 1068.84h3v3h-3zM342.27 1121.33h3v3h-3zM312.01 1136.03h3v3h-3zM325.58 1167.49h3v3h-3zM335.76 1142.55h3v3h-3zM315.35 1122.02h3v3h-3zM325.6 1115.55h3v3h-3zM310.88 1120.87h3v3h-3zM312.77 1130.36h3v3h-3zM386.02 1061.49h3v3h-3zM352.32 1101.48h3v3h-3zM305.24 1167.61h3v3h-3zM376.64 1059.77h3v3h-3zM314.21 1114.18h3v3h-3zM335.06 1131.01h3v3h-3zM320.9 1149.55h3v3h-3zM296.12 1128.2h3v3h-3zM331.49 1122.17h3v3h-3zM304.38 1123.97h3v3h-3zM350.15 1080.26h3v3h-3zM382.11 1061.53h3v3h-3zM327.21 1147.25h3v3h-3zM298.32 1151.05h3v3h-3zM328.89 1114.82h3v3h-3zM327.35 1128.13h3v3h-3zM284.99 1153.84h3v3h-3zM307.43 1115.84h3v3h-3zM393.52 1065.33h3v3h-3zM320.93 1110.93h3v3h-3zM339.53 1145.02h3v3h-3zM327.83 1122.89h3v3h-3zM283.66 1101.36h3v3h-3zM338.46 1158.44h3v3h-3zM355.44 1111.82h3v3h-3zM313.57 1144.98h3v3h-3zM317.04 1125.21h3v3h-3zM310.88 1135.99h3v3h-3zM325.81 1124.75h3v3h-3zM325.86 1164.14h3v3h-3zM380.39 1059.46h3v3h-3zM365.67 1084.19h3v3h-3zM314.86 1137.46h3v3h-3zM351.81 1148.83h3v3h-3zM391.7 1051.99h3v3h-3zM331.41 1164.88h3v3h-3zM293.81 1144.18h3v3h-3zM347.44 1146.85h3v3h-3zM326.25 1150.02h3v3h-3zM334.76 1118.34h3v3h-3zM318.1 1157.6h3v3h-3zM336.92 1129.62h3v3h-3zM324.25 1164.55h3v3h-3zM341.72 1130.12h3v3h-3zM311.84 1130.23h3v3h-3zM355.9 1129.53h3v3h-3zM352.18 1078.56h3v3h-3zM306.79 1126.02h3v3h-3zM310.71 1133.35h3v3h-3zM320.43 1140.75h3v3h-3zM321.23 1144.11h3v3h-3zM279.42 1159.55h3v3h-3zM354.53 1122.61h3v3h-3zM306.03 1147.72h3v3h-3zM336.23 1149.9h3v3h-3zM338.09 1152.06h3v3h-3zM288.68 1167.3h3v3h-3zM321.5 1179.97h3v3h-3zM302.7 1156.14h3v3h-3zM308.25 1141h3v3h-3zM283.24 1149.06h3v3h-3zM330.37 1119.4h3v3h-3zM395.4 1059.46h3v3h-3zM325.93 1138.94h3v3h-3zM301.46 1154.25h3v3h-3zM277 1127.53h3v3h-3zM290.04 1151.76h3v3h-3zM318.14 1152.74h3v3h-3zM326.85 1119.54h3v3h-3zM331.59 1155.99h3v3h-3zM304.62 1128.1h3v3h-3zM334.51 1152.51h3v3h-3zM301.41 1123.83h3v3h-3zM320.67 1163.92h3v3h-3zM317.75 1151.74h3v3h-3zM331.26 1112.19h3v3h-3zM342.65 1115.66h3v3h-3zM309.06 1135.98h3v3h-3zM314.63 1129.71h3v3h-3zM312.42 1140.87h3v3h-3zM309.93 1107.89h3v3h-3zM307.19 1170.16h3v3h-3zM363.22 1119.49h3v3h-3zM322.04 1121.11h3v3h-3zM314.47 1127.99h3v3h-3zM308.9 1146h3v3h-3zM308.39 1158.24h3v3h-3zM344.6 1124.62h3v3h-3zM294.4 1137.53h3v3h-3zM314.46 1145.81h3v3h-3zM379.56 1086.48h3v3h-3zM321.74 1164.06h3v3h-3zM305.07 1151.86h3v3h-3zM327.73 1094.29h3v3h-3zM301.48 1168.04h3v3h-3zM332.54 1118.63h3v3h-3zM350.51 1137.39h3v3h-3zM288.83 1128.77h3v3h-3zM333.27 1165.3h3v3h-3zM337.58 1147.11h3v3h-3zM327.83 1130.37h3v3h-3zM351.38 1083.36h3v3h-3zM336.74 1141.23h3v3h-3zM319.84 1130.76h3v3h-3zM398.24 1045.03h3v3h-3zM352 1129.17h3v3h-3zM310.53 1121.91h3v3h-3zM332.54 1100.74h3v3h-3zM341.58 1148.85h3v3h-3zM405.99 1044.98h3v3h-3zM336.83 1124.49h3v3h-3zM318.76 1110.04h3v3h-3zM329.01 1110.62h3v3h-3zM304.29 1142.14h3v3h-3zM393.95 1058.39h3v3h-3zM335.36 1125.12h3v3h-3zM310.24 1152.05h3v3h-3zM309.34 1163.31h3v3h-3zM326.07 1166.5h3v3h-3zM331.41 1132.08h3v3h-3zM331.21 1110.45h3v3h-3zM308.67 1161.73h3v3h-3zM294.42 1135.92h3v3h-3zM352.26 1132.44h3v3h-3zM348.96 1100.63h3v3h-3zM320.56 1168.19h3v3h-3zM366.18 1081.28h3v3h-3zM331.91 1164.37h3v3h-3zM374.69 1073.22h3v3h-3zM382.86 1062.01h3v3h-3zM297.29 1127.4h3v3h-3zM295.16 1131.15h3v3h-3zM357.18 1120.61h3v3h-3zM326.15 1117.28h3v3h-3zM316.33 1155.17h3v3h-3zM326.37 1156.48h3v3h-3zM340.59 1155.1h3v3h-3zM336.91 1150.77h3v3h-3zM350.08 1120.39h3v3h-3zM336.29 1131.01h3v3h-3zM300.29 1126.78h3v3h-3zM331.92 1129.61h3v3h-3zM314.16 1128.97h3v3h-3zM332.01 1169.47h3v3h-3zM311.18 1149.9h3v3h-3zM332.44 1147.65h3v3h-3zM300.75 1158.82h3v3h-3zM325.97 1148.49h3v3h-3zM342.25 1105.92h3v3h-3zM392.5 1053.15h3v3h-3zM313.31 1131.82h3v3h-3zM291.26 1159.86h3v3h-3zM311.81 1152.71h3v3h-3zM330.26 1147.8h3v3h-3zM319.11 1153.07h3v3h-3zM352.62 1136.67h3v3h-3zM290.22 1162.91h3v3h-3zM310.83 1169.43h3v3h-3zM335.67 1163.2h3v3h-3zM374.82 1063.68h3v3h-3zM288.96 1135.95h3v3h-3zM311.37 1146.6h3v3h-3zM331.29 1126.38h3v3h-3zM406.37 1051.84h3v3h-3zM308.96 1114.71h3v3h-3zM339.51 1111.36h3v3h-3zM360.78 1155.62h3v3h-3zM329.78 1112.24h3v3h-3zM313.99 1154.96h3v3h-3zM322.32 1112.38h3v3h-3zM326.49 1118.31h3v3h-3zM350.29 1140.88h3v3h-3zM336.39 1159.93h3v3h-3zM341.44 1169.96h3v3h-3zM338.35 1123.35h3v3h-3zM277.53 1129.65h3v3h-3zM326.69 1120.35h3v3h-3zM353.78 1121.97h3v3h-3zM306.1 1133.11h3v3h-3zM337.79 1113.01h3v3h-3zM325.79 1161.29h3v3h-3zM319.33 1125.3h3v3h-3zM355.11 1085.96h3v3h-3zM330.45 1143.9h3v3h-3zM303.4 1145.91h3v3h-3zM343.52 1135.25h3v3h-3zM307.41 1143.4h3v3h-3zM332.22 1099.86h3v3h-3zM349.83 1114.08h3v3h-3zM314.31 1133.97h3v3h-3zM312.02 1152.27h3v3h-3zM342.45 1130.13h3v3h-3zM350.61 1155.84h3v3h-3zM333.08 1121.05h3v3h-3zM331.57 1131.46h3v3h-3zM351.65 1092.66h3v3h-3zM327.28 1158.93h3v3h-3zM336.92 1148.19h3v3h-3zM313.68 1156.76h3v3h-3zM340.59 1140.03h3v3h-3zM310.5 1171.33h3v3h-3zM311.8 1132.76h3v3h-3zM336.17 1117.55h3v3h-3zM325.42 1153.27h3v3h-3zM348.29 1129.75h3v3h-3zM323.88 1155.28h3v3h-3zM334.61 1148.96h3v3h-3zM325.58 1114.98h3v3h-3zM330.45 1126.07h3v3h-3zM323.84 1167.26h3v3h-3zM324.75 1159.26h3v3h-3zM351.48 1114.02h3v3h-3zM311.74 1148.49h3v3h-3zM335.47 1164.98h3v3h-3zM330.24 1113.16h3v3h-3zM338.76 1114.93h3v3h-3zM313.77 1154.48h3v3h-3zM348.57 1138.73h3v3h-3zM353.56 1110.4h3v3h-3zM354.41 1095.93h3v3h-3zM309.42 1134.28h3v3h-3zM343.73 1146.51h3v3h-3zM343.37 1127.81h3v3h-3zM343.78 1107.04h3v3h-3zM356.95 1127.66h3v3h-3zM307.78 1134.57h3v3h-3zM345.3 1136.51h3v3h-3zM353.17 1101.41h3v3h-3zM302.71 1150.15h3v3h-3zM315.01 1128.85h3v3h-3zM297.2 1128.98h3v3h-3zM304.88 1144.67h3v3h-3zM334.33 1108.63h3v3h-3zM349.48 1079.54h3v3h-3zM321.9 1164.34h3v3h-3zM317.02 1125.46h3v3h-3zM341.76 1149.81h3v3h-3zM349.22 1142.38h3v3h-3zM345.7 1139.38h3v3h-3zM331.71 1131.62h3v3h-3zM322.47 1145.19h3v3h-3zM320.13 1127.76h3v3h-3zM323.66 1117.55h3v3h-3zM305.9 1171.06h3v3h-3zM282.27 1172.65h3v3h-3zM377.22 1075.03h3v3h-3zM303.87 1129h3v3h-3zM391.03 1062.06h3v3h-3zM325.06 1146.72h3v3h-3zM318.01 1099.83h3v3h-3zM351.89 1163.58h3v3h-3zM319.74 1118.25h3v3h-3zM343.34 1096.09h3v3h-3zM302.01 1132.88h3v3h-3zM329.3 1160.92h3v3h-3zM325.85 1142.8h3v3h-3zM348.14 1158.81h3v3h-3zM303.76 1156.81h3v3h-3zM314.26 1140.35h3v3h-3zM394.8 1050.84h3v3h-3zM309.04 1149.94h3v3h-3zM319.78 1151.47h3v3h-3zM342.27 1118.12h3v3h-3zM324.72 1124.24h3v3h-3zM336 1151.65h3v3h-3zM294.1 1138.39h3v3h-3zM337.14 1147.02h3v3h-3zM310.36 1136.53h3v3h-3zM304.07 1161.53h3v3h-3zM339.66 1112.57h3v3h-3zM336.2 1113.1h3v3h-3zM346 1086.73h3v3h-3zM305.02 1158.32h3v3h-3zM339.83 1145.96h3v3h-3zM322.73 1162.34h3v3h-3zM394.62 1053.3h3v3h-3zM377.6 1075.9h3v3h-3zM375.63 1087.41h3v3h-3zM305.71 1149.48h3v3h-3zM392.78 1061.32h3v3h-3zM292.8 1130.48h3v3h-3zM314.04 1107.01h3v3h-3zM348.74 1125.62h3v3h-3zM365.98 1093.9h3v3h-3zM331.93 1149.47h3v3h-3zM342.93 1097.4h3v3h-3zM308.06 1136.01h3v3h-3zM316.18 1129.7h3v3h-3zM345.9 1139.57h3v3h-3zM312.76 1139.44h3v3h-3zM343.57 1127.09h3v3h-3zM294.16 1141.9h3v3h-3zM303.72 1144.33h3v3h-3zM368.27 1073.39h3v3h-3zM336.49 1115.3h3v3h-3zM323.71 1150.97h3v3h-3zM366.74 1090.18h3v3h-3zM313.51 1134.33h3v3h-3zM303.22 1175.79h3v3h-3zM285.57 1158.3h3v3h-3zM303.62 1127.18h3v3h-3zM343.26 1082.48h3v3h-3zM329.18 1156.09h3v3h-3zM343.1 1123.68h3v3h-3zM329.47 1123.6h3v3h-3zM299.65 1144.47h3v3h-3zM348.14 1103.72h3v3h-3zM309.62 1161.89h3v3h-3zM297.82 1156.18h3v3h-3zM277.94 1151.76h3v3h-3zM349.99 1117.91h3v3h-3zM314.9 1172.62h3v3h-3zM294.94 1135.38h3v3h-3zM309.25 1141.54h3v3h-3zM355.63 1127.25h3v3h-3zM342.7 1103.69h3v3h-3zM334.61 1122.03h3v3h-3zM334.2 1154.29h3v3h-3zM302.9 1145.85h3v3h-3zM347.45 1147.6h3v3h-3zM299.22 1137.76h3v3h-3zM320.56 1146.93h3v3h-3zM332.36 1161.84h3v3h-3zM340.81 1120.88h3v3h-3zM334.49 1115.01h3v3h-3zM318.47 1114.06h3v3h-3zM314.75 1154.3h3v3h-3zM365.01 1102.47h3v3h-3zM406.81 1041.63h3v3h-3zM330.31 1115.75h3v3h-3zM315.05 1157.75h3v3h-3zM306.29 1134.69h3v3h-3zM313.35 1144.81h3v3h-3zM308.08 1136.61h3v3h-3zM292.47 1158.18h3v3h-3zM356.01 1101.49h3v3h-3zM336.03 1149.91h3v3h-3zM317.26 1153.03h3v3h-3zM307.23 1145.92h3v3h-3zM304.72 1156.22h3v3h-3zM324.65 1123.48h3v3h-3zM393.97 1054.25h3v3h-3zM305.92 1143.3h3v3h-3zM313.82 1150.02h3v3h-3zM334.5 1148.08h3v3h-3zM332.7 1149.1h3v3h-3zM344.89 1119.7h3v3h-3zM296.98 1146.58h3v3h-3zM326.38 1122.52h3v3h-3zM328.09 1121.37h3v3h-3zM282.56 1165.15h3v3h-3zM307.81 1161.83h3v3h-3zM305.64 1145.68h3v3h-3zM322.74 1154.58h3v3h-3zM316.3 1116.91h3v3h-3zM313.11 1117.66h3v3h-3zM321.96 1140.62h3v3h-3zM312.48 1115.34h3v3h-3zM308.2 1143.46h3v3h-3zM328.98 1144.67h3v3h-3zM313.08 1135.1h3v3h-3zM336.1 1113.26h3v3h-3zM300.28 1127.61h3v3h-3zM318.72 1134.81h3v3h-3zM340.04 1126.79h3v3h-3zM322.53 1154.03h3v3h-3zM313.93 1151.28h3v3h-3zM302.42 1156.55h3v3h-3zM306.48 1153h3v3h-3zM324.13 1161.24h3v3h-3zM296.53 1128.15h3v3h-3zM312.49 1170.72h3v3h-3zM325.68 1158.78h3v3h-3zM303.99 1159.93h3v3h-3zM356.34 1140.24h3v3h-3zM333.45 1166.59h3v3h-3zM285.25 1107.75h3v3h-3zM324.56 1109.98h3v3h-3zM298.07 1159.85h3v3h-3zM307.37 1145.39h3v3h-3zM314.99 1128.11h3v3h-3zM285.27 1161.32h3v3h-3zM338.92 1155.93h3v3h-3zM327.96 1130.51h3v3h-3zM356.43 1078.84h3v3h-3zM382.38 1061.6h3v3h-3zM313.35 1112.3h3v3h-3zM350.67 1137.8h3v3h-3zM367.25 1077.78h3v3h-3zM278.29 1129.98h3v3h-3zM321.4 1119.38h3v3h-3zM352.51 1087.79h3v3h-3zM299.84 1157.44h3v3h-3zM322 1156.88h3v3h-3zM328.03 1120.14h3v3h-3zM332.99 1138.99h3v3h-3zM398.58 1060.57h3v3h-3zM416.97 1037.98h3v3h-3zM374.24 1067.87h3v3h-3zM321.79 1155.22h3v3h-3zM345.28 1100.82h3v3h-3zM326.05 1107.93h3v3h-3zM324.13 1108.32h3v3h-3zM328.97 1156.24h3v3h-3zM409.35 1049.15h3v3h-3zM356.71 1148.23h3v3h-3zM298.67 1147.06h3v3h-3zM330.54 1093.99h3v3h-3zM333.17 1110.47h3v3h-3zM324.43 1109.33h3v3h-3zM302.98 1152.1h3v3h-3zM357.77 1133.82h3v3h-3zM328.89 1147.67h3v3h-3zM315.75 1129.05h3v3h-3zM314.91 1145.41h3v3h-3zM330.81 1172.39h3v3h-3zM305.17 1153.34h3v3h-3zM304.29 1143.98h3v3h-3zM305.37 1131.24h3v3h-3zM294.32 1174.61h3v3h-3zM297.17 1164.12h3v3h-3zM346.69 1142.87h3v3h-3zM326.44 1174.42h3v3h-3zM305.49 1163.6h3v3h-3zM303.08 1154.35h3v3h-3zM312.93 1150.13h3v3h-3zM320.64 1163.97h3v3h-3zM349.19 1121.2h3v3h-3zM328.68 1138.31h3v3h-3zM313.82 1113.44h3v3h-3zM330.96 1165.04h3v3h-3zM308.83 1133.16h3v3h-3zM353.32 1152.43h3v3h-3zM305.02 1140.9h3v3h-3zM348.7 1115.09h3v3h-3zM343.7 1122.88h3v3h-3zM321 1126.59h3v3h-3zM291.08 1172.55h3v3h-3zM324.06 1112.85h3v3h-3zM313.69 1114.88h3v3h-3zM316.58 1158.83h3v3h-3zM323.14 1148.28h3v3h-3zM331.42 1143.86h3v3h-3zM346.78 1107.36h3v3h-3zM335.03 1118.79h3v3h-3zM334.19 1156.18h3v3h-3zM361.86 1105.4h3v3h-3zM327.07 1149.19h3v3h-3zM305.85 1140.84h3v3h-3zM312.51 1142.63h3v3h-3zM317.13 1154.44h3v3h-3zM295.14 1167.4h3v3h-3zM294.27 1180.03h3v3h-3zM356.6 1085.19h3v3h-3zM313.97 1117.16h3v3h-3zM304.66 1135.85h3v3h-3zM361.58 1076.58h3v3h-3zM328.09 1113.21h3v3h-3zM292.33 1147.9h3v3h-3zM304.01 1134.5h3v3h-3zM361.22 1134.37h3v3h-3zM352.08 1114.91h3v3h-3zM306.42 1165.27h3v3h-3zM304.78 1129.98h3v3h-3zM302.22 1090.71h3v3h-3zM310.53 1150.26h3v3h-3zM332.37 1088.57h3v3h-3zM356.34 1085.69h3v3h-3zM369.16 1075.41h3v3h-3zM389.11 1048.34h3v3h-3zM317.62 1106.84h3v3h-3zM301.48 1179.48h3v3h-3zM299.67 1129.18h3v3h-3zM397.28 1047.42h3v3h-3zM335.04 1168.96h3v3h-3zM352.54 1140.6h3v3h-3zM306.71 1141.64h3v3h-3zM330.3 1118.3h3v3h-3zM286.86 1136.88h3v3h-3zM312.36 1139.99h3v3h-3zM322.48 1135.97h3v3h-3zM311.32 1115.5h3v3h-3zM348.14 1145.47h3v3h-3zM375.51 1068.55h3v3h-3zM296.33 1140.17h3v3h-3zM379.26 1067.04h3v3h-3zM357.32 1120.21h3v3h-3zM309.27 1143.21h3v3h-3zM348.27 1138.44h3v3h-3zM317.39 1168.36h3v3h-3zM312.92 1170.78h3v3h-3zM303.76 1145.5h3v3h-3zM317.71 1096.49h3v3h-3zM349.54 1136.49h3v3h-3zM342.54 1131.63h3v3h-3zM394.25 1049.67h3v3h-3zM307.6 1126.47h3v3h-3zM343.77 1151.57h3v3h-3zM298.72 1165.84h3v3h-3zM391.22 1055.58h3v3h-3zM326.27 1164.57h3v3h-3zM310.44 1152.55h3v3h-3zM366.95 1119.46h3v3h-3zM327.49 1118.98h3v3h-3zM326.75 1113.36h3v3h-3zM317.85 1168.85h3v3h-3zM332.41 1151.08h3v3h-3zM306.51 1142.01h3v3h-3zM356.4 1142.01h3v3h-3zM307.2 1149.35h3v3h-3zM331.86 1141.87h3v3h-3zM311.18 1136.2h3v3h-3zM300.06 1121.65h3v3h-3zM414.37 1037.3h3v3h-3zM321.47 1117.11h3v3h-3zM322.58 1148.08h3v3h-3zM351.99 1126.46h3v3h-3zM306.08 1158.4h3v3h-3zM309.66 1126.67h3v3h-3zM316.36 1133.77h3v3h-3zM302.75 1145.79h3v3h-3zM333.94 1154.03h3v3h-3zM294.79 1154.87h3v3h-3zM342.58 1151.84h3v3h-3zM309.3 1104.89h3v3h-3zM315.49 1084.32h3v3h-3zM312.41 1146.07h3v3h-3zM303.78 1150.59h3v3h-3zM335.77 1112.77h3v3h-3zM339.57 1129.58h3v3h-3zM343.7 1120.74h3v3h-3zM325.14 1152.77h3v3h-3zM297.83 1157.28h3v3h-3zM313.49 1157.48h3v3h-3zM305.52 1155.41h3v3h-3zM396.16 1048.35h3v3h-3zM351.65 1114.35h3v3h-3zM323.18 1140.41h3v3h-3zM288.93 1165.67h3v3h-3zM281.75 1135.32h3v3h-3zM315.14 1144.6h3v3h-3zM290.95 1150.2h3v3h-3zM333.79 1127.72h3v3h-3zM336.75 1147.7h3v3h-3zM291.57 1155.45h3v3h-3zM337.38 1163.29h3v3h-3zM329.12 1143.9h3v3h-3zM334.36 1151.92h3v3h-3zM325.7 1108.8h3v3h-3zM335.14 1143.51h3v3h-3zM284.08 1152.06h3v3h-3zM321.39 1141.34h3v3h-3zM323.4 1116.88h3v3h-3zM334.84 1167.09h3v3h-3zM280.92 1119.97h3v3h-3zM329.54 1113.58h3v3h-3zM325.72 1173h3v3h-3zM302.53 1171.14h3v3h-3zM319.21 1133.88h3v3h-3zM316.35 1170.6h3v3h-3zM305.93 1132.95h3v3h-3zM336.81 1167.29h3v3h-3zM345.35 1148.16h3v3h-3zM345 1167.4h3v3h-3zM324.61 1130.37h3v3h-3zM318.17 1119.3h3v3h-3zM322.59 1123.6h3v3h-3zM342.5 1125.6h3v3h-3zM381 1073.19h3v3h-3zM331.19 1147.34h3v3h-3zM391.43 1065.53h3v3h-3zM315.87 1121.21h3v3h-3zM344.64 1122.62h3v3h-3zM314.51 1141.82h3v3h-3zM346.6 1118.99h3v3h-3zM339.93 1124.57h3v3h-3zM335.76 1127.83h3v3h-3zM343.12 1123.84h3v3h-3zM319.45 1123.67h3v3h-3zM344.95 1152.34h3v3h-3zM321.89 1129.82h3v3h-3zM397.55 1057.48h3v3h-3zM328.45 1126.93h3v3h-3zM281.93 1132.61h3v3h-3zM309.67 1120.25h3v3h-3zM380.55 1077.53h3v3h-3zM306.39 1134.28h3v3h-3zM310.43 1174.23h3v3h-3zM396.41 1051h3v3h-3zM335.09 1121.12h3v3h-3zM306.34 1134.32h3v3h-3zM318.67 1124h3v3h-3zM315.75 1138.41h3v3h-3zM327.67 1149.4h3v3h-3zM316.59 1119.64h3v3h-3zM313.36 1152.8h3v3h-3zM342.11 1167.79h3v3h-3zM311.22 1131.93h3v3h-3zM342.95 1155.33h3v3h-3zM325.68 1169.52h3v3h-3zM347.35 1144.76h3v3h-3zM293.02 1157.85h3v3h-3zM305.88 1146.83h3v3h-3zM325.92 1112.03h3v3h-3zM308.21 1111.34h3v3h-3zM349.57 1117.19h3v3h-3zM330.45 1123.96h3v3h-3zM345.39 1114.09h3v3h-3zM323.11 1137.52h3v3h-3zM312.5 1156.68h3v3h-3zM344.93 1153.57h3v3h-3zM349.6 1122.12h3v3h-3zM347.91 1123.07h3v3h-3zM322.5 1152.96h3v3h-3zM316.76 1139.54h3v3h-3zM340.46 1116.12h3v3h-3zM294.43 1157.11h3v3h-3zM317.43 1156.73h3v3h-3zM341.92 1111.85h3v3h-3zM350.56 1082.1h3v3h-3zM327.49 1142.55h3v3h-3zM386.48 1054.53h3v3h-3zM319.53 1151.08h3v3h-3zM354.79 1109.71h3v3h-3zM347.62 1107.98h3v3h-3zM322.59 1158.84h3v3h-3zM352.4 1119.08h3v3h-3zM330.05 1118.89h3v3h-3zM344.71 1155.68h3v3h-3zM313.82 1164.48h3v3h-3zM339.19 1109.8h3v3h-3zM282.63 1160.66h3v3h-3zM308.71 1157.39h3v3h-3zM341.63 1139.06h3v3h-3zM404.81 1042.15h3v3h-3zM302.32 1143.75h3v3h-3zM316.33 1140.14h3v3h-3zM352.09 1131.21h3v3h-3zM323.44 1118.85h3v3h-3zM325.25 1128.5h3v3h-3zM320.8 1156.29h3v3h-3zM310.13 1176.82h3v3h-3zM324.42 1124.52h3v3h-3zM343.58 1143.96h3v3h-3zM319.02 1165.34h3v3h-3zM304.11 1119.02h3v3h-3zM348.14 1123.48h3v3h-3zM286.37 1141.44h3v3h-3zM359.65 1093.09h3v3h-3zM297.49 1147.48h3v3h-3zM343.76 1130.13h3v3h-3zM326.1 1163.76h3v3h-3zM352.71 1136.43h3v3h-3zM291.56 1168.91h3v3h-3zM280.08 1145.83h3v3h-3zM351.66 1133.19h3v3h-3zM311.19 1163.68h3v3h-3zM303.91 1164.85h3v3h-3zM357.51 1094.36h3v3h-3zM396 1055.5h3v3h-3zM346.18 1098.76h3v3h-3zM377.6 1078.77h3v3h-3zM314.82 1139.83h3v3h-3zM294.79 1133.04h3v3h-3zM294.97 1149.82h3v3h-3zM357.88 1119.46h3v3h-3zM324.03 1117.37h3v3h-3zM393.81 1047.44h3v3h-3zM286.21 1158.68h3v3h-3zM311.56 1122.73h3v3h-3zM286.52 1109.28h3v3h-3zM380.32 1064.6h3v3h-3zM355.9 1131.66h3v3h-3zM303.93 1148.57h3v3h-3zM309.41 1154.23h3v3h-3zM299.9 1177.1h3v3h-3zM302.91 1145.24h3v3h-3zM350.88 1136.08h3v3h-3zM316.81 1124.38h3v3h-3zM351.49 1162.18h3v3h-3zM317.44 1133.2h3v3h-3zM339.71 1092.9h3v3h-3zM345.07 1140.53h3v3h-3zM286.35 1135.6h3v3h-3zM320.86 1162.57h3v3h-3zM317.21 1113.31h3v3h-3zM337.39 1156.38h3v3h-3zM282.74 1151.16h3v3h-3zM333.54 1133.3h3v3h-3zM327.87 1142.87h3v3h-3zM313.65 1168.76h3v3h-3zM333.81 1163.09h3v3h-3zM331.03 1149.39h3v3h-3zM326.32 1120.53h3v3h-3zM395.25 1059.84h3v3h-3zM361.42 1083.69h3v3h-3zM296.46 1156.37h3v3h-3zM301.25 1152.32h3v3h-3zM335.58 1126.8h3v3h-3zM299.45 1168.62h3v3h-3zM362.43 1084.16h3v3h-3zM335.97 1147.05h3v3h-3zM310.55 1130.18h3v3h-3zM316.61 1144.69h3v3h-3zM343.11 1171.77h3v3h-3zM316.38 1149.84h3v3h-3zM288.26 1141.42h3v3h-3zM337.55 1112.52h3v3h-3zM314.93 1121.66h3v3h-3zM307.05 1134.82h3v3h-3zM318.19 1130.58h3v3h-3zM338.76 1125.13h3v3h-3zM314.23 1167.84h3v3h-3zM326.44 1115.89h3v3h-3zM320.5 1147.77h3v3h-3zM324.33 1120.51h3v3h-3zM322.95 1156.2h3v3h-3zM395.7 1051.13h3v3h-3zM349.86 1152.9h3v3h-3zM312.79 1159.59h3v3h-3zM294.15 1162.18h3v3h-3zM361.64 1142.36h3v3h-3zM332.16 1153.41h3v3h-3zM343.31 1137.48h3v3h-3zM313.77 1154.02h3v3h-3zM345.27 1121.14h3v3h-3zM306.02 1147.07h3v3h-3zM335.08 1098.47h3v3h-3zM314.76 1129.95h3v3h-3zM322.62 1137.79h3v3h-3zM338.19 1123.26h3v3h-3zM292.71 1166.12h3v3h-3zM322.49 1140.21h3v3h-3zM298.68 1150.33h3v3h-3zM338.38 1130.85h3v3h-3zM328.18 1147.12h3v3h-3zM334.52 1169.07h3v3h-3zM312.88 1138.79h3v3h-3zM351.34 1162.88h3v3h-3zM362.87 1096.87h3v3h-3zM341.15 1124.8h3v3h-3zM286.23 1170.3h3v3h-3zM295.47 1141.84h3v3h-3zM339.63 1113.84h3v3h-3zM296.81 1146.8h3v3h-3zM398.29 1048.77h3v3h-3zM389.66 1059.51h3v3h-3zM315.49 1096.03h3v3h-3zM317.16 1123.18h3v3h-3zM343.22 1129.69h3v3h-3zM326.15 1147.41h3v3h-3zM331.12 1142.95h3v3h-3zM313.76 1140.71h3v3h-3zM350.9 1143.75h3v3h-3zM306.15 1160.02h3v3h-3zM314.7 1174h3v3h-3zM337.81 1133.52h3v3h-3zM328.09 1154.19h3v3h-3zM393.51 1053.72h3v3h-3zM351.79 1110.63h3v3h-3zM339.59 1131.12h3v3h-3zM344.37 1151.21h3v3h-3zM335.68 1163.72h3v3h-3zM305.92 1148.58h3v3h-3zM327.68 1131.25h3v3h-3zM312.78 1147.14h3v3h-3zM304.19 1137.83h3v3h-3zM339.83 1125.04h3v3h-3zM323.81 1139.21h3v3h-3zM286.55 1167.04h3v3h-3zM293.56 1156.42h3v3h-3zM323.22 1144.09h3v3h-3zM338.94 1142.66h3v3h-3zM349.49 1102.63h3v3h-3zM284.08 1147.28h3v3h-3zM309.93 1150.61h3v3h-3zM353.95 1153.79h3v3h-3zM331.32 1125.89h3v3h-3zM313.51 1152.53h3v3h-3zM368.35 1079.57h3v3h-3zM312.52 1139.99h3v3h-3zM296.08 1151.81h3v3h-3zM316.82 1138.96h3v3h-3zM316.98 1139.81h3v3h-3zM303.83 1168.58h3v3h-3zM346.46 1168.92h3v3h-3zM314.79 1157.53h3v3h-3zM288.84 1123.37h3v3h-3zM338.83 1140.65h3v3h-3zM285.88 1163h3v3h-3zM319.12 1122.9h3v3h-3zM372.88 1088.95h3v3h-3zM329.67 1161.57h3v3h-3zM324.76 1120.99h3v3h-3zM331.6 1152.34h3v3h-3zM327.56 1129.99h3v3h-3zM302.69 1133.6h3v3h-3zM328.26 1126.56h3v3h-3zM340.09 1136.87h3v3h-3zM308.59 1136.6h3v3h-3zM321.66 1116.11h3v3h-3zM311.9 1176.55h3v3h-3zM321.33 1103.08h3v3h-3zM309.65 1159.91h3v3h-3zM348.29 1121.02h3v3h-3zM300.94 1175.83h3v3h-3zM334.43 1174.05h3v3h-3zM333.47 1132.8h3v3h-3zM350.44 1158.71h3v3h-3zM350.17 1154.72h3v3h-3zM300.26 1147.63h3v3h-3zM307.97 1115.87h3v3h-3zM348.44 1149.88h3v3h-3zM329.36 1136.74h3v3h-3zM307.78 1154.92h3v3h-3zM298.99 1142.4h3v3h-3zM295.88 1136.62h3v3h-3zM345.66 1133.5h3v3h-3zM314.35 1120.2h3v3h-3zM345.56 1149.25h3v3h-3zM343.41 1119.36h3v3h-3zM341.76 1145.9h3v3h-3zM321.31 1122.07h3v3h-3zM338.72 1145.49h3v3h-3zM289.1 1156.59h3v3h-3zM309.98 1119.31h3v3h-3zM308.07 1130.29h3v3h-3zM376.54 1066.63h3v3h-3zM400.11 1046.44h3v3h-3zM303.95 1124.4h3v3h-3zM320.62 1123.95h3v3h-3zM297.95 1148.94h3v3h-3zM352.97 1118.66h3v3h-3zM332.98 1111.01h3v3h-3zM340.07 1129.28h3v3h-3zM321.99 1154.9h3v3h-3zM313.27 1146.84h3v3h-3zM297.98 1138.78h3v3h-3zM301.51 1128.83h3v3h-3zM325.46 1119.74h3v3h-3zM329.3 1119.23h3v3h-3zM314.23 1124.9h3v3h-3zM325.34 1097.69h3v3h-3zM334.39 1151.58h3v3h-3zM345.85 1164.2h3v3h-3zM341.98 1101.86h3v3h-3zM320.41 1128.22h3v3h-3zM311.53 1166.46h3v3h-3zM329.48 1112.62h3v3h-3zM320.28 1118.11h3v3h-3zM308.84 1140.22h3v3h-3zM334.61 1140.33h3v3h-3zM323.45 1156.26h3v3h-3zM277.08 1156.38h3v3h-3zM332.5 1122.2h3v3h-3zM314.09 1107.56h3v3h-3zM294.77 1129.29h3v3h-3zM333.44 1159.22h3v3h-3zM364.65 1088.94h3v3h-3zM401.44 1047.83h3v3h-3zM317.94 1152.74h3v3h-3zM340.9 1159.46h3v3h-3zM308.32 1159.98h3v3h-3zM343.94 1125.25h3v3h-3zM337.75 1117.8h3v3h-3zM298.53 1154.42h3v3h-3zM295.81 1136.36h3v3h-3zM409.99 1042.56h3v3h-3zM304.19 1136.15h3v3h-3zM303.47 1148.5h3v3h-3zM358.41 1131.68h3v3h-3zM353.02 1095.96h3v3h-3zM315.96 1122.21h3v3h-3zM398.02 1052.47h3v3h-3zM414 1033.91h3v3h-3zM328.16 1118.83h3v3h-3zM309.34 1146.33h3v3h-3zM346.53 1127.97h3v3h-3zM353.31 1117.42h3v3h-3zM299.49 1142.52h3v3h-3zM328.51 1103.15h3v3h-3zM345.03 1121.98h3v3h-3zM292.23 1141.44h3v3h-3zM339.08 1137.72h3v3h-3zM321.52 1163.52h3v3h-3zM282.87 1158.85h3v3h-3zM339.08 1142.44h3v3h-3zM326.82 1142.92h3v3h-3zM326.51 1152.79h3v3h-3zM324.16 1155.97h3v3h-3zM303.68 1126.62h3v3h-3zM293.4 1128.99h3v3h-3zM325.34 1170.28h3v3h-3zM388.81 1075.33h3v3h-3zM289.6 1137.15h3v3h-3zM304.73 1132.76h3v3h-3zM296.23 1141.86h3v3h-3zM343.23 1127.46h3v3h-3zM294.43 1126.71h3v3h-3zM324.96 1176.86h3v3h-3zM325.78 1117.77h3v3h-3zM280.42 1157.65h3v3h-3zM306.14 1152.4h3v3h-3zM354.17 1122.04h3v3h-3zM362.18 1079.82h3v3h-3zM291.92 1133.87h3v3h-3z" fill="#3d3d3d"/>
<path d="M318.17 1145.68h3v3h-3zM331.57 1141.38h3v3h-3zM352.51 1106.95h3v3h-3zM334.95 1131.74h3v3h-3zM331.62 1137.26h3v3h-3zM336.15 1136.38h3v3h-3zM330.07 1136.98h3v3h-3zM336.25 1127.37h3v3h-3zM331.64 1108.52h3v3h-3zM338.95 1140.98h3v3h-3zM326.27 1133.85h3v3h-3zM320.66 1146.63h3v3h-3zM327.07 1134.09h3v3h-3zM333.46 1127.81h3v3h-3zM329.11 1134.63h3v3h-3zM337.39 1125.16h3v3h-3zM319.57 1135.68h3v3h-3zM317.98 1147.01h3v3h-3zM329.29 1123.6h3v3h-3zM314.23 1138.8h3v3h-3zM335.46 1130.93h3v3h-3zM326.35 1134.93h3v3h-3zM328.86 1148.53h3v3h-3zM320.66 1151.7h3v3h-3zM336.61 1171.12h3v3h-3zM311.24 1127.02h3v3h-3zM328.33 1132.15h3v3h-3zM344.06 1110.23h3v3h-3zM331.01 1157.64h3v3h-3zM320.06 1130.23h3v3h-3zM319.45 1145.25h3v3h-3zM330.38 1136.93h3v3h-3zM344.36 1112.96h3v3h-3zM328.64 1147.27h3v3h-3zM323.01 1136.81h3v3h-3zM324.25 1148.06h3v3h-3zM325.19 1144.27h3v3h-3zM330.91 1135.54h3v3h-3zM334.27 1132.13h3v3h-3zM338.59 1130.95h3v3h-3zM331.49 1144.17h3v3h-3zM327.13 1137.59h3v3h-3zM313.39 1146.93h3v3h-3zM311.44 1125.15h3v3h-3zM322.44 1137.57h3v3h-3zM332.19 1144.11h3v3h-3zM338.84 1136.15h3v3h-3zM325.78 1135.71h3v3h-3zM290.2 1170.87h3v3h-3zM319.45 1135.94h3v3h-3zM337.4 1140.09h3v3h-3zM315.65 1143.44h3v3h-3zM318.09 1141.83h3v3h-3zM329.93 1134.61h3v3h-3zM340.85 1154.24h3v3h-3zM313.87 1138.76h3v3h-3zM301.82 1144.82h3v3h-3zM321.96 1144.59h3v3h-3zM332.99 1145.24h3v3h-3zM323.97 1138.4h3v3h-3zM330.7 1136.23h3v3h-3zM324.27 1144.17h3v3h-3zM337.19 1136.54h3v3h-3zM329.39 1108.65h3v3h-3zM346.78 1128.66h3v3h-3zM317.2 1140.11h3v3h-3zM329.39 1144.93h3v3h-3zM330.73 1131.72h3v3h-3zM298.55 1138.14h3v3h-3zM322.21 1139.05h3v3h-3zM323.78 1137.74h3v3h-3zM337.42 1141.62h3v3h-3zM325.8 1121.7h3v3h-3zM325.04 1138.78h3v3h-3zM285.24 1170.66h3v3h-3zM309.53 1147.59h3v3h-3zM319.94 1140.41h3v3h-3zM354.93 1145.06h3v3h-3zM299 1169.43h3v3h-3zM310.54 1133.2h3v3h-3zM329.64 1134.95h3v3h-3zM333.63 1160.05h3v3h-3zM309.98 1147.62h3v3h-3zM313.8 1143.57h3v3h-3zM317.07 1142.91h3v3h-3zM331.67 1132.9h3v3h-3zM330.67 1135h3v3h-3zM324.62 1142.91h3v3h-3zM315.06 1110.94h3v3h-3zM350.61 1123.81h3v3h-3zM347.89 1116.95h3v3h-3zM318.39 1136.3h3v3h-3zM311.05 1144.8h3v3h-3zM336.11 1136.91h3v3h-3zM335.9 1138.98h3v3h-3zM325.66 1139h3v3h-3zM333.56 1161.1h3v3h-3zM313.75 1143.09h3v3h-3zM302.29 1145.08h3v3h-3zM336.45 1128.41h3v3h-3zM316.9 1148.66h3v3h-3zM324.67 1132.7h3v3h-3zM318.23 1147.03h3v3h-3zM329.56 1128.05h3v3h-3zM313 1127.33h3v3h-3zM308.46 1135.45h3v3h-3zM318.03 1139.38h3v3h-3zM318.92 1145.76h3v3h-3zM315.37 1146.65h3v3h-3zM324.65 1128.3h3v3h-3zM320.59 1144.58h3v3h-3zM318.88 1132.34h3v3h-3zM347.15 1119.41h3v3h-3zM325.82 1141.74h3v3h-3zM327.15 1138.26h3v3h-3zM340.04 1144.18h3v3h-3zM354.58 1114.03h3v3h-3zM326.39 1113.19h3v3h-3zM336.58 1117.87h3v3h-3zM333.69 1129.46h3v3h-3zM331.48 1140.87h3v3h-3zM333.59 1137.91h3v3h-3zM328.42 1147.24h3v3h-3zM309.2 1126.44h3v3h-3zM303.22 1148.63h3v3h-3zM341.23 1106.47h3v3h-3zM319.23 1134.42h3v3h-3zM327.99 1156.02h3v3h-3zM315.35 1142.3h3v3h-3zM317.11 1138.17h3v3h-3zM325.98 1143.44h3v3h-3zM318.07 1141.73h3v3h-3zM324.37 1140.96h3v3h-3zM330.51 1130.08h3v3h-3zM311.97 1139.57h3v3h-3zM316.89 1141.25h3v3h-3zM318.72 1158.11h3v3h-3zM337.15 1136.26h3v3h-3zM341.38 1136.82h3v3h-3zM314.33 1149.11h3v3h-3zM334.74 1128.64h3v3h-3zM321.44 1137.01h3v3h-3zM289.75 1142.94h3v3h-3zM326.41 1141.42h3v3h-3zM317.39 1148.48h3v3h-3zM321.55 1120.09h3v3h-3zM298.86 1147.14h3v3h-3zM326 1129.34h3v3h-3zM312.27 1141.12h3v3h-3zM335.24 1133.67h3v3h-3zM331.5 1137.6h3v3h-3zM321.41 1133.81h3v3h-3zM341.73 1163.13h3v3h-3zM307.57 1148.21h3v3h-3zM311.95 1135.29h3v3h-3zM315.83 1117.92h3v3h-3zM346.35 1161.1h3v3h-3zM330.65 1147.84h3v3h-3zM314.34 1137.23h3v3h-3zM312.98 1138.74h3v3h-3zM324.65 1133.59h3v3h-3zM323.57 1132.83h3v3h-3zM310.41 1158.03h3v3h-3zM343.58 1115.78h3v3h-3zM333.09 1141.51h3v3h-3zM329.9 1130.67h3v3h-3zM332.2 1135.89h3v3h-3zM293.1 1158.88h3v3h-3zM340.96 1168.44h3v3h-3zM329.51 1127.54h3v3h-3zM319.77 1133.71h3v3h-3zM335.01 1134.19h3v3h-3zM328.77 1134.33h3v3h-3zM329.46 1142.92h3v3h-3zM311.53 1106.5h3v3h-3zM325.43 1143.91h3v3h-3zM332.79 1141.01h3v3h-3zM315.89 1143.68h3v3h-3zM331.18 1137.71h3v3h-3zM315.84 1149.03h3v3h-3zM326.46 1141.48h3v3h-3zM340.08 1114.3h3v3h-3zM343.2 1157.9h3v3h-3zM324.71 1143.65h3v3h-3zM312.09 1160.66h3v3h-3zM294.51 1155.21h3v3h-3zM326.22 1142.61h3v3h-3zM295.38 1155.27h3v3h-3zM336.29 1142.81h3v3h-3zM310.53 1124.17h3v3h-3zM325.88 1149.39h3v3h-3zM325.1 1148.06h3v3h-3zM316.63 1133.09h3v3h-3zM332.93 1169.42h3v3h-3zM325.86 1140.82h3v3h-3zM333.45 1139.83h3v3h-3zM335.35 1139.62h3v3h-3zM296.91 1148.99h3v3h-3zM319.09 1139.9h3v3h-3zM336.81 1132.47h3v3h-3zM318.4 1141.47h3v3h-3zM315.78 1151.42h3v3h-3zM326.74 1149.61h3v3h-3zM324.28 1135.01h3v3h-3zM336.52 1138.81h3v3h-3zM324.68 1147.16h3v3h-3zM321.37 1115.45h3v3h-3zM314.14 1138.58h3v3h-3zM337.95 1130.85h3v3h-3zM333.49 1136.87h3v3h-3zM290.54 1133.61h3v3h-3zM303.44 1138.51h3v3h-3zM333.88 1139.78h3v3h-3zM335.28 1135.43h3v3h-3zM314.4 1139.32h3v3h-3zM323.95 1143.95h3v3h-3zM336.7 1134.58h3v3h-3zM324.17 1138.22h3v3h-3zM326 1174.71h3v3h-3zM322.86 1137.71h3v3h-3zM326.92 1140.4h3v3h-3zM320.78 1127.44h3v3h-3zM313.6 1142.43h3v3h-3zM339.03 1134.21h3v3h-3zM327.08 1147.89h3v3h-3zM320.65 1148.43h3v3h-3zM313.02 1140.51h3v3h-3zM346.86 1160.07h3v3h-3zM329.76 1127.49h3v3h-3zM321.86 1132.56h3v3h-3zM329.16 1136.66h3v3h-3zM319.45 1147.35h3v3h-3zM323.6 1140.95h3v3h-3zM323.33 1141.5h3v3h-3zM313.29 1144.24h3v3h-3zM313.31 1139.36h3v3h-3zM340.61 1114.27h3v3h-3zM349.42 1140.45h3v3h-3zM311.1 1139.61h3v3h-3zM340.41 1135.65h3v3h-3zM320.84 1139.53h3v3h-3zM320.63 1141.43h3v3h-3zM291.82 1133.44h3v3h-3zM318.23 1134.29h3v3h-3zM329.37 1113.91h3v3h-3zM303.75 1158.04h3v3h-3zM327.05 1131.93h3v3h-3zM323.53 1133.93h3v3h-3zM333.96 1147.36h3v3h-3zM305.72 1169.2h3v3h-3zM327.91 1143.98h3v3h-3zM332.29 1112.94h3v3h-3zM328.65 1140.59h3v3h-3zM321.8 1136.21h3v3h-3zM303.82 1172.79h3v3h-3zM323.73 1139.96h3v3h-3zM332.97 1105.83h3v3h-3zM331.41 1126.43h3v3h-3zM336.04 1138.65h3v3h-3zM319.77 1142.5h3v3h-3zM302.24 1113.26h3v3h-3zM312.74 1139.27h3v3h-3zM328.98 1139.86h3v3h-3zM341.81 1129.65h3v3h-3zM323.39 1137.28h3v3h-3zM322.22 1133.34h3v3h-3zM319.65 1143.61h3v3h-3zM309.57 1146.88h3v3h-3zM312.52 1144.93h3v3h-3zM318.98 1147.45h3v3h-3zM348.32 1111.7h3v3h-3zM319.26 1134.24h3v3h-3zM334.4 1133.23h3v3h-3zM349.04 1132.31h3v3h-3zM325.94 1135.25h3v3h-3zM330.49 1128.52h3v3h-3zM306.65 1164.3h3v3h-3zM326.89 1139.63h3v3h-3zM327.69 1138.89h3v3h-3zM320.01 1152.32h3v3h-3zM320.29 1131.36h3v3h-3zM323.01 1128.65h3v3h-3zM322.08 1133.34h3v3h-3zM338.75 1134.8h3v3h-3zM334.05 1140.69h3v3h-3z" fill="#c6c6c6"/>
<line x1="285.16" y1="1182.9" x2="359.43" y2="1182.9" stroke="#cfcfcf" stroke-width="1.2" stroke-linecap="butt"/>
<polyline points="277.2,1106.21 354.97,1106.21" fill="none" stroke="#4f4f4f" stroke-width="1.2" stroke-linejoin="round"/>
<line x1="354.97" y1="1105.61" x2="354.97" y2="1183.8" stroke="#333" stroke-width="1.5" stroke-linecap="butt"/>
<ellipse cx="405.4" cy="1053.3" rx="53.8" ry="29.2" transform="rotate(-45 405.4 1053.3)" fill="none" stroke="#4a4a4a" stroke-width="1.5"/>
<text x="385.3" y="680" font-size="30.2" text-anchor="middle" fill="#231f20">Enriched</text>
<text x="133.3" y="812.5" font-size="30.2" text-anchor="start" fill="#231f20">WT</text>
<text x="76" y="1080.7" font-size="30.2" text-anchor="start" fill="#231f20">B7 DKO</text>
<text x="235.2" y="1065.5" font-size="29.2" text-anchor="middle" transform="rotate(-90 235.2 1065.5)" fill="#231f20">pMOG-Tet-PE</text>
<text x="377.5" y="1241.2" font-size="29.2" text-anchor="middle" fill="#231f20">pMOG-Tet-APC</text>
<line x1="229.5" y1="924.4" x2="229.5" y2="812.8" stroke="#231f20" stroke-width="3.9" stroke-linecap="butt"/>
<polygon points="229.5,788.3 216.6,813.8 242.4,813.8" fill="#231f20"/>
<line x1="425.5" y1="788.4" x2="536.8" y2="788.4" stroke="#231f20" stroke-width="3.9" stroke-linecap="butt"/>
<polygon points="561.3,788.4 535.8,775.8 535.8,801" fill="#231f20"/>
<line x1="548.3" y1="977" x2="548.3" y2="865.8" stroke="#231f20" stroke-width="3.9" stroke-linecap="butt"/>
<polygon points="548.3,841.3 535.4,866.8 561.2,866.8" fill="#231f20"/>
<line x1="851.3" y1="977" x2="851.3" y2="865.8" stroke="#231f20" stroke-width="3.9" stroke-linecap="butt"/>
<polygon points="851.3,841.3 838.4,866.8 864.2,866.8" fill="#231f20"/>
<line x1="1273.8" y1="1228.3" x2="1749.7" y2="1228.3" stroke="#231f20" stroke-width="4.1" stroke-linecap="butt"/>
<polygon points="1774.2,1228.3 1748.7,1215.7 1748.7,1240.9" fill="#231f20"/>
<line x1="600.7" y1="700.8" x2="813.2" y2="700.8" stroke="#7c7c7c" stroke-width="1.1" stroke-linecap="butt"/>
<line x1="813.2" y1="700.8" x2="813.2" y2="912.6" stroke="#7c7c7c" stroke-width="1.1" stroke-linecap="butt"/>
<line x1="600.7" y1="700.2" x2="600.7" y2="913.3" stroke="#4a4a4a" stroke-width="1.4" stroke-linecap="butt"/>
<line x1="600" y1="912.6" x2="813.8" y2="912.6" stroke="#4a4a4a" stroke-width="1.4" stroke-linecap="butt"/>
<path d="M597.2 896.66H600.7M616.69 912.6V916.1M597.2 887.34H600.7M626.05 912.6V916.1M597.2 880.72H600.7M632.68 912.6V916.1M595.7 875.59H600.7M637.83 912.6V917.6M597.2 871.4H600.7M642.04 912.6V916.1M597.2 867.85H600.7M645.6 912.6V916.1M597.2 864.78H600.7M648.68 912.6V916.1M597.2 862.07H600.7M651.39 912.6V916.1M597.2 843.71H600.7M669.82 912.6V916.1M597.2 834.39H600.7M679.17 912.6V916.1M597.2 827.77H600.7M685.81 912.6V916.1M595.7 822.64H600.7M690.96 912.6V917.6M597.2 818.45H600.7M695.16 912.6V916.1M597.2 814.9H600.7M698.72 912.6V916.1M597.2 811.83H600.7M701.8 912.6V916.1M597.2 809.12H600.7M704.52 912.6V916.1M597.2 790.76H600.7M722.94 912.6V916.1M597.2 781.44H600.7M732.3 912.6V916.1M597.2 774.82H600.7M738.93 912.6V916.1M595.7 769.69H600.7M744.08 912.6V917.6M597.2 765.5H600.7M748.29 912.6V916.1M597.2 761.95H600.7M751.85 912.6V916.1M597.2 758.88H600.7M754.93 912.6V916.1M597.2 756.17H600.7M757.64 912.6V916.1M597.2 737.81H600.7M776.07 912.6V916.1M597.2 728.49H600.7M785.42 912.6V916.1M597.2 721.87H600.7M792.06 912.6V916.1M595.7 716.74H600.7M797.21 912.6V917.6M597.2 712.55H600.7M801.41 912.6V916.1M597.2 709H600.7M804.97 912.6V916.1M597.2 705.93H600.7M808.05 912.6V916.1M597.2 703.22H600.7M810.77 912.6V916.1" stroke="#666" stroke-width="1.05" fill="none"/>
<path d="M593.9 912.6H600.7M600.7 912.6V919.4M593.9 859.65H600.7M653.83 912.6V919.4M593.9 806.7H600.7M706.95 912.6V919.4M593.9 753.75H600.7M760.08 912.6V919.4M593.9 700.8H600.7M813.2 912.6V919.4" stroke="#3c3c3c" stroke-width="1.6" fill="none"/>
<text x="589.9" y="918.4" font-size="12.2" text-anchor="end" fill="#2e2e2e">10<tspan font-size="7.8" dy="-6.4">0</tspan></text>
<text x="592.7" y="937.2" font-size="12.2" text-anchor="start" fill="#2e2e2e">10<tspan font-size="7.8" dy="-6.4">0</tspan></text>
<text x="589.9" y="865.45" font-size="12.2" text-anchor="end" fill="#2e2e2e">10<tspan font-size="7.8" dy="-6.4">1</tspan></text>
<text x="645.83" y="937.2" font-size="12.2" text-anchor="start" fill="#2e2e2e">10<tspan font-size="7.8" dy="-6.4">1</tspan></text>
<text x="589.9" y="812.5" font-size="12.2" text-anchor="end" fill="#2e2e2e">10<tspan font-size="7.8" dy="-6.4">2</tspan></text>
<text x="698.95" y="937.2" font-size="12.2" text-anchor="start" fill="#2e2e2e">10<tspan font-size="7.8" dy="-6.4">2</tspan></text>
<text x="589.9" y="759.55" font-size="12.2" text-anchor="end" fill="#2e2e2e">10<tspan font-size="7.8" dy="-6.4">3</tspan></text>
<text x="752.08" y="937.2" font-size="12.2" text-anchor="start" fill="#2e2e2e">10<tspan font-size="7.8" dy="-6.4">3</tspan></text>
<text x="589.9" y="706.6" font-size="12.2" text-anchor="end" fill="#2e2e2e">10<tspan font-size="7.8" dy="-6.4">4</tspan></text>
<text x="805.2" y="937.2" font-size="12.2" text-anchor="start" fill="#2e2e2e">10<tspan font-size="7.8" dy="-6.4">4</tspan></text>
<path d="M715.72 751.97h3.2v3.2h-3.2zM737.95 761.71h3.2v3.2h-3.2zM713.28 794.3h3.2v3.2h-3.2zM726.07 787.9h3.2v3.2h-3.2zM724.86 792.16h3.2v3.2h-3.2zM730.03 783.03h3.2v3.2h-3.2zM732.47 785.46h3.2v3.2h-3.2zM733.99 784.25h3.2v3.2h-3.2zM731.55 796.12h3.2v3.2h-3.2zM731.25 798.86h3.2v3.2h-3.2zM735.51 797.04h3.2v3.2h-3.2zM737.64 798.25h3.2v3.2h-3.2zM728.51 803.13h3.2v3.2h-3.2zM730.34 805.26h3.2v3.2h-3.2zM721.81 804.65h3.2v3.2h-3.2zM723.94 808.3h3.2v3.2h-3.2zM733.99 807.39h3.2v3.2h-3.2zM744.34 804.34h3.2v3.2h-3.2zM732.47 809.83h3.2v3.2h-3.2zM732.77 812.87h3.2v3.2h-3.2zM726.38 814.09h3.2v3.2h-3.2zM728.51 817.44h3.2v3.2h-3.2zM743.13 815.92h3.2v3.2h-3.2zM738.25 817.44h3.2v3.2h-3.2zM727.9 821.4h3.2v3.2h-3.2zM737.04 822.61h3.2v3.2h-3.2zM730.64 833.58h3.2v3.2h-3.2zM732.47 835.71h3.2v3.2h-3.2zM742.21 835.71h3.2v3.2h-3.2zM740.08 839.36h3.2v3.2h-3.2zM732.16 842.71h3.2v3.2h-3.2zM731.55 859.16h3.2v3.2h-3.2zM734.6 861.59h3.2v3.2h-3.2zM730.34 864.03h3.2v3.2h-3.2zM736.12 870.12h3.2v3.2h-3.2z" fill="#3d3d3d"/>
<polyline points="698.7,700.8 698.7,768.8 760.9,768.8 760.9,700.8" fill="none" stroke="#6a6a6a" stroke-width="1.2" stroke-linejoin="round"/>
<line x1="760.9" y1="700.8" x2="760.9" y2="768.8" stroke="#4a4a4a" stroke-width="1.7" stroke-linecap="butt"/>
<polyline points="700.3,912.6 700.3,776.4 762.7,776.4 762.7,912.6" fill="none" stroke="#6a6a6a" stroke-width="1.2" stroke-linejoin="round"/>
<line x1="762.7" y1="776.4" x2="762.7" y2="912.6" stroke="#4a4a4a" stroke-width="1.7" stroke-linecap="butt"/>
<text x="670.5" y="750.7" font-size="30.2" text-anchor="middle" fill="#231f20">7</text>
<text x="665" y="853" font-size="30.2" text-anchor="middle" fill="#231f20">93</text>
<line x1="600.9" y1="970.5" x2="813.4" y2="970.5" stroke="#7c7c7c" stroke-width="1.1" stroke-linecap="butt"/>
<line x1="813.4" y1="970.5" x2="813.4" y2="1182.6" stroke="#7c7c7c" stroke-width="1.1" stroke-linecap="butt"/>
<line x1="600.9" y1="969.9" x2="600.9" y2="1183.3" stroke="#4a4a4a" stroke-width="1.4" stroke-linecap="butt"/>
<line x1="600.2" y1="1182.6" x2="814" y2="1182.6" stroke="#4a4a4a" stroke-width="1.4" stroke-linecap="butt"/>
<path d="M597.4 1166.64H600.9M616.89 1182.6V1186.1M597.4 1157.3H600.9M626.25 1182.6V1186.1M597.4 1150.68H600.9M632.88 1182.6V1186.1M595.9 1145.54H600.9M638.03 1182.6V1187.6M597.4 1141.34H600.9M642.24 1182.6V1186.1M597.4 1137.79H600.9M645.8 1182.6V1186.1M597.4 1134.71H600.9M648.88 1182.6V1186.1M597.4 1132H600.9M651.59 1182.6V1186.1M597.4 1113.61H600.9M670.02 1182.6V1186.1M597.4 1104.28H600.9M679.37 1182.6V1186.1M597.4 1097.65H600.9M686.01 1182.6V1186.1M595.9 1092.51H600.9M691.16 1182.6V1187.6M597.4 1088.31H600.9M695.36 1182.6V1186.1M597.4 1084.76H600.9M698.92 1182.6V1186.1M597.4 1081.69H600.9M702 1182.6V1186.1M597.4 1078.98H600.9M704.72 1182.6V1186.1M597.4 1060.59H600.9M723.14 1182.6V1186.1M597.4 1051.25H600.9M732.5 1182.6V1186.1M597.4 1044.63H600.9M739.13 1182.6V1186.1M595.9 1039.49H600.9M744.28 1182.6V1187.6M597.4 1035.29H600.9M748.49 1182.6V1186.1M597.4 1031.74H600.9M752.05 1182.6V1186.1M597.4 1028.66H600.9M755.13 1182.6V1186.1M597.4 1025.95H600.9M757.84 1182.6V1186.1M597.4 1007.56H600.9M776.27 1182.6V1186.1M597.4 998.23H600.9M785.62 1182.6V1186.1M597.4 991.6H600.9M792.26 1182.6V1186.1M595.9 986.46H600.9M797.41 1182.6V1187.6M597.4 982.26H600.9M801.61 1182.6V1186.1M597.4 978.71H600.9M805.17 1182.6V1186.1M597.4 975.64H600.9M808.25 1182.6V1186.1M597.4 972.93H600.9M810.97 1182.6V1186.1" stroke="#666" stroke-width="1.05" fill="none"/>
<path d="M594.1 1182.6H600.9M600.9 1182.6V1189.4M594.1 1129.57H600.9M654.02 1182.6V1189.4M594.1 1076.55H600.9M707.15 1182.6V1189.4M594.1 1023.52H600.9M760.27 1182.6V1189.4M594.1 970.5H600.9M813.4 1182.6V1189.4" stroke="#3c3c3c" stroke-width="1.6" fill="none"/>
<text x="590.1" y="1188.4" font-size="12.2" text-anchor="end" fill="#2e2e2e">10<tspan font-size="7.8" dy="-6.4">0</tspan></text>
<text x="592.9" y="1207.2" font-size="12.2" text-anchor="start" fill="#2e2e2e">10<tspan font-size="7.8" dy="-6.4">0</tspan></text>
<text x="590.1" y="1135.37" font-size="12.2" text-anchor="end" fill="#2e2e2e">10<tspan font-size="7.8" dy="-6.4">1</tspan></text>
<text x="646.02" y="1207.2" font-size="12.2" text-anchor="start" fill="#2e2e2e">10<tspan font-size="7.8" dy="-6.4">1</tspan></text>
<text x="590.1" y="1082.35" font-size="12.2" text-anchor="end" fill="#2e2e2e">10<tspan font-size="7.8" dy="-6.4">2</tspan></text>
<text x="699.15" y="1207.2" font-size="12.2" text-anchor="start" fill="#2e2e2e">10<tspan font-size="7.8" dy="-6.4">2</tspan></text>
<text x="590.1" y="1029.33" font-size="12.2" text-anchor="end" fill="#2e2e2e">10<tspan font-size="7.8" dy="-6.4">3</tspan></text>
<text x="752.27" y="1207.2" font-size="12.2" text-anchor="start" fill="#2e2e2e">10<tspan font-size="7.8" dy="-6.4">3</tspan></text>
<text x="590.1" y="976.3" font-size="12.2" text-anchor="end" fill="#2e2e2e">10<tspan font-size="7.8" dy="-6.4">4</tspan></text>
<text x="805.4" y="1207.2" font-size="12.2" text-anchor="start" fill="#2e2e2e">10<tspan font-size="7.8" dy="-6.4">4</tspan></text>
<path d="M703.94 1025.25h3.2v3.2h-3.2zM705.92 1020.31h3.2v3.2h-3.2zM723.68 1018.59h3.2v3.2h-3.2zM729.85 1027.72h3.2v3.2h-3.2zM738.73 1028.95h3.2v3.2h-3.2zM737.25 1033.39h3.2v3.2h-3.2zM727.76 1068.28h3.2v3.2h-3.2zM728.99 1105.95h3.2v3.2h-3.2zM730.59 1113.13h3.2v3.2h-3.2zM727.9 1059.16h3.2v3.2h-3.2zM729.63 1061.79h3.2v3.2h-3.2zM729.22 1099.29h3.2v3.2h-3.2zM729.83 1091.03h3.2v3.2h-3.2zM724.77 1096.58h3.2v3.2h-3.2zM725.39 1064.78h3.2v3.2h-3.2zM735.21 1107.95h3.2v3.2h-3.2zM726.97 1083.73h3.2v3.2h-3.2zM736.06 1057.5h3.2v3.2h-3.2zM731.65 1088.87h3.2v3.2h-3.2zM731.06 1060.81h3.2v3.2h-3.2zM728.96 1048.72h3.2v3.2h-3.2zM726 1077.44h3.2v3.2h-3.2zM736.97 1078.08h3.2v3.2h-3.2zM720.74 1075.64h3.2v3.2h-3.2zM735.06 1115.89h3.2v3.2h-3.2zM736.76 1088.41h3.2v3.2h-3.2zM733.71 1071.53h3.2v3.2h-3.2zM733.82 1051.05h3.2v3.2h-3.2zM729.36 1065.09h3.2v3.2h-3.2zM734.14 1084.95h3.2v3.2h-3.2zM735.57 1097.8h3.2v3.2h-3.2zM728.14 1082.16h3.2v3.2h-3.2zM730.6 1103.17h3.2v3.2h-3.2zM730.46 1105.74h3.2v3.2h-3.2zM723.82 1052.44h3.2v3.2h-3.2zM728.79 1075.98h3.2v3.2h-3.2zM725.61 1090.94h3.2v3.2h-3.2zM717.71 1068.51h3.2v3.2h-3.2zM732.89 1067.05h3.2v3.2h-3.2zM739.42 1057.95h3.2v3.2h-3.2zM740.82 1048.2h3.2v3.2h-3.2zM736.04 1058.57h3.2v3.2h-3.2zM723.82 1071.83h3.2v3.2h-3.2zM732.48 1067.6h3.2v3.2h-3.2zM731.66 1103.37h3.2v3.2h-3.2zM726.42 1066.59h3.2v3.2h-3.2zM726.37 1086.6h3.2v3.2h-3.2zM738.74 1073h3.2v3.2h-3.2zM736.34 1073.94h3.2v3.2h-3.2zM734.32 1070.55h3.2v3.2h-3.2zM730.15 1049.46h3.2v3.2h-3.2zM737.22 1084.67h3.2v3.2h-3.2zM723.66 1090.2h3.2v3.2h-3.2zM727.77 1064.57h3.2v3.2h-3.2zM734.44 1109.73h3.2v3.2h-3.2zM737.58 1085.42h3.2v3.2h-3.2zM732.71 1061.76h3.2v3.2h-3.2zM722.27 1053.8h3.2v3.2h-3.2zM728.63 1067.83h3.2v3.2h-3.2zM738.8 1056.53h3.2v3.2h-3.2zM733.59 1075.97h3.2v3.2h-3.2zM735.62 1076.69h3.2v3.2h-3.2zM733.4 1083.95h3.2v3.2h-3.2zM736.16 1045.49h3.2v3.2h-3.2zM733.87 1092.39h3.2v3.2h-3.2zM730.67 1074.63h3.2v3.2h-3.2zM732.74 1088.39h3.2v3.2h-3.2zM729.66 1079.19h3.2v3.2h-3.2zM739.33 1059.35h3.2v3.2h-3.2zM725.8 1129.2h3.2v3.2h-3.2zM731.38 1084.94h3.2v3.2h-3.2zM733.28 1079.28h3.2v3.2h-3.2zM729.6 1098.28h3.2v3.2h-3.2zM722.16 1083.78h3.2v3.2h-3.2zM730.44 1071.51h3.2v3.2h-3.2zM735.91 1061.92h3.2v3.2h-3.2zM737.91 1102.1h3.2v3.2h-3.2zM737.84 1074.61h3.2v3.2h-3.2zM732.64 1093.66h3.2v3.2h-3.2zM731.32 1075.7h3.2v3.2h-3.2zM736.89 1045.36h3.2v3.2h-3.2zM738.57 1055.09h3.2v3.2h-3.2zM732.23 1097.82h3.2v3.2h-3.2zM729.66 1092.83h3.2v3.2h-3.2zM733.96 1053.28h3.2v3.2h-3.2zM728.78 1067h3.2v3.2h-3.2zM742.17 1088.32h3.2v3.2h-3.2zM727.36 1064.02h3.2v3.2h-3.2zM724.77 1064.34h3.2v3.2h-3.2zM728.84 1067.07h3.2v3.2h-3.2zM736.98 1071.38h3.2v3.2h-3.2zM739.59 1050.15h3.2v3.2h-3.2zM736.27 1089.22h3.2v3.2h-3.2zM732.07 1057.91h3.2v3.2h-3.2zM737.05 1092.04h3.2v3.2h-3.2zM734.88 1094.71h3.2v3.2h-3.2zM739.97 1073.02h3.2v3.2h-3.2zM728.77 1097.64h3.2v3.2h-3.2zM734.71 1097.9h3.2v3.2h-3.2zM732.08 1071.28h3.2v3.2h-3.2zM731.41 1083.04h3.2v3.2h-3.2zM722.81 1096.62h3.2v3.2h-3.2zM734.83 1111.75h3.2v3.2h-3.2zM724.1 1069.37h3.2v3.2h-3.2zM730.71 1099.18h3.2v3.2h-3.2zM721.64 1063.36h3.2v3.2h-3.2zM730.66 1097.89h3.2v3.2h-3.2zM734.96 1110.34h3.2v3.2h-3.2zM736.04 1062.5h3.2v3.2h-3.2zM730.98 1044.89h3.2v3.2h-3.2zM732.04 1088.27h3.2v3.2h-3.2zM734.81 1056.45h3.2v3.2h-3.2zM737.23 1075.74h3.2v3.2h-3.2zM743.38 1094.07h3.2v3.2h-3.2zM728.08 1088.88h3.2v3.2h-3.2zM727.29 1085.07h3.2v3.2h-3.2zM730.61 1087.57h3.2v3.2h-3.2zM726.63 1068.81h3.2v3.2h-3.2zM734.8 1069.45h3.2v3.2h-3.2zM733.45 1059.04h3.2v3.2h-3.2zM723.34 1077.6h3.2v3.2h-3.2zM732.72 1091.21h3.2v3.2h-3.2zM736.79 1060.96h3.2v3.2h-3.2zM730.29 1062.56h3.2v3.2h-3.2zM740.68 1083.99h3.2v3.2h-3.2zM725.39 1090.26h3.2v3.2h-3.2zM733.33 1078.2h3.2v3.2h-3.2zM730.68 1068.01h3.2v3.2h-3.2zM732.02 1081.17h3.2v3.2h-3.2zM737.28 1090.92h3.2v3.2h-3.2zM738.45 1102.94h3.2v3.2h-3.2zM729.48 1060.42h3.2v3.2h-3.2zM732.02 1089.71h3.2v3.2h-3.2zM731.69 1060.33h3.2v3.2h-3.2zM734.55 1062h3.2v3.2h-3.2zM729.56 1048.22h3.2v3.2h-3.2zM727.36 1085.84h3.2v3.2h-3.2zM736.26 1085.99h3.2v3.2h-3.2zM721.69 1051.61h3.2v3.2h-3.2zM733.68 1090.38h3.2v3.2h-3.2zM728.55 1130.52h3.2v3.2h-3.2zM753.36 1053.74h3.2v3.2h-3.2zM750.17 1081.84h3.2v3.2h-3.2zM717.24 1080.25h3.2v3.2h-3.2zM717.24 1097.75h3.2v3.2h-3.2zM720.42 1121.61h3.2v3.2h-3.2zM720.42 1051.09h3.2v3.2h-3.2z" fill="#3d3d3d"/>
<polyline points="698.6,970.5 698.6,1039.2 760.3,1039.2 760.3,970.5" fill="none" stroke="#6a6a6a" stroke-width="1.2" stroke-linejoin="round"/>
<line x1="760.3" y1="970.5" x2="760.3" y2="1039.2" stroke="#4a4a4a" stroke-width="1.7" stroke-linecap="butt"/>
<polyline points="700.1,1182.6 700.1,1046.6 763.3,1046.6 763.3,1182.6" fill="none" stroke="#6a6a6a" stroke-width="1.2" stroke-linejoin="round"/>
<line x1="763.3" y1="1046.6" x2="763.3" y2="1182.6" stroke="#4a4a4a" stroke-width="1.7" stroke-linecap="butt"/>
<text x="669.3" y="1026.4" font-size="30.2" text-anchor="middle" fill="#231f20">5</text>
<text x="665.6" y="1114.6" font-size="30.2" text-anchor="middle" fill="#231f20">95</text>
<text x="699.6" y="685" font-size="30.2" text-anchor="middle" fill="#231f20">Total</text>
<text x="564.3" y="1089.3" font-size="29.2" text-anchor="middle" transform="rotate(-90 564.3 1089.3)" fill="#231f20">CD44-FITC</text>
<text x="692" y="1241.5" font-size="29.2" text-anchor="middle" fill="#231f20">CD4-BV510</text>
<text x="853" y="1079.5" font-size="29.2" text-anchor="middle" transform="rotate(-90 853 1079.5)" fill="#231f20">FR4-PE-Cy7</text>
<text x="1072.5" y="1241.2" font-size="29.2" text-anchor="middle" fill="#231f20">CD73-AlexaFluor594</text>
<path d="M899.35 768.55h1.7v1.7h-1.7zM899.35 774.03h1.7v1.7h-1.7zM899.35 780.12h1.7v1.7h-1.7zM899.35 789.26h1.7v1.7h-1.7zM899.35 792.3h1.7v1.7h-1.7zM899.35 806.01h1.7v1.7h-1.7zM899.35 810.58h1.7v1.7h-1.7zM899.35 816.67h1.7v1.7h-1.7zM899.35 824.28h1.7v1.7h-1.7zM899.35 831.89h1.7v1.7h-1.7zM899.35 843.46h1.7v1.7h-1.7z" fill="#3d3d3d"/>
<line x1="899" y1="700.8" x2="1111.2" y2="700.8" stroke="#707070" stroke-width="1.1" stroke-linecap="butt"/>
<line x1="1111.2" y1="700.8" x2="1111.2" y2="912.6" stroke="#5a5a5a" stroke-width="1.4" stroke-linecap="butt"/>
<line x1="899" y1="700.2" x2="899" y2="913.3" stroke="#4a4a4a" stroke-width="1.4" stroke-linecap="butt"/>
<line x1="898.3" y1="912.6" x2="1111.8" y2="912.6" stroke="#4a4a4a" stroke-width="1.4" stroke-linecap="butt"/>
<path d="M895.5 896.66H899M914.97 912.6V916.1M895.5 887.34H899M924.31 912.6V916.1M895.5 880.72H899M930.94 912.6V916.1M894 875.59H899M936.08 912.6V917.6M895.5 871.4H899M940.28 912.6V916.1M895.5 867.85H899M943.83 912.6V916.1M895.5 864.78H899M946.91 912.6V916.1M895.5 862.07H899M949.62 912.6V916.1M895.5 843.71H899M968.02 912.6V916.1M895.5 834.39H899M977.36 912.6V916.1M895.5 827.77H899M983.99 912.6V916.1M894 822.64H899M989.13 912.6V917.6M895.5 818.45H899M993.33 912.6V916.1M895.5 814.9H899M996.88 912.6V916.1M895.5 811.83H899M999.96 912.6V916.1M895.5 809.12H899M1002.67 912.6V916.1M895.5 790.76H899M1021.07 912.6V916.1M895.5 781.44H899M1030.41 912.6V916.1M895.5 774.82H899M1037.04 912.6V916.1M894 769.69H899M1042.18 912.6V917.6M895.5 765.5H899M1046.38 912.6V916.1M895.5 761.95H899M1049.93 912.6V916.1M895.5 758.88H899M1053.01 912.6V916.1M895.5 756.17H899M1055.72 912.6V916.1M895.5 737.81H899M1074.12 912.6V916.1M895.5 728.49H899M1083.46 912.6V916.1M895.5 721.87H899M1090.09 912.6V916.1M894 716.74H899M1095.23 912.6V917.6M895.5 712.55H899M1099.43 912.6V916.1M895.5 709H899M1102.98 912.6V916.1M895.5 705.93H899M1106.06 912.6V916.1M895.5 703.22H899M1108.77 912.6V916.1" stroke="#666" stroke-width="1.05" fill="none"/>
<path d="M892.2 912.6H899M899 912.6V919.4M892.2 859.65H899M952.05 912.6V919.4M892.2 806.7H899M1005.1 912.6V919.4M892.2 753.75H899M1058.15 912.6V919.4M892.2 700.8H899M1111.2 912.6V919.4" stroke="#3c3c3c" stroke-width="1.6" fill="none"/>
<text x="888.2" y="918.4" font-size="12.2" text-anchor="end" fill="#2e2e2e">10<tspan font-size="7.8" dy="-6.4">0</tspan></text>
<text x="891" y="937.2" font-size="12.2" text-anchor="start" fill="#2e2e2e">10<tspan font-size="7.8" dy="-6.4">0</tspan></text>
<text x="888.2" y="865.45" font-size="12.2" text-anchor="end" fill="#2e2e2e">10<tspan font-size="7.8" dy="-6.4">1</tspan></text>
<text x="944.05" y="937.2" font-size="12.2" text-anchor="start" fill="#2e2e2e">10<tspan font-size="7.8" dy="-6.4">1</tspan></text>
<text x="888.2" y="812.5" font-size="12.2" text-anchor="end" fill="#2e2e2e">10<tspan font-size="7.8" dy="-6.4">2</tspan></text>
<text x="997.1" y="937.2" font-size="12.2" text-anchor="start" fill="#2e2e2e">10<tspan font-size="7.8" dy="-6.4">2</tspan></text>
<text x="888.2" y="759.55" font-size="12.2" text-anchor="end" fill="#2e2e2e">10<tspan font-size="7.8" dy="-6.4">3</tspan></text>
<text x="1050.15" y="937.2" font-size="12.2" text-anchor="start" fill="#2e2e2e">10<tspan font-size="7.8" dy="-6.4">3</tspan></text>
<text x="888.2" y="706.6" font-size="12.2" text-anchor="end" fill="#2e2e2e">10<tspan font-size="7.8" dy="-6.4">4</tspan></text>
<text x="1103.2" y="937.2" font-size="12.2" text-anchor="start" fill="#2e2e2e">10<tspan font-size="7.8" dy="-6.4">4</tspan></text>
<path d="M907.73 793.69h3.2v3.2h-3.2zM930.26 801.6h3.2v3.2h-3.2zM954.93 786.38h3.2v3.2h-3.2zM964.06 784.55h3.2v3.2h-3.2zM963.15 796.43h3.2v3.2h-3.2zM964.98 802.82h3.2v3.2h-3.2zM966.8 802.82h3.2v3.2h-3.2zM954.02 817.74h3.2v3.2h-3.2zM958.28 827.79h3.2v3.2h-3.2zM974.11 813.17h3.2v3.2h-3.2zM978.38 813.17h3.2v3.2h-3.2zM976.55 790.95h3.2v3.2h-3.2zM982.33 793.69h3.2v3.2h-3.2zM992.38 828.7h3.2v3.2h-3.2zM995.73 804.34h3.2v3.2h-3.2zM996.34 817.74h3.2v3.2h-3.2zM1003.04 791.86h3.2v3.2h-3.2zM1005.78 800.08h3.2v3.2h-3.2zM1008.22 806.78h3.2v3.2h-3.2zM1009.13 770.85h3.2v3.2h-3.2zM1015.53 784.55h3.2v3.2h-3.2zM1022.22 767.8h3.2v3.2h-3.2zM1026.49 764.15h3.2v3.2h-3.2zM1034.71 770.24h3.2v3.2h-3.2zM1033.8 783.64h3.2v3.2h-3.2zM1035.01 783.03h3.2v3.2h-3.2z" fill="#3d3d3d"/>
<polyline points="899,756.2 1006.2,742.2" fill="none" stroke="#555" stroke-width="1.6" stroke-linejoin="round"/>
<polyline points="1006.2,742.2 1029.9,701.8 1096.3,702.6 1108.2,760.2 1089.8,793.8" fill="none" stroke="#5a5a5a" stroke-width="1.6" stroke-linejoin="round"/>
<polyline points="1089.8,793.8 1081.1,912.6" fill="none" stroke="#5a5a5a" stroke-width="1.6" stroke-linejoin="round"/>
<polyline points="1089.8,793.8 1006.2,742.2" fill="none" stroke="#454545" stroke-width="2.1" stroke-linejoin="round"/>
<line x1="1008.1" y1="738.97" x2="1022.32" y2="714.73" stroke="#383838" stroke-width="2.7" stroke-linecap="butt"/>
<text x="1063.4" y="750.5" font-size="30.2" text-anchor="middle" fill="#231f20">0</text>
<text x="913.9" y="895.8" font-size="30.2" text-anchor="start" fill="#231f20">100</text>
<line x1="1170" y1="700.8" x2="1382.2" y2="700.8" stroke="#707070" stroke-width="1.1" stroke-linecap="butt"/>
<line x1="1170" y1="700.2" x2="1170" y2="913.3" stroke="#4a4a4a" stroke-width="1.4" stroke-linecap="butt"/>
<line x1="1169.3" y1="912.6" x2="1382.8" y2="912.6" stroke="#4a4a4a" stroke-width="1.4" stroke-linecap="butt"/>
<path d="M1166.5 896.66H1170M1185.97 912.6V916.1M1166.5 887.34H1170M1195.31 912.6V916.1M1166.5 880.72H1170M1201.94 912.6V916.1M1165 875.59H1170M1207.08 912.6V917.6M1166.5 871.4H1170M1211.28 912.6V916.1M1166.5 867.85H1170M1214.83 912.6V916.1M1166.5 864.78H1170M1217.91 912.6V916.1M1166.5 862.07H1170M1220.62 912.6V916.1M1166.5 843.71H1170M1239.02 912.6V916.1M1166.5 834.39H1170M1248.36 912.6V916.1M1166.5 827.77H1170M1254.99 912.6V916.1M1165 822.64H1170M1260.13 912.6V917.6M1166.5 818.45H1170M1264.33 912.6V916.1M1166.5 814.9H1170M1267.88 912.6V916.1M1166.5 811.83H1170M1270.96 912.6V916.1M1166.5 809.12H1170M1273.67 912.6V916.1M1166.5 790.76H1170M1292.07 912.6V916.1M1166.5 781.44H1170M1301.41 912.6V916.1M1166.5 774.82H1170M1308.04 912.6V916.1M1165 769.69H1170M1313.18 912.6V917.6M1166.5 765.5H1170M1317.38 912.6V916.1M1166.5 761.95H1170M1320.93 912.6V916.1M1166.5 758.88H1170M1324.01 912.6V916.1M1166.5 756.17H1170M1326.72 912.6V916.1M1166.5 737.81H1170M1345.12 912.6V916.1M1166.5 728.49H1170M1354.46 912.6V916.1M1166.5 721.87H1170M1361.09 912.6V916.1M1165 716.74H1170M1366.23 912.6V917.6M1166.5 712.55H1170M1370.43 912.6V916.1M1166.5 709H1170M1373.98 912.6V916.1M1166.5 705.93H1170M1377.06 912.6V916.1M1166.5 703.22H1170M1379.77 912.6V916.1" stroke="#666" stroke-width="1.05" fill="none"/>
<path d="M1163.2 912.6H1170M1170 912.6V919.4M1163.2 859.65H1170M1223.05 912.6V919.4M1163.2 806.7H1170M1276.1 912.6V919.4M1163.2 753.75H1170M1329.15 912.6V919.4M1163.2 700.8H1170M1382.2 912.6V919.4" stroke="#3c3c3c" stroke-width="1.6" fill="none"/>
<text x="1157.6" y="918.4" font-size="12.2" text-anchor="end" fill="#2e2e2e">10<tspan font-size="7.8" dy="-6.4">0</tspan></text>
<text x="1162" y="937.2" font-size="12.2" text-anchor="start" fill="#2e2e2e">10<tspan font-size="7.8" dy="-6.4">0</tspan></text>
<text x="1157.6" y="865.45" font-size="12.2" text-anchor="end" fill="#2e2e2e">10<tspan font-size="7.8" dy="-6.4">1</tspan></text>
<text x="1215.05" y="937.2" font-size="12.2" text-anchor="start" fill="#2e2e2e">10<tspan font-size="7.8" dy="-6.4">1</tspan></text>
<text x="1157.6" y="812.5" font-size="12.2" text-anchor="end" fill="#2e2e2e">10<tspan font-size="7.8" dy="-6.4">2</tspan></text>
<text x="1268.1" y="937.2" font-size="12.2" text-anchor="start" fill="#2e2e2e">10<tspan font-size="7.8" dy="-6.4">2</tspan></text>
<text x="1157.6" y="759.55" font-size="12.2" text-anchor="end" fill="#2e2e2e">10<tspan font-size="7.8" dy="-6.4">3</tspan></text>
<text x="1321.15" y="937.2" font-size="12.2" text-anchor="start" fill="#2e2e2e">10<tspan font-size="7.8" dy="-6.4">3</tspan></text>
<text x="1157.6" y="706.6" font-size="12.2" text-anchor="end" fill="#2e2e2e">10<tspan font-size="7.8" dy="-6.4">4</tspan></text>
<text x="1374.2" y="937.2" font-size="12.2" text-anchor="start" fill="#2e2e2e">10<tspan font-size="7.8" dy="-6.4">4</tspan></text>
<path d="M1286.54 795.21h3.2v3.2h-3.2zM1319.42 795.21h3.2v3.2h-3.2z" fill="#3d3d3d"/>
<polyline points="1170,756.2 1277.2,742.2" fill="none" stroke="#555" stroke-width="1.6" stroke-linejoin="round"/>
<polyline points="1277.2,742.2 1300.9,701.8 1367.3,702.6 1379.2,760.2 1360.8,793.8" fill="none" stroke="#5a5a5a" stroke-width="1.6" stroke-linejoin="round"/>
<polyline points="1360.8,793.8 1352.1,912.6" fill="none" stroke="#5a5a5a" stroke-width="1.6" stroke-linejoin="round"/>
<polyline points="1360.8,793.8 1277.2,742.2" fill="none" stroke="#454545" stroke-width="2.1" stroke-linejoin="round"/>
<line x1="1279.1" y1="738.97" x2="1293.32" y2="714.73" stroke="#383838" stroke-width="2.7" stroke-linecap="butt"/>
<text x="1332.2" y="751.5" font-size="30.2" text-anchor="middle" fill="#231f20">0</text>
<text x="1183.7" y="893.4" font-size="30.2" text-anchor="start" fill="#231f20">100</text>
<line x1="899" y1="970.3" x2="1111.4" y2="970.3" stroke="#707070" stroke-width="1.1" stroke-linecap="butt"/>
<line x1="1111.4" y1="970.3" x2="1111.4" y2="1182.7" stroke="#5a5a5a" stroke-width="1.4" stroke-linecap="butt"/>
<line x1="899" y1="969.7" x2="899" y2="1183.4" stroke="#4a4a4a" stroke-width="1.4" stroke-linecap="butt"/>
<line x1="898.3" y1="1182.7" x2="1112" y2="1182.7" stroke="#4a4a4a" stroke-width="1.4" stroke-linecap="butt"/>
<path d="M895.5 1166.72H899M914.98 1182.7V1186.2M895.5 1157.36H899M924.34 1182.7V1186.2M895.5 1150.73H899M930.97 1182.7V1186.2M894 1145.58H899M936.12 1182.7V1187.7M895.5 1141.38H899M940.32 1182.7V1186.2M895.5 1137.83H899M943.87 1182.7V1186.2M895.5 1134.75H899M946.95 1182.7V1186.2M895.5 1132.03H899M949.67 1182.7V1186.2M895.5 1113.62H899M968.08 1182.7V1186.2M895.5 1104.26H899M977.44 1182.7V1186.2M895.5 1097.63H899M984.07 1182.7V1186.2M894 1092.48H899M989.22 1182.7V1187.7M895.5 1088.28H899M993.42 1182.7V1186.2M895.5 1084.73H899M996.97 1182.7V1186.2M895.5 1081.65H899M1000.05 1182.7V1186.2M895.5 1078.93H899M1002.77 1182.7V1186.2M895.5 1060.52H899M1021.18 1182.7V1186.2M895.5 1051.16H899M1030.54 1182.7V1186.2M895.5 1044.53H899M1037.17 1182.7V1186.2M894 1039.38H899M1042.32 1182.7V1187.7M895.5 1035.18H899M1046.52 1182.7V1186.2M895.5 1031.63H899M1050.07 1182.7V1186.2M895.5 1028.55H899M1053.15 1182.7V1186.2M895.5 1025.83H899M1055.87 1182.7V1186.2M895.5 1007.42H899M1074.28 1182.7V1186.2M895.5 998.06H899M1083.64 1182.7V1186.2M895.5 991.43H899M1090.27 1182.7V1186.2M894 986.28H899M1095.42 1182.7V1187.7M895.5 982.08H899M1099.62 1182.7V1186.2M895.5 978.53H899M1103.17 1182.7V1186.2M895.5 975.45H899M1106.25 1182.7V1186.2M895.5 972.73H899M1108.97 1182.7V1186.2" stroke="#666" stroke-width="1.05" fill="none"/>
<path d="M892.2 1182.7H899M899 1182.7V1189.5M892.2 1129.6H899M952.1 1182.7V1189.5M892.2 1076.5H899M1005.2 1182.7V1189.5M892.2 1023.4H899M1058.3 1182.7V1189.5M892.2 970.3H899M1111.4 1182.7V1189.5" stroke="#3c3c3c" stroke-width="1.6" fill="none"/>
<text x="888.2" y="1188.5" font-size="12.2" text-anchor="end" fill="#2e2e2e">10<tspan font-size="7.8" dy="-6.4">0</tspan></text>
<text x="891" y="1207.3" font-size="12.2" text-anchor="start" fill="#2e2e2e">10<tspan font-size="7.8" dy="-6.4">0</tspan></text>
<text x="888.2" y="1135.4" font-size="12.2" text-anchor="end" fill="#2e2e2e">10<tspan font-size="7.8" dy="-6.4">1</tspan></text>
<text x="944.1" y="1207.3" font-size="12.2" text-anchor="start" fill="#2e2e2e">10<tspan font-size="7.8" dy="-6.4">1</tspan></text>
<text x="888.2" y="1082.3" font-size="12.2" text-anchor="end" fill="#2e2e2e">10<tspan font-size="7.8" dy="-6.4">2</tspan></text>
<text x="997.2" y="1207.3" font-size="12.2" text-anchor="start" fill="#2e2e2e">10<tspan font-size="7.8" dy="-6.4">2</tspan></text>
<text x="888.2" y="1029.2" font-size="12.2" text-anchor="end" fill="#2e2e2e">10<tspan font-size="7.8" dy="-6.4">3</tspan></text>
<text x="1050.3" y="1207.3" font-size="12.2" text-anchor="start" fill="#2e2e2e">10<tspan font-size="7.8" dy="-6.4">3</tspan></text>
<text x="888.2" y="976.1" font-size="12.2" text-anchor="end" fill="#2e2e2e">10<tspan font-size="7.8" dy="-6.4">4</tspan></text>
<text x="1103.4" y="1207.3" font-size="12.2" text-anchor="start" fill="#2e2e2e">10<tspan font-size="7.8" dy="-6.4">4</tspan></text>
<path d="M909.84 1096.12h3.2v3.2h-3.2zM940.78 1054.44h3.2v3.2h-3.2zM980.7 1065.95h3.2v3.2h-3.2zM1014.2 1052.24h3.2v3.2h-3.2zM986.33 1074h3.2v3.2h-3.2zM985.48 1052.73h3.2v3.2h-3.2zM958.65 1055.31h3.2v3.2h-3.2zM959.72 1093.03h3.2v3.2h-3.2zM969.83 1074.81h3.2v3.2h-3.2zM954.76 1080.77h3.2v3.2h-3.2zM1010.75 1055.17h3.2v3.2h-3.2zM994.91 1067.51h3.2v3.2h-3.2zM995.15 1078.34h3.2v3.2h-3.2zM923.21 1092.75h3.2v3.2h-3.2zM972.93 1058.69h3.2v3.2h-3.2zM940.66 1097.17h3.2v3.2h-3.2zM957.26 1068.47h3.2v3.2h-3.2zM946.28 1083.41h3.2v3.2h-3.2zM984.63 1064.46h3.2v3.2h-3.2zM933.69 1062.79h3.2v3.2h-3.2zM961.3 1081.86h3.2v3.2h-3.2zM962.84 1086.54h3.2v3.2h-3.2zM949.23 1071.71h3.2v3.2h-3.2zM975.52 1044.12h3.2v3.2h-3.2zM944.2 1109.59h3.2v3.2h-3.2zM949.97 1082.99h3.2v3.2h-3.2zM928.8 1091.8h3.2v3.2h-3.2zM980.54 1074.3h3.2v3.2h-3.2zM970.22 1062.82h3.2v3.2h-3.2zM938.96 1056.8h3.2v3.2h-3.2zM1034.98 1073.18h3.2v3.2h-3.2zM978.01 1070.71h3.2v3.2h-3.2zM951.61 1063.98h3.2v3.2h-3.2zM994.09 1071.55h3.2v3.2h-3.2zM979.05 1051.32h3.2v3.2h-3.2zM993.48 1045.47h3.2v3.2h-3.2zM915.85 1092.5h3.2v3.2h-3.2zM989.96 1063.49h3.2v3.2h-3.2zM963.9 1088.86h3.2v3.2h-3.2zM979 1090.69h3.2v3.2h-3.2zM974.49 1084.87h3.2v3.2h-3.2zM961.71 1075.11h3.2v3.2h-3.2zM985.85 1066.1h3.2v3.2h-3.2zM989.52 1073.95h3.2v3.2h-3.2zM937.71 1075.17h3.2v3.2h-3.2zM966.26 1083.69h3.2v3.2h-3.2zM976.14 1042.72h3.2v3.2h-3.2zM986.54 1094.16h3.2v3.2h-3.2zM952.77 1074.38h3.2v3.2h-3.2zM909.35 1078.68h3.2v3.2h-3.2zM938.37 1088.06h3.2v3.2h-3.2zM989.36 1053.65h3.2v3.2h-3.2zM996.73 1072.16h3.2v3.2h-3.2zM947.63 1082.78h3.2v3.2h-3.2zM950.41 1061.34h3.2v3.2h-3.2zM964.97 1092.07h3.2v3.2h-3.2zM949.01 1072.01h3.2v3.2h-3.2zM1019.43 1043.53h3.2v3.2h-3.2zM998.37 1100.69h3.2v3.2h-3.2zM974.23 1068.73h3.2v3.2h-3.2zM994.42 1073.88h3.2v3.2h-3.2zM1011.28 1084.24h3.2v3.2h-3.2zM963.67 1073.1h3.2v3.2h-3.2zM997.7 1055.17h3.2v3.2h-3.2zM1010.91 1054.31h3.2v3.2h-3.2zM943.9 1068.61h3.2v3.2h-3.2zM986.72 1051.05h3.2v3.2h-3.2zM969.55 1048.2h3.2v3.2h-3.2zM1006.89 1061h3.2v3.2h-3.2zM1004.61 1061.44h3.2v3.2h-3.2zM979.79 1085.51h3.2v3.2h-3.2zM976.04 1055.97h3.2v3.2h-3.2zM1020.03 1087.43h3.2v3.2h-3.2zM971.06 1069.26h3.2v3.2h-3.2zM988.34 1051.28h3.2v3.2h-3.2zM984.46 1047.55h3.2v3.2h-3.2zM930.73 1088.78h3.2v3.2h-3.2zM956.44 1107.23h3.2v3.2h-3.2zM1008.23 1056.34h3.2v3.2h-3.2zM948.5 1068.67h3.2v3.2h-3.2zM988.04 1072.74h3.2v3.2h-3.2zM961.93 1068.55h3.2v3.2h-3.2zM968.6 1083.6h3.2v3.2h-3.2zM939.55 1092.85h3.2v3.2h-3.2zM1033.2 1060.27h3.2v3.2h-3.2zM950.25 1082.57h3.2v3.2h-3.2zM1003.52 1059.81h3.2v3.2h-3.2zM941.67 1106.01h3.2v3.2h-3.2zM969.57 1073.98h3.2v3.2h-3.2zM988.01 1083.61h3.2v3.2h-3.2zM979.36 1073.95h3.2v3.2h-3.2zM1037.06 1039.77h3.2v3.2h-3.2zM952.85 1082.63h3.2v3.2h-3.2zM965.39 1073.11h3.2v3.2h-3.2zM960 1084.73h3.2v3.2h-3.2zM925.92 1091.28h3.2v3.2h-3.2zM991.54 1096.88h3.2v3.2h-3.2zM993.29 1077.34h3.2v3.2h-3.2zM968.43 1067.93h3.2v3.2h-3.2zM952.1 1094.25h3.2v3.2h-3.2zM988.98 1094.81h3.2v3.2h-3.2zM943.14 1087.64h3.2v3.2h-3.2zM979.68 1053.75h3.2v3.2h-3.2zM940 1072.53h3.2v3.2h-3.2zM924.72 1099.26h3.2v3.2h-3.2zM954.22 1079.47h3.2v3.2h-3.2zM963.37 1066.31h3.2v3.2h-3.2zM1006.31 1061.07h3.2v3.2h-3.2zM994 1061.52h3.2v3.2h-3.2zM1002 1089.44h3.2v3.2h-3.2zM953.12 1054.3h3.2v3.2h-3.2zM952.98 1071.04h3.2v3.2h-3.2zM996.38 1065.87h3.2v3.2h-3.2zM1002.93 1055.36h3.2v3.2h-3.2zM997.2 1050.69h3.2v3.2h-3.2zM968.12 1080.69h3.2v3.2h-3.2zM954.73 1064.61h3.2v3.2h-3.2zM969.51 1078.86h3.2v3.2h-3.2z" fill="#3d3d3d"/>
<polyline points="899,1026.5 1006.2,1012.5" fill="none" stroke="#555" stroke-width="1.6" stroke-linejoin="round"/>
<polyline points="1006.2,1012.5 1029.9,972.1 1096.3,972.9 1108.2,1030.5 1089.8,1064.1" fill="none" stroke="#5a5a5a" stroke-width="1.6" stroke-linejoin="round"/>
<polyline points="1089.8,1064.1 1081.1,1182.7" fill="none" stroke="#5a5a5a" stroke-width="1.6" stroke-linejoin="round"/>
<polyline points="1089.8,1064.1 1006.2,1012.5" fill="none" stroke="#454545" stroke-width="2.1" stroke-linejoin="round"/>
<line x1="1008.1" y1="1009.27" x2="1022.32" y2="985.03" stroke="#383838" stroke-width="2.7" stroke-linecap="butt"/>
<text x="1063.4" y="1019.3" font-size="30.2" text-anchor="middle" fill="#231f20">0</text>
<text x="913.9" y="1165.8" font-size="30.2" text-anchor="start" fill="#231f20">100</text>
<line x1="1170" y1="970.3" x2="1381.6" y2="970.3" stroke="#707070" stroke-width="1.1" stroke-linecap="butt"/>
<line x1="1170" y1="969.7" x2="1170" y2="1183.4" stroke="#4a4a4a" stroke-width="1.4" stroke-linecap="butt"/>
<line x1="1169.3" y1="1182.7" x2="1382.2" y2="1182.7" stroke="#4a4a4a" stroke-width="1.4" stroke-linecap="butt"/>
<path d="M1166.5 1166.72H1170M1185.92 1182.7V1186.2M1166.5 1157.36H1170M1195.24 1182.7V1186.2M1166.5 1150.73H1170M1201.85 1182.7V1186.2M1165 1145.58H1170M1206.98 1182.7V1187.7M1166.5 1141.38H1170M1211.16 1182.7V1186.2M1166.5 1137.83H1170M1214.71 1182.7V1186.2M1166.5 1134.75H1170M1217.77 1182.7V1186.2M1166.5 1132.03H1170M1220.48 1182.7V1186.2M1166.5 1113.62H1170M1238.82 1182.7V1186.2M1166.5 1104.26H1170M1248.14 1182.7V1186.2M1166.5 1097.63H1170M1254.75 1182.7V1186.2M1165 1092.48H1170M1259.88 1182.7V1187.7M1166.5 1088.28H1170M1264.06 1182.7V1186.2M1166.5 1084.73H1170M1267.61 1182.7V1186.2M1166.5 1081.65H1170M1270.67 1182.7V1186.2M1166.5 1078.93H1170M1273.38 1182.7V1186.2M1166.5 1060.52H1170M1291.72 1182.7V1186.2M1166.5 1051.16H1170M1301.04 1182.7V1186.2M1166.5 1044.53H1170M1307.65 1182.7V1186.2M1165 1039.38H1170M1312.78 1182.7V1187.7M1166.5 1035.18H1170M1316.96 1182.7V1186.2M1166.5 1031.63H1170M1320.51 1182.7V1186.2M1166.5 1028.55H1170M1323.57 1182.7V1186.2M1166.5 1025.83H1170M1326.28 1182.7V1186.2M1166.5 1007.42H1170M1344.62 1182.7V1186.2M1166.5 998.06H1170M1353.94 1182.7V1186.2M1166.5 991.43H1170M1360.55 1182.7V1186.2M1165 986.28H1170M1365.68 1182.7V1187.7M1166.5 982.08H1170M1369.86 1182.7V1186.2M1166.5 978.53H1170M1373.41 1182.7V1186.2M1166.5 975.45H1170M1376.47 1182.7V1186.2M1166.5 972.73H1170M1379.18 1182.7V1186.2" stroke="#666" stroke-width="1.05" fill="none"/>
<path d="M1163.2 1182.7H1170M1170 1182.7V1189.5M1163.2 1129.6H1170M1222.9 1182.7V1189.5M1163.2 1076.5H1170M1275.8 1182.7V1189.5M1163.2 1023.4H1170M1328.7 1182.7V1189.5M1163.2 970.3H1170M1381.6 1182.7V1189.5" stroke="#3c3c3c" stroke-width="1.6" fill="none"/>
<text x="1157.6" y="1188.5" font-size="12.2" text-anchor="end" fill="#2e2e2e">10<tspan font-size="7.8" dy="-6.4">0</tspan></text>
<text x="1162" y="1207.3" font-size="12.2" text-anchor="start" fill="#2e2e2e">10<tspan font-size="7.8" dy="-6.4">0</tspan></text>
<text x="1157.6" y="1135.4" font-size="12.2" text-anchor="end" fill="#2e2e2e">10<tspan font-size="7.8" dy="-6.4">1</tspan></text>
<text x="1214.9" y="1207.3" font-size="12.2" text-anchor="start" fill="#2e2e2e">10<tspan font-size="7.8" dy="-6.4">1</tspan></text>
<text x="1157.6" y="1082.3" font-size="12.2" text-anchor="end" fill="#2e2e2e">10<tspan font-size="7.8" dy="-6.4">2</tspan></text>
<text x="1267.8" y="1207.3" font-size="12.2" text-anchor="start" fill="#2e2e2e">10<tspan font-size="7.8" dy="-6.4">2</tspan></text>
<text x="1157.6" y="1029.2" font-size="12.2" text-anchor="end" fill="#2e2e2e">10<tspan font-size="7.8" dy="-6.4">3</tspan></text>
<text x="1320.7" y="1207.3" font-size="12.2" text-anchor="start" fill="#2e2e2e">10<tspan font-size="7.8" dy="-6.4">3</tspan></text>
<text x="1157.6" y="976.1" font-size="12.2" text-anchor="end" fill="#2e2e2e">10<tspan font-size="7.8" dy="-6.4">4</tspan></text>
<text x="1373.6" y="1207.3" font-size="12.2" text-anchor="start" fill="#2e2e2e">10<tspan font-size="7.8" dy="-6.4">4</tspan></text>
<path d="M1256.26 1084.31h3.2v3.2h-3.2zM1282.27 1048.19h3.2v3.2h-3.2zM1283.13 1073.33h3.2v3.2h-3.2zM1293.25 1073.33h3.2v3.2h-3.2zM1325.03 1087.49h3.2v3.2h-3.2zM1333.41 1059.17h3.2v3.2h-3.2z" fill="#3d3d3d"/>
<polyline points="1170,1026.5 1277.2,1012.5" fill="none" stroke="#555" stroke-width="1.6" stroke-linejoin="round"/>
<polyline points="1277.2,1012.5 1300.9,972.1 1367.3,972.9 1379.2,1030.5 1360.8,1064.1" fill="none" stroke="#5a5a5a" stroke-width="1.6" stroke-linejoin="round"/>
<polyline points="1360.8,1064.1 1352.1,1182.7" fill="none" stroke="#5a5a5a" stroke-width="1.6" stroke-linejoin="round"/>
<polyline points="1360.8,1064.1 1277.2,1012.5" fill="none" stroke="#454545" stroke-width="2.1" stroke-linejoin="round"/>
<line x1="1279.1" y1="1009.27" x2="1293.32" y2="985.03" stroke="#383838" stroke-width="2.7" stroke-linecap="butt"/>
<text x="1330.5" y="1021.6" font-size="30.2" text-anchor="middle" fill="#231f20">0</text>
<text x="1181.5" y="1163" font-size="30.2" text-anchor="start" fill="#231f20">100</text>
<text x="1007.4" y="685" font-size="30.2" text-anchor="middle" fill="#231f20">CD44<tspan font-size="19.86" dy="-12.8">low</tspan></text>
<text x="1273.7" y="685" font-size="30.2" text-anchor="middle" fill="#231f20">CD44<tspan font-size="19.86" dy="-14.8">high</tspan></text>
<line x1="1601.3" y1="700.9" x2="1812" y2="700.9" stroke="#7c7c7c" stroke-width="1.1" stroke-linecap="butt"/>
<line x1="1812" y1="700.9" x2="1812" y2="910.9" stroke="#7c7c7c" stroke-width="1.1" stroke-linecap="butt"/>
<line x1="1601.3" y1="700.3" x2="1601.3" y2="911.6" stroke="#4a4a4a" stroke-width="1.4" stroke-linecap="butt"/>
<line x1="1600.6" y1="910.9" x2="1812.6" y2="910.9" stroke="#4a4a4a" stroke-width="1.4" stroke-linecap="butt"/>
<path d="M1597.8 895.1H1601.3M1617.16 910.9V914.4M1597.8 885.85H1601.3M1626.43 910.9V914.4M1597.8 879.29H1601.3M1633.01 910.9V914.4M1596.3 874.2H1601.3M1638.12 910.9V915.9M1597.8 870.05H1601.3M1642.29 910.9V914.4M1597.8 866.53H1601.3M1645.82 910.9V914.4M1597.8 863.49H1601.3M1648.87 910.9V914.4M1597.8 860.8H1601.3M1651.56 910.9V914.4M1597.8 842.6H1601.3M1669.83 910.9V914.4M1597.8 833.35H1601.3M1679.11 910.9V914.4M1597.8 826.79H1601.3M1685.69 910.9V914.4M1596.3 821.7H1601.3M1690.79 910.9V915.9M1597.8 817.55H1601.3M1694.96 910.9V914.4M1597.8 814.03H1601.3M1698.49 910.9V914.4M1597.8 810.99H1601.3M1701.55 910.9V914.4M1597.8 808.3H1601.3M1704.24 910.9V914.4M1597.8 790.1H1601.3M1722.51 910.9V914.4M1597.8 780.85H1601.3M1731.78 910.9V914.4M1597.8 774.29H1601.3M1738.36 910.9V914.4M1596.3 769.2H1601.3M1743.47 910.9V915.9M1597.8 765.05H1601.3M1747.64 910.9V914.4M1597.8 761.53H1601.3M1751.17 910.9V914.4M1597.8 758.49H1601.3M1754.22 910.9V914.4M1597.8 755.8H1601.3M1756.91 910.9V914.4M1597.8 737.6H1601.3M1775.18 910.9V914.4M1597.8 728.35H1601.3M1784.46 910.9V914.4M1597.8 721.79H1601.3M1791.04 910.9V914.4M1596.3 716.7H1601.3M1796.14 910.9V915.9M1597.8 712.55H1601.3M1800.31 910.9V914.4M1597.8 709.03H1601.3M1803.84 910.9V914.4M1597.8 705.99H1601.3M1806.9 910.9V914.4M1597.8 703.3H1601.3M1809.59 910.9V914.4" stroke="#666" stroke-width="1.05" fill="none"/>
<path d="M1594.5 910.9H1601.3M1601.3 910.9V917.7M1594.5 858.4H1601.3M1653.97 910.9V917.7M1594.5 805.9H1601.3M1706.65 910.9V917.7M1594.5 753.4H1601.3M1759.33 910.9V917.7M1594.5 700.9H1601.3M1812 910.9V917.7" stroke="#3c3c3c" stroke-width="1.6" fill="none"/>
<text x="1590.5" y="916.7" font-size="12.2" text-anchor="end" fill="#2e2e2e">10<tspan font-size="7.8" dy="-6.4">0</tspan></text>
<text x="1593.3" y="936.5" font-size="12.2" text-anchor="start" fill="#2e2e2e">10<tspan font-size="7.8" dy="-6.4">0</tspan></text>
<text x="1590.5" y="864.2" font-size="12.2" text-anchor="end" fill="#2e2e2e">10<tspan font-size="7.8" dy="-6.4">1</tspan></text>
<text x="1645.97" y="936.5" font-size="12.2" text-anchor="start" fill="#2e2e2e">10<tspan font-size="7.8" dy="-6.4">1</tspan></text>
<text x="1590.5" y="811.7" font-size="12.2" text-anchor="end" fill="#2e2e2e">10<tspan font-size="7.8" dy="-6.4">2</tspan></text>
<text x="1698.65" y="936.5" font-size="12.2" text-anchor="start" fill="#2e2e2e">10<tspan font-size="7.8" dy="-6.4">2</tspan></text>
<text x="1590.5" y="759.2" font-size="12.2" text-anchor="end" fill="#2e2e2e">10<tspan font-size="7.8" dy="-6.4">3</tspan></text>
<text x="1751.33" y="936.5" font-size="12.2" text-anchor="start" fill="#2e2e2e">10<tspan font-size="7.8" dy="-6.4">3</tspan></text>
<text x="1590.5" y="706.7" font-size="12.2" text-anchor="end" fill="#2e2e2e">10<tspan font-size="7.8" dy="-6.4">4</tspan></text>
<text x="1804" y="936.5" font-size="12.2" text-anchor="start" fill="#2e2e2e">10<tspan font-size="7.8" dy="-6.4">4</tspan></text>
<line x1="1601.3" y1="700.9" x2="1812" y2="700.9" stroke="#c4c4c4" stroke-width="1.2" stroke-linecap="butt"/>
<line x1="1812" y1="700.9" x2="1812" y2="910.9" stroke="#c4c4c4" stroke-width="1.2" stroke-linecap="butt"/>
<path d="M1721.69 810.35h3.2v3.2h-3.2zM1728.99 790.76h3.2v3.2h-3.2zM1717.92 768.35h3.2v3.2h-3.2zM1732.63 788.48h3.2v3.2h-3.2zM1737.12 778.69h3.2v3.2h-3.2zM1725.54 766.45h3.2v3.2h-3.2zM1725.96 801.27h3.2v3.2h-3.2zM1727.41 764.4h3.2v3.2h-3.2zM1716.2 782.41h3.2v3.2h-3.2zM1736.88 793.66h3.2v3.2h-3.2zM1730.99 768.52h3.2v3.2h-3.2zM1723.96 790.98h3.2v3.2h-3.2zM1728.77 792.25h3.2v3.2h-3.2zM1740.32 784.19h3.2v3.2h-3.2zM1727.83 784.31h3.2v3.2h-3.2zM1728.22 776.04h3.2v3.2h-3.2zM1728.53 789.55h3.2v3.2h-3.2zM1721.07 776.21h3.2v3.2h-3.2zM1734.02 774.68h3.2v3.2h-3.2zM1730.08 767.28h3.2v3.2h-3.2zM1724.21 786.23h3.2v3.2h-3.2zM1722.2 782.14h3.2v3.2h-3.2zM1722.03 792.02h3.2v3.2h-3.2zM1710.5 776.56h3.2v3.2h-3.2zM1719.28 781.17h3.2v3.2h-3.2zM1719.6 785.5h3.2v3.2h-3.2zM1730.63 790.14h3.2v3.2h-3.2zM1726.29 784.9h3.2v3.2h-3.2zM1723.02 785.9h3.2v3.2h-3.2zM1724.92 779.4h3.2v3.2h-3.2zM1742.13 795.94h3.2v3.2h-3.2zM1737.19 779.99h3.2v3.2h-3.2zM1734.97 777.49h3.2v3.2h-3.2zM1720.9 776.6h3.2v3.2h-3.2zM1717.93 785.95h3.2v3.2h-3.2zM1728.91 788.58h3.2v3.2h-3.2zM1744.43 778.47h3.2v3.2h-3.2zM1731.45 783.57h3.2v3.2h-3.2zM1722.49 787.38h3.2v3.2h-3.2zM1740.57 800.1h3.2v3.2h-3.2zM1735.22 779.47h3.2v3.2h-3.2zM1729.84 775.67h3.2v3.2h-3.2zM1726.1 770.04h3.2v3.2h-3.2zM1730.93 781.3h3.2v3.2h-3.2zM1719.49 782.66h3.2v3.2h-3.2zM1746.63 801.84h3.2v3.2h-3.2zM1718.67 784.6h3.2v3.2h-3.2zM1731.72 773.95h3.2v3.2h-3.2zM1731.37 796.43h3.2v3.2h-3.2zM1734.99 769.93h3.2v3.2h-3.2zM1728.79 770.24h3.2v3.2h-3.2zM1743.47 781.87h3.2v3.2h-3.2zM1731.66 774.77h3.2v3.2h-3.2zM1736.15 770.52h3.2v3.2h-3.2zM1727.82 771.95h3.2v3.2h-3.2zM1731.8 766.78h3.2v3.2h-3.2zM1710.85 789.57h3.2v3.2h-3.2zM1722.93 777.89h3.2v3.2h-3.2zM1732.41 771.02h3.2v3.2h-3.2zM1721.35 762.07h3.2v3.2h-3.2zM1721.48 768.54h3.2v3.2h-3.2zM1727.2 803.32h3.2v3.2h-3.2zM1731.64 773.84h3.2v3.2h-3.2zM1735.68 799.32h3.2v3.2h-3.2zM1728.44 783.02h3.2v3.2h-3.2zM1729.71 791.2h3.2v3.2h-3.2zM1727.27 785.63h3.2v3.2h-3.2zM1716.71 761.66h3.2v3.2h-3.2zM1718.17 779.4h3.2v3.2h-3.2zM1731.21 806.99h3.2v3.2h-3.2zM1715.73 789.64h3.2v3.2h-3.2zM1732.43 789.46h3.2v3.2h-3.2zM1720.95 771.64h3.2v3.2h-3.2zM1734.32 779.65h3.2v3.2h-3.2zM1729.6 775.64h3.2v3.2h-3.2zM1736.83 780.07h3.2v3.2h-3.2zM1726.51 783.92h3.2v3.2h-3.2zM1711.02 793.29h3.2v3.2h-3.2zM1722.32 796.2h3.2v3.2h-3.2zM1731.43 779.31h3.2v3.2h-3.2zM1724.75 767.89h3.2v3.2h-3.2zM1724.99 763.69h3.2v3.2h-3.2zM1736.78 804.23h3.2v3.2h-3.2zM1740.13 773.21h3.2v3.2h-3.2zM1718.25 773.54h3.2v3.2h-3.2zM1721.42 781.12h3.2v3.2h-3.2zM1737.78 798.03h3.2v3.2h-3.2zM1733.26 767.87h3.2v3.2h-3.2zM1712.45 801.62h3.2v3.2h-3.2zM1732.07 780.89h3.2v3.2h-3.2zM1737.61 795.32h3.2v3.2h-3.2zM1722.45 799.24h3.2v3.2h-3.2zM1728.67 766.14h3.2v3.2h-3.2zM1717.27 795.44h3.2v3.2h-3.2zM1731.59 783.63h3.2v3.2h-3.2zM1724.73 775.31h3.2v3.2h-3.2zM1730.13 779.19h3.2v3.2h-3.2zM1735.79 785.02h3.2v3.2h-3.2zM1730.04 783.49h3.2v3.2h-3.2zM1736.02 777.65h3.2v3.2h-3.2zM1735.05 773.31h3.2v3.2h-3.2zM1731.93 775.09h3.2v3.2h-3.2zM1713.97 784.69h3.2v3.2h-3.2zM1732.31 770.91h3.2v3.2h-3.2zM1726.37 787.55h3.2v3.2h-3.2zM1705.4 785.72h3.2v3.2h-3.2zM1732.15 792.65h3.2v3.2h-3.2zM1730.52 801.09h3.2v3.2h-3.2zM1731.12 781.55h3.2v3.2h-3.2zM1719.09 791.38h3.2v3.2h-3.2zM1732.77 797.81h3.2v3.2h-3.2zM1724.59 822.21h3.2v3.2h-3.2zM1732.91 782.36h3.2v3.2h-3.2zM1721.83 791.09h3.2v3.2h-3.2zM1739.1 775.41h3.2v3.2h-3.2zM1733.91 775.66h3.2v3.2h-3.2zM1711.91 771.94h3.2v3.2h-3.2zM1714.8 765.94h3.2v3.2h-3.2zM1726.47 793.35h3.2v3.2h-3.2zM1732.38 786.08h3.2v3.2h-3.2zM1735.23 774.84h3.2v3.2h-3.2zM1722.46 780.05h3.2v3.2h-3.2zM1733.29 799.54h3.2v3.2h-3.2zM1735.53 781.12h3.2v3.2h-3.2zM1721.68 769.99h3.2v3.2h-3.2zM1733.28 804.67h3.2v3.2h-3.2zM1722.92 780.11h3.2v3.2h-3.2zM1724.56 793.11h3.2v3.2h-3.2zM1731.96 784.41h3.2v3.2h-3.2zM1722.16 775.12h3.2v3.2h-3.2zM1732.06 776.78h3.2v3.2h-3.2zM1704.15 778.31h3.2v3.2h-3.2zM1724.36 784.25h3.2v3.2h-3.2zM1737.85 774.96h3.2v3.2h-3.2zM1737.12 786.96h3.2v3.2h-3.2zM1729.08 782.26h3.2v3.2h-3.2zM1726.98 768.52h3.2v3.2h-3.2zM1732.93 779.03h3.2v3.2h-3.2zM1734.46 796.29h3.2v3.2h-3.2zM1719.23 762.1h3.2v3.2h-3.2zM1728.99 782.67h3.2v3.2h-3.2zM1747.36 778.73h3.2v3.2h-3.2zM1742.19 789.02h3.2v3.2h-3.2zM1722.95 792.27h3.2v3.2h-3.2zM1719.08 773.74h3.2v3.2h-3.2zM1733.66 781.78h3.2v3.2h-3.2zM1744.85 790.7h3.2v3.2h-3.2zM1725.32 789.77h3.2v3.2h-3.2zM1726.29 796.29h3.2v3.2h-3.2zM1726.7 785.14h3.2v3.2h-3.2zM1733.06 785.57h3.2v3.2h-3.2zM1742.38 785.5h3.2v3.2h-3.2zM1729.01 778.57h3.2v3.2h-3.2zM1735.45 790.73h3.2v3.2h-3.2zM1726.62 804.06h3.2v3.2h-3.2zM1711.8 794.11h3.2v3.2h-3.2zM1725.75 781.07h3.2v3.2h-3.2zM1711.83 795.56h3.2v3.2h-3.2zM1734.48 776.53h3.2v3.2h-3.2zM1741.86 786.26h3.2v3.2h-3.2zM1744.03 800.94h3.2v3.2h-3.2zM1727.2 774.8h3.2v3.2h-3.2zM1728.82 779.86h3.2v3.2h-3.2zM1728.99 769.63h3.2v3.2h-3.2zM1735.02 774.47h3.2v3.2h-3.2zM1723.9 774.12h3.2v3.2h-3.2zM1724.93 782.3h3.2v3.2h-3.2zM1738.27 807.07h3.2v3.2h-3.2zM1739.15 772.65h3.2v3.2h-3.2zM1743.8 787.02h3.2v3.2h-3.2zM1745.3 834.1h3.2v3.2h-3.2zM1669.81 840.44h3.2v3.2h-3.2zM1682.59 789.55h3.2v3.2h-3.2zM1720.12 813.57h3.2v3.2h-3.2zM1712.58 798.61h3.2v3.2h-3.2zM1723.85 847.8h3.2v3.2h-3.2zM1712.89 810.57h3.2v3.2h-3.2zM1725.15 808.14h3.2v3.2h-3.2zM1729.71 773.23h3.2v3.2h-3.2zM1721.59 818.23h3.2v3.2h-3.2zM1693.68 798.93h3.2v3.2h-3.2zM1711.63 781.53h3.2v3.2h-3.2zM1729.32 775.62h3.2v3.2h-3.2zM1692.26 792.98h3.2v3.2h-3.2zM1687.05 829.96h3.2v3.2h-3.2zM1737.3 811.99h3.2v3.2h-3.2zM1691.19 790.09h3.2v3.2h-3.2zM1731.9 809.71h3.2v3.2h-3.2zM1713.88 832.72h3.2v3.2h-3.2zM1686.54 795.05h3.2v3.2h-3.2zM1735.96 794.64h3.2v3.2h-3.2zM1713.34 801.2h3.2v3.2h-3.2zM1690.71 808.87h3.2v3.2h-3.2zM1697.13 802h3.2v3.2h-3.2zM1704.33 776.95h3.2v3.2h-3.2zM1702.89 791.26h3.2v3.2h-3.2zM1710.44 774.61h3.2v3.2h-3.2zM1705.91 834.56h3.2v3.2h-3.2zM1699.93 778.65h3.2v3.2h-3.2zM1694.6 810.73h3.2v3.2h-3.2zM1726.52 817.72h3.2v3.2h-3.2zM1723.72 825.15h3.2v3.2h-3.2zM1694.25 777.12h3.2v3.2h-3.2zM1725.39 806.49h3.2v3.2h-3.2zM1706.71 801.82h3.2v3.2h-3.2zM1705.87 759.61h3.2v3.2h-3.2zM1695.41 781.22h3.2v3.2h-3.2zM1716.08 821.28h3.2v3.2h-3.2zM1702.98 820.66h3.2v3.2h-3.2zM1718.08 777.42h3.2v3.2h-3.2zM1675.88 780.22h3.2v3.2h-3.2zM1683.52 824.77h3.2v3.2h-3.2zM1713.69 844.33h3.2v3.2h-3.2zM1714.93 803.5h3.2v3.2h-3.2zM1687.84 794.79h3.2v3.2h-3.2zM1721.84 833.59h3.2v3.2h-3.2zM1697.16 842.88h3.2v3.2h-3.2zM1698.53 758.34h3.2v3.2h-3.2zM1709.98 806.93h3.2v3.2h-3.2zM1698.21 779.5h3.2v3.2h-3.2zM1716.79 839.71h3.2v3.2h-3.2zM1727.86 821.49h3.2v3.2h-3.2zM1726.84 849.83h3.2v3.2h-3.2zM1690.02 822.08h3.2v3.2h-3.2zM1711.34 813.78h3.2v3.2h-3.2zM1702.4 777.37h3.2v3.2h-3.2zM1721.26 798.15h3.2v3.2h-3.2zM1679.2 783.69h3.2v3.2h-3.2zM1711.17 800.35h3.2v3.2h-3.2zM1694.76 821.6h3.2v3.2h-3.2zM1700.57 797.05h3.2v3.2h-3.2zM1702.98 773.68h3.2v3.2h-3.2zM1733.44 792.86h3.2v3.2h-3.2zM1722.71 831.69h3.2v3.2h-3.2zM1700.88 811.32h3.2v3.2h-3.2zM1695.77 789.63h3.2v3.2h-3.2zM1684.94 809.19h3.2v3.2h-3.2zM1697.67 829.4h3.2v3.2h-3.2zM1745.38 823.73h3.2v3.2h-3.2zM1713.45 801.47h3.2v3.2h-3.2zM1726.28 804.33h3.2v3.2h-3.2zM1722.59 812.81h3.2v3.2h-3.2zM1722.45 804.59h3.2v3.2h-3.2zM1736.54 786.28h3.2v3.2h-3.2zM1720.16 803.81h3.2v3.2h-3.2zM1717.01 816.02h3.2v3.2h-3.2zM1733.31 815.22h3.2v3.2h-3.2zM1724.87 778.33h3.2v3.2h-3.2zM1676.92 807.76h3.2v3.2h-3.2zM1695.45 776.01h3.2v3.2h-3.2zM1717.01 797.27h3.2v3.2h-3.2zM1664.45 826.18h3.2v3.2h-3.2zM1716.54 820.1h3.2v3.2h-3.2zM1698.63 808.6h3.2v3.2h-3.2zM1695.2 790.96h3.2v3.2h-3.2zM1691.17 777.61h3.2v3.2h-3.2zM1733.9 800.33h3.2v3.2h-3.2zM1684.26 807.19h3.2v3.2h-3.2zM1682.32 810.07h3.2v3.2h-3.2zM1712.41 838.03h3.2v3.2h-3.2zM1661.9 764.66h3.2v3.2h-3.2zM1704.87 816.35h3.2v3.2h-3.2zM1707.88 835.95h3.2v3.2h-3.2zM1720.11 818.86h3.2v3.2h-3.2zM1704.49 827.58h3.2v3.2h-3.2zM1697.12 798.41h3.2v3.2h-3.2zM1688.81 834.32h3.2v3.2h-3.2zM1706.75 765.71h3.2v3.2h-3.2zM1719.05 816.45h3.2v3.2h-3.2zM1697.21 782.29h3.2v3.2h-3.2zM1726.34 790.45h3.2v3.2h-3.2zM1713.84 784.61h3.2v3.2h-3.2zM1700.59 789.7h3.2v3.2h-3.2zM1719.45 820.98h3.2v3.2h-3.2zM1666.7 813.94h3.2v3.2h-3.2zM1702.08 800.71h3.2v3.2h-3.2zM1730.66 795.04h3.2v3.2h-3.2zM1718.12 795.85h3.2v3.2h-3.2zM1734.78 818.64h3.2v3.2h-3.2zM1686.16 810.39h3.2v3.2h-3.2zM1658.11 792.4h3.2v3.2h-3.2zM1700.19 826.42h3.2v3.2h-3.2zM1722.94 849.07h3.2v3.2h-3.2zM1677.6 811.92h3.2v3.2h-3.2zM1715.12 823.75h3.2v3.2h-3.2zM1730.48 802.71h3.2v3.2h-3.2zM1710.62 837.59h3.2v3.2h-3.2zM1668.43 810.62h3.2v3.2h-3.2zM1695.41 783.96h3.2v3.2h-3.2zM1702.57 834.02h3.2v3.2h-3.2zM1726.14 805.81h3.2v3.2h-3.2zM1662.37 824.83h3.2v3.2h-3.2zM1706.17 813.98h3.2v3.2h-3.2zM1694.56 799.54h3.2v3.2h-3.2zM1734.49 822.63h3.2v3.2h-3.2zM1709.4 775.13h3.2v3.2h-3.2zM1716.51 774.63h3.2v3.2h-3.2zM1728.71 857.61h3.2v3.2h-3.2zM1731.32 801.44h3.2v3.2h-3.2zM1718.01 809.55h3.2v3.2h-3.2zM1718.92 819.59h3.2v3.2h-3.2zM1711.65 819.16h3.2v3.2h-3.2zM1689.52 810.91h3.2v3.2h-3.2zM1722.97 825.48h3.2v3.2h-3.2zM1679.67 797.19h3.2v3.2h-3.2zM1657.28 784.85h3.2v3.2h-3.2zM1687.46 786.7h3.2v3.2h-3.2zM1701.29 783.02h3.2v3.2h-3.2zM1729.39 769.18h3.2v3.2h-3.2zM1693.01 789.38h3.2v3.2h-3.2zM1706.16 822.91h3.2v3.2h-3.2zM1680.05 803.99h3.2v3.2h-3.2zM1728.56 768.34h3.2v3.2h-3.2zM1676.2 830.57h3.2v3.2h-3.2zM1725.66 828.44h3.2v3.2h-3.2zM1720.35 787.92h3.2v3.2h-3.2zM1719.49 808.16h3.2v3.2h-3.2zM1711.96 798.33h3.2v3.2h-3.2zM1708.85 803.56h3.2v3.2h-3.2zM1676.04 790.13h3.2v3.2h-3.2zM1687.66 825.11h3.2v3.2h-3.2zM1704.19 818.48h3.2v3.2h-3.2zM1700.75 815.31h3.2v3.2h-3.2zM1726.32 827.51h3.2v3.2h-3.2zM1724.38 788.93h3.2v3.2h-3.2zM1692.85 822.31h3.2v3.2h-3.2zM1729.79 769.61h3.2v3.2h-3.2zM1734.31 833.06h3.2v3.2h-3.2zM1706.38 817.34h3.2v3.2h-3.2zM1704.76 834.13h3.2v3.2h-3.2zM1729.96 821.21h3.2v3.2h-3.2zM1725.65 808.41h3.2v3.2h-3.2zM1673.17 810.16h3.2v3.2h-3.2zM1691.14 820.64h3.2v3.2h-3.2zM1744.9 822.4h3.2v3.2h-3.2zM1682.95 806.55h3.2v3.2h-3.2zM1711.68 814.36h3.2v3.2h-3.2zM1701.61 834.96h3.2v3.2h-3.2zM1681.27 786.32h3.2v3.2h-3.2zM1729.49 785.84h3.2v3.2h-3.2zM1676.27 827.95h3.2v3.2h-3.2zM1706.59 781.84h3.2v3.2h-3.2zM1714.49 789.71h3.2v3.2h-3.2zM1719.25 795.99h3.2v3.2h-3.2zM1686.39 795.74h3.2v3.2h-3.2zM1696.17 795.85h3.2v3.2h-3.2zM1703.35 788.26h3.2v3.2h-3.2zM1725.77 811.56h3.2v3.2h-3.2zM1715.49 790.16h3.2v3.2h-3.2zM1730.94 804.39h3.2v3.2h-3.2zM1689.73 819.16h3.2v3.2h-3.2zM1724.45 769.84h3.2v3.2h-3.2zM1692.15 800.03h3.2v3.2h-3.2zM1705.84 805.61h3.2v3.2h-3.2zM1703.68 821.07h3.2v3.2h-3.2zM1690.56 780.12h3.2v3.2h-3.2zM1728.31 817.64h3.2v3.2h-3.2zM1709.68 799.91h3.2v3.2h-3.2zM1691.77 783.08h3.2v3.2h-3.2zM1716.25 798.05h3.2v3.2h-3.2zM1734.66 788.33h3.2v3.2h-3.2zM1679.84 778.53h3.2v3.2h-3.2zM1741.03 849.84h3.2v3.2h-3.2zM1736.93 800.56h3.2v3.2h-3.2zM1710.1 801.41h3.2v3.2h-3.2zM1710.84 815.26h3.2v3.2h-3.2zM1742.38 830.97h3.2v3.2h-3.2zM1741.99 841.77h3.2v3.2h-3.2zM1736.66 813.82h3.2v3.2h-3.2zM1694.53 837.31h3.2v3.2h-3.2zM1701 808.01h3.2v3.2h-3.2zM1709.6 797.29h3.2v3.2h-3.2zM1728.6 768.36h3.2v3.2h-3.2zM1707.8 777.56h3.2v3.2h-3.2zM1703.58 808.92h3.2v3.2h-3.2zM1700.09 765.83h3.2v3.2h-3.2zM1733.48 858.72h3.2v3.2h-3.2zM1714.09 789.7h3.2v3.2h-3.2zM1706.41 828.91h3.2v3.2h-3.2zM1716.48 838.75h3.2v3.2h-3.2zM1695.94 795.73h3.2v3.2h-3.2zM1713.75 793.64h3.2v3.2h-3.2zM1713.06 822.6h3.2v3.2h-3.2zM1710.7 792.76h3.2v3.2h-3.2zM1721.2 805.15h3.2v3.2h-3.2zM1682.35 776.63h3.2v3.2h-3.2zM1695.38 801.39h3.2v3.2h-3.2zM1701.36 813.19h3.2v3.2h-3.2zM1711.65 787.44h3.2v3.2h-3.2zM1701.54 810.46h3.2v3.2h-3.2zM1745.66 825.7h3.2v3.2h-3.2zM1705.84 777.17h3.2v3.2h-3.2zM1724.27 834.33h3.2v3.2h-3.2zM1731.06 813.38h3.2v3.2h-3.2zM1736.27 795.58h3.2v3.2h-3.2zM1712.93 802.34h3.2v3.2h-3.2zM1728.92 827.4h3.2v3.2h-3.2zM1724.73 834.79h3.2v3.2h-3.2zM1667.53 821.95h3.2v3.2h-3.2zM1744.02 831.55h3.2v3.2h-3.2zM1708.18 793.12h3.2v3.2h-3.2zM1704.73 795.16h3.2v3.2h-3.2zM1701.71 772.52h3.2v3.2h-3.2zM1694.99 788.4h3.2v3.2h-3.2zM1701.9 789.06h3.2v3.2h-3.2zM1725.69 812.85h3.2v3.2h-3.2zM1741.88 791.42h3.2v3.2h-3.2zM1694.53 835.61h3.2v3.2h-3.2zM1720.25 833.07h3.2v3.2h-3.2zM1718.64 817.68h3.2v3.2h-3.2zM1724.25 838.28h3.2v3.2h-3.2zM1707.57 837.4h3.2v3.2h-3.2zM1695.65 778.04h3.2v3.2h-3.2zM1677.34 826.1h3.2v3.2h-3.2zM1687.46 818.52h3.2v3.2h-3.2zM1732.09 787.94h3.2v3.2h-3.2zM1728.39 781.44h3.2v3.2h-3.2zM1702.14 809.97h3.2v3.2h-3.2zM1695.61 809.91h3.2v3.2h-3.2zM1700.61 810.78h3.2v3.2h-3.2zM1624.61 766.7h3.2v3.2h-3.2zM1659.15 782.34h3.2v3.2h-3.2zM1652.46 763.11h3.2v3.2h-3.2zM1630.59 820.75h3.2v3.2h-3.2zM1668.26 784.16h3.2v3.2h-3.2zM1646.4 840.1h3.2v3.2h-3.2zM1616.45 813.76h3.2v3.2h-3.2zM1620.86 814.62h3.2v3.2h-3.2zM1635.22 802.29h3.2v3.2h-3.2zM1661.59 806.74h3.2v3.2h-3.2zM1650.27 808.83h3.2v3.2h-3.2zM1679.09 812.73h3.2v3.2h-3.2zM1633.15 804.75h3.2v3.2h-3.2zM1622.17 792.06h3.2v3.2h-3.2zM1614.49 821.6h3.2v3.2h-3.2zM1680.63 796.25h3.2v3.2h-3.2zM1618.53 776.06h3.2v3.2h-3.2zM1614.7 805.52h3.2v3.2h-3.2zM1659.26 823.75h3.2v3.2h-3.2zM1611.16 806.57h3.2v3.2h-3.2zM1673.67 810.58h3.2v3.2h-3.2zM1682.54 804.46h3.2v3.2h-3.2zM1672.13 813.16h3.2v3.2h-3.2zM1621.82 789.02h3.2v3.2h-3.2zM1649.38 809.26h3.2v3.2h-3.2zM1643.25 789.63h3.2v3.2h-3.2zM1664.5 815.28h3.2v3.2h-3.2zM1652.65 828.11h3.2v3.2h-3.2zM1665.8 834.49h3.2v3.2h-3.2zM1667.74 796.02h3.2v3.2h-3.2zM1653.43 827.49h3.2v3.2h-3.2zM1676.78 803.9h3.2v3.2h-3.2zM1678 790.46h3.2v3.2h-3.2zM1673.94 784.67h3.2v3.2h-3.2zM1613.22 784.15h3.2v3.2h-3.2zM1656.89 784.87h3.2v3.2h-3.2zM1680.88 812.97h3.2v3.2h-3.2zM1631.7 775.22h3.2v3.2h-3.2zM1670.22 779.74h3.2v3.2h-3.2zM1662.75 777.42h3.2v3.2h-3.2zM1670.67 788.52h3.2v3.2h-3.2zM1618.84 803.73h3.2v3.2h-3.2zM1627.2 811.32h3.2v3.2h-3.2zM1620.84 819.41h3.2v3.2h-3.2zM1653.74 809.3h3.2v3.2h-3.2zM1619.35 796.83h3.2v3.2h-3.2zM1678.34 810.95h3.2v3.2h-3.2zM1658.33 768.33h3.2v3.2h-3.2zM1626.64 793.26h3.2v3.2h-3.2zM1651.23 791.72h3.2v3.2h-3.2zM1658.08 776.92h3.2v3.2h-3.2zM1648.74 806.31h3.2v3.2h-3.2zM1615.28 788.57h3.2v3.2h-3.2zM1643.61 773.98h3.2v3.2h-3.2zM1674.55 797.45h3.2v3.2h-3.2zM1662 785.09h3.2v3.2h-3.2zM1624.25 814.58h3.2v3.2h-3.2zM1617.47 788.51h3.2v3.2h-3.2zM1683.31 786.02h3.2v3.2h-3.2zM1622.1 803.81h3.2v3.2h-3.2zM1661.06 773.77h3.2v3.2h-3.2zM1654.01 812.86h3.2v3.2h-3.2zM1675.75 801.34h3.2v3.2h-3.2zM1634.69 798.48h3.2v3.2h-3.2zM1623.81 778.64h3.2v3.2h-3.2zM1629.58 784.22h3.2v3.2h-3.2zM1626.49 809.42h3.2v3.2h-3.2zM1658.68 774.15h3.2v3.2h-3.2zM1612.52 824.55h3.2v3.2h-3.2zM1643.69 767.96h3.2v3.2h-3.2zM1640.08 792.12h3.2v3.2h-3.2zM1661.43 813.74h3.2v3.2h-3.2zM1625.21 808.19h3.2v3.2h-3.2zM1661.69 788.66h3.2v3.2h-3.2zM1626.85 818.88h3.2v3.2h-3.2zM1677.42 804.76h3.2v3.2h-3.2zM1651.04 809.6h3.2v3.2h-3.2zM1614.68 781.57h3.2v3.2h-3.2zM1655.16 781.5h3.2v3.2h-3.2zM1683.89 828.27h3.2v3.2h-3.2zM1641.74 793.15h3.2v3.2h-3.2zM1628.19 806h3.2v3.2h-3.2zM1675.73 770.14h3.2v3.2h-3.2zM1625.62 790.52h3.2v3.2h-3.2zM1661.65 814.8h3.2v3.2h-3.2zM1757.73 743.4h3.2v3.2h-3.2zM1770.89 750.75h3.2v3.2h-3.2zM1744.56 752.85h3.2v3.2h-3.2zM1748.77 759.15h3.2v3.2h-3.2zM1757.73 763.35h3.2v3.2h-3.2zM1762.99 765.98h3.2v3.2h-3.2zM1773.53 771.75h3.2v3.2h-3.2zM1756.14 783.3h3.2v3.2h-3.2zM1752.46 801.15h3.2v3.2h-3.2zM1765.63 813.22h3.2v3.2h-3.2zM1718.22 877.8h3.2v3.2h-3.2zM1674.5 884.1h3.2v3.2h-3.2zM1652.38 873.6h3.2v3.2h-3.2zM1655.01 867.3h3.2v3.2h-3.2zM1649.74 855.75h3.2v3.2h-3.2zM1632.36 858.38h3.2v3.2h-3.2zM1681.35 861h3.2v3.2h-3.2zM1691.88 861h3.2v3.2h-3.2zM1699.78 862.05h3.2v3.2h-3.2zM1705.05 865.2h3.2v3.2h-3.2zM1709.26 864.67h3.2v3.2h-3.2zM1623.4 760.2h3.2v3.2h-3.2zM1652.38 763.35h3.2v3.2h-3.2zM1694.52 761.25h3.2v3.2h-3.2zM1603.91 835.8h3.2v3.2h-3.2zM1603.91 806.92h3.2v3.2h-3.2zM1604.97 812.17h3.2v3.2h-3.2z" fill="#3d3d3d"/>
<polyline points="1601.3,755.7 1707.8,741.7 1732.2,702.4 1798.3,703 1809.8,760.3 1790.6,792.5 1707.8,741.7" fill="none" stroke="#5a5a5a" stroke-width="1.6" stroke-linejoin="round"/>
<polyline points="1790.6,792.5 1783,910.9" fill="none" stroke="#5a5a5a" stroke-width="1.6" stroke-linejoin="round"/>
<text x="1755" y="729.8" font-size="30.2" text-anchor="middle" fill="#231f20">2</text>
<text x="1611.8" y="900.8" font-size="30.2" text-anchor="start" fill="#231f20">98</text>
<line x1="1601.4" y1="967" x2="1812.6" y2="967" stroke="#7c7c7c" stroke-width="1.1" stroke-linecap="butt"/>
<line x1="1812.6" y1="967" x2="1812.6" y2="1178.2" stroke="#7c7c7c" stroke-width="1.1" stroke-linecap="butt"/>
<line x1="1601.4" y1="966.4" x2="1601.4" y2="1178.9" stroke="#4a4a4a" stroke-width="1.4" stroke-linecap="butt"/>
<line x1="1600.7" y1="1178.2" x2="1813.2" y2="1178.2" stroke="#4a4a4a" stroke-width="1.4" stroke-linecap="butt"/>
<path d="M1597.9 1162.31H1601.4M1617.29 1178.2V1181.7M1597.9 1153.01H1601.4M1626.59 1178.2V1181.7M1597.9 1146.41H1601.4M1633.19 1178.2V1181.7M1596.4 1141.29H1601.4M1638.31 1178.2V1183.2M1597.9 1137.11H1601.4M1642.49 1178.2V1181.7M1597.9 1133.58H1601.4M1646.02 1178.2V1181.7M1597.9 1130.52H1601.4M1649.08 1178.2V1181.7M1597.9 1127.82H1601.4M1651.78 1178.2V1181.7M1597.9 1109.51H1601.4M1670.09 1178.2V1181.7M1597.9 1100.21H1601.4M1679.39 1178.2V1181.7M1597.9 1093.61H1601.4M1685.99 1178.2V1181.7M1596.4 1088.49H1601.4M1691.11 1178.2V1183.2M1597.9 1084.31H1601.4M1695.29 1178.2V1181.7M1597.9 1080.78H1601.4M1698.82 1178.2V1181.7M1597.9 1077.72H1601.4M1701.88 1178.2V1181.7M1597.9 1075.02H1601.4M1704.58 1178.2V1181.7M1597.9 1056.71H1601.4M1722.89 1178.2V1181.7M1597.9 1047.41H1601.4M1732.19 1178.2V1181.7M1597.9 1040.81H1601.4M1738.79 1178.2V1181.7M1596.4 1035.69H1601.4M1743.91 1178.2V1183.2M1597.9 1031.51H1601.4M1748.09 1178.2V1181.7M1597.9 1027.98H1601.4M1751.62 1178.2V1181.7M1597.9 1024.92H1601.4M1754.68 1178.2V1181.7M1597.9 1022.22H1601.4M1757.38 1178.2V1181.7M1597.9 1003.91H1601.4M1775.69 1178.2V1181.7M1597.9 994.61H1601.4M1784.99 1178.2V1181.7M1597.9 988.01H1601.4M1791.59 1178.2V1181.7M1596.4 982.89H1601.4M1796.71 1178.2V1183.2M1597.9 978.71H1601.4M1800.89 1178.2V1181.7M1597.9 975.18H1601.4M1804.42 1178.2V1181.7M1597.9 972.12H1601.4M1807.48 1178.2V1181.7M1597.9 969.42H1601.4M1810.18 1178.2V1181.7" stroke="#666" stroke-width="1.05" fill="none"/>
<path d="M1594.6 1178.2H1601.4M1601.4 1178.2V1185M1594.6 1125.4H1601.4M1654.2 1178.2V1185M1594.6 1072.6H1601.4M1707 1178.2V1185M1594.6 1019.8H1601.4M1759.8 1178.2V1185M1594.6 967H1601.4M1812.6 1178.2V1185" stroke="#3c3c3c" stroke-width="1.6" fill="none"/>
<text x="1590.6" y="1184" font-size="12.2" text-anchor="end" fill="#2e2e2e">10<tspan font-size="7.8" dy="-6.4">0</tspan></text>
<text x="1593.4" y="1207.2" font-size="12.2" text-anchor="start" fill="#2e2e2e">10<tspan font-size="7.8" dy="-6.4">0</tspan></text>
<text x="1590.6" y="1131.2" font-size="12.2" text-anchor="end" fill="#2e2e2e">10<tspan font-size="7.8" dy="-6.4">1</tspan></text>
<text x="1646.2" y="1207.2" font-size="12.2" text-anchor="start" fill="#2e2e2e">10<tspan font-size="7.8" dy="-6.4">1</tspan></text>
<text x="1590.6" y="1078.4" font-size="12.2" text-anchor="end" fill="#2e2e2e">10<tspan font-size="7.8" dy="-6.4">2</tspan></text>
<text x="1699" y="1207.2" font-size="12.2" text-anchor="start" fill="#2e2e2e">10<tspan font-size="7.8" dy="-6.4">2</tspan></text>
<text x="1590.6" y="1025.6" font-size="12.2" text-anchor="end" fill="#2e2e2e">10<tspan font-size="7.8" dy="-6.4">3</tspan></text>
<text x="1751.8" y="1207.2" font-size="12.2" text-anchor="start" fill="#2e2e2e">10<tspan font-size="7.8" dy="-6.4">3</tspan></text>
<text x="1590.6" y="972.8" font-size="12.2" text-anchor="end" fill="#2e2e2e">10<tspan font-size="7.8" dy="-6.4">4</tspan></text>
<text x="1804.6" y="1207.2" font-size="12.2" text-anchor="start" fill="#2e2e2e">10<tspan font-size="7.8" dy="-6.4">4</tspan></text>
<line x1="1812.6" y1="967" x2="1812.6" y2="1178.2" stroke="#b8b8b8" stroke-width="1.2" stroke-linecap="butt"/>
<path d="M1750.34 999.74h3.2v3.2h-3.2zM1758.08 1024.7h3.2v3.2h-3.2zM1749.11 1038.02h3.2v3.2h-3.2zM1730.33 1011.6h3.2v3.2h-3.2zM1747.76 1022.49h3.2v3.2h-3.2zM1796.25 1000.19h3.2v3.2h-3.2zM1757.77 1025.54h3.2v3.2h-3.2zM1752.89 1013.96h3.2v3.2h-3.2zM1773.87 1031.29h3.2v3.2h-3.2zM1712.23 1029.3h3.2v3.2h-3.2zM1749.94 1013.72h3.2v3.2h-3.2zM1763.25 1026.3h3.2v3.2h-3.2zM1802.3 990.72h3.2v3.2h-3.2zM1756.09 1021.37h3.2v3.2h-3.2zM1752.95 1018.05h3.2v3.2h-3.2zM1759.01 1017.43h3.2v3.2h-3.2zM1772.02 1019.03h3.2v3.2h-3.2zM1753.05 1028.46h3.2v3.2h-3.2zM1777.89 1002.18h3.2v3.2h-3.2zM1776.16 1010.81h3.2v3.2h-3.2zM1752.97 1025.65h3.2v3.2h-3.2zM1758.16 1019.98h3.2v3.2h-3.2zM1756.75 1011.2h3.2v3.2h-3.2zM1723.67 1053.86h3.2v3.2h-3.2zM1755.54 1025.24h3.2v3.2h-3.2zM1725.03 1038.77h3.2v3.2h-3.2zM1777.63 1007.06h3.2v3.2h-3.2zM1760.11 1022.95h3.2v3.2h-3.2zM1769.67 1002.94h3.2v3.2h-3.2zM1773.06 998.75h3.2v3.2h-3.2zM1754.48 1025.81h3.2v3.2h-3.2zM1782.44 1008.08h3.2v3.2h-3.2zM1760.87 1023.38h3.2v3.2h-3.2zM1757.72 1013.73h3.2v3.2h-3.2zM1748.47 1021.74h3.2v3.2h-3.2zM1749.13 1032.42h3.2v3.2h-3.2zM1761.84 1027.01h3.2v3.2h-3.2zM1763.79 1009.27h3.2v3.2h-3.2zM1744.03 1035.52h3.2v3.2h-3.2zM1773.11 1016.1h3.2v3.2h-3.2zM1778.07 1019.48h3.2v3.2h-3.2zM1782.29 1006.86h3.2v3.2h-3.2zM1765 1023.02h3.2v3.2h-3.2zM1731.27 1043.64h3.2v3.2h-3.2zM1760.81 1020.36h3.2v3.2h-3.2zM1763.24 1026.71h3.2v3.2h-3.2zM1778.75 1005.88h3.2v3.2h-3.2zM1739.79 1040.32h3.2v3.2h-3.2zM1756.18 1019.48h3.2v3.2h-3.2zM1794.68 1003.71h3.2v3.2h-3.2zM1753.28 1038.21h3.2v3.2h-3.2zM1775.42 1012.32h3.2v3.2h-3.2zM1740.16 1014.73h3.2v3.2h-3.2zM1750.91 1019.52h3.2v3.2h-3.2zM1778.53 1000.81h3.2v3.2h-3.2zM1744.61 1022.05h3.2v3.2h-3.2zM1788.94 1002.82h3.2v3.2h-3.2zM1765.41 1010.37h3.2v3.2h-3.2zM1759.85 1026.55h3.2v3.2h-3.2zM1764.3 996.2h3.2v3.2h-3.2zM1746.76 1048.95h3.2v3.2h-3.2zM1774.58 1006.42h3.2v3.2h-3.2zM1749.68 1012.79h3.2v3.2h-3.2zM1766.21 1012.24h3.2v3.2h-3.2zM1757.21 1020.69h3.2v3.2h-3.2zM1745.87 1031.41h3.2v3.2h-3.2zM1779.51 1017.26h3.2v3.2h-3.2zM1767.17 1009.98h3.2v3.2h-3.2zM1767.62 1023.91h3.2v3.2h-3.2zM1741.45 1018.73h3.2v3.2h-3.2zM1791.66 995.36h3.2v3.2h-3.2zM1769.11 1014.62h3.2v3.2h-3.2zM1763.72 1013.38h3.2v3.2h-3.2zM1752.98 1009.7h3.2v3.2h-3.2zM1782.37 1021.2h3.2v3.2h-3.2zM1762.91 1025.64h3.2v3.2h-3.2zM1760.27 1013.08h3.2v3.2h-3.2zM1776.99 1015.19h3.2v3.2h-3.2zM1752.55 1034.33h3.2v3.2h-3.2zM1758.32 1017.42h3.2v3.2h-3.2zM1772.64 1000.26h3.2v3.2h-3.2zM1766.69 1007.28h3.2v3.2h-3.2zM1753.88 1022.52h3.2v3.2h-3.2zM1780.01 1011.05h3.2v3.2h-3.2zM1751.72 1015.28h3.2v3.2h-3.2zM1754.21 1018.73h3.2v3.2h-3.2zM1751.9 1027.13h3.2v3.2h-3.2zM1763.11 1016.28h3.2v3.2h-3.2zM1771.43 1003.08h3.2v3.2h-3.2zM1744.66 1019.89h3.2v3.2h-3.2zM1769.68 1022.93h3.2v3.2h-3.2zM1789.16 1006.21h3.2v3.2h-3.2zM1764.81 1015.24h3.2v3.2h-3.2zM1740.42 1018.61h3.2v3.2h-3.2zM1757.6 996.35h3.2v3.2h-3.2zM1764.54 1006.67h3.2v3.2h-3.2zM1741.13 1018.25h3.2v3.2h-3.2zM1768.97 1017.76h3.2v3.2h-3.2zM1744.81 1009.85h3.2v3.2h-3.2zM1777.48 994.76h3.2v3.2h-3.2zM1743.47 1026.18h3.2v3.2h-3.2zM1787.7 1000.6h3.2v3.2h-3.2zM1749.49 1024.7h3.2v3.2h-3.2zM1746.98 1020.11h3.2v3.2h-3.2zM1766.93 1016.71h3.2v3.2h-3.2zM1767.5 1015.83h3.2v3.2h-3.2zM1764.23 1022.6h3.2v3.2h-3.2zM1771.03 992.42h3.2v3.2h-3.2zM1760.92 1018.06h3.2v3.2h-3.2zM1751.18 1001.3h3.2v3.2h-3.2zM1741.98 1026.73h3.2v3.2h-3.2zM1782.84 993.51h3.2v3.2h-3.2zM1754.83 1014.92h3.2v3.2h-3.2zM1748.33 1024.87h3.2v3.2h-3.2zM1761.32 1003.27h3.2v3.2h-3.2zM1763.76 1015.99h3.2v3.2h-3.2zM1738.88 1015.37h3.2v3.2h-3.2zM1760.4 1031.58h3.2v3.2h-3.2zM1746.3 1022.62h3.2v3.2h-3.2zM1750.26 1032.14h3.2v3.2h-3.2zM1751.77 1026.97h3.2v3.2h-3.2zM1746.95 1021.94h3.2v3.2h-3.2zM1764.96 1012.13h3.2v3.2h-3.2zM1749.68 1018.36h3.2v3.2h-3.2zM1768.35 1017.97h3.2v3.2h-3.2zM1751.66 1026.97h3.2v3.2h-3.2zM1763.51 1007.52h3.2v3.2h-3.2zM1770.91 1006.19h3.2v3.2h-3.2zM1762.78 1006.98h3.2v3.2h-3.2zM1751.72 1012.21h3.2v3.2h-3.2zM1743.77 1019.27h3.2v3.2h-3.2zM1750.13 1034.03h3.2v3.2h-3.2zM1765.6 1035.42h3.2v3.2h-3.2zM1785.93 1009.28h3.2v3.2h-3.2zM1767.95 1013.82h3.2v3.2h-3.2zM1757.21 1004.2h3.2v3.2h-3.2zM1756.19 1015.45h3.2v3.2h-3.2zM1761.13 1008.41h3.2v3.2h-3.2zM1748.9 1022.19h3.2v3.2h-3.2zM1770.43 1021.73h3.2v3.2h-3.2zM1734.96 1033.36h3.2v3.2h-3.2zM1775.85 1000h3.2v3.2h-3.2zM1751.83 1019.91h3.2v3.2h-3.2zM1750.46 1027.5h3.2v3.2h-3.2zM1768.94 1018.86h3.2v3.2h-3.2zM1749.21 1012.39h3.2v3.2h-3.2zM1737.46 1038.46h3.2v3.2h-3.2zM1759.84 1015.03h3.2v3.2h-3.2zM1767.69 1013.96h3.2v3.2h-3.2zM1776.07 996.92h3.2v3.2h-3.2zM1765.65 1018.61h3.2v3.2h-3.2zM1769.92 1017.8h3.2v3.2h-3.2zM1793.3 994.77h3.2v3.2h-3.2zM1762.86 1017.14h3.2v3.2h-3.2zM1763.82 1010.58h3.2v3.2h-3.2zM1752.46 1033.55h3.2v3.2h-3.2zM1767.12 1019.58h3.2v3.2h-3.2zM1770.07 1009.56h3.2v3.2h-3.2zM1777.69 993.77h3.2v3.2h-3.2zM1761.97 1013.48h3.2v3.2h-3.2zM1728.06 1035.02h3.2v3.2h-3.2zM1763.51 1020.78h3.2v3.2h-3.2zM1754.98 1036.33h3.2v3.2h-3.2zM1785.71 994.55h3.2v3.2h-3.2zM1744.65 1018.47h3.2v3.2h-3.2zM1768.58 1004.92h3.2v3.2h-3.2zM1785.78 1008.19h3.2v3.2h-3.2zM1756.51 1037h3.2v3.2h-3.2zM1749.89 1018.72h3.2v3.2h-3.2zM1763.71 1006.66h3.2v3.2h-3.2zM1757.97 1009.09h3.2v3.2h-3.2zM1759.27 1020.65h3.2v3.2h-3.2zM1741.29 1029.41h3.2v3.2h-3.2zM1760.89 1014.07h3.2v3.2h-3.2zM1740.86 1018.71h3.2v3.2h-3.2zM1729.16 1037.81h3.2v3.2h-3.2zM1743.86 1022.6h3.2v3.2h-3.2zM1719.76 1073.16h3.2v3.2h-3.2zM1699.94 1053.39h3.2v3.2h-3.2zM1731.74 1050.77h3.2v3.2h-3.2zM1709.14 1065.5h3.2v3.2h-3.2zM1699.07 1054.2h3.2v3.2h-3.2zM1708.42 1024.83h3.2v3.2h-3.2zM1714.29 1066.98h3.2v3.2h-3.2zM1710.97 1063.53h3.2v3.2h-3.2zM1710.62 1055.71h3.2v3.2h-3.2zM1666.83 1074.86h3.2v3.2h-3.2zM1708.64 1055.02h3.2v3.2h-3.2zM1728.6 1028.75h3.2v3.2h-3.2zM1721.04 1040.12h3.2v3.2h-3.2zM1720.58 1064.66h3.2v3.2h-3.2zM1680.39 1076.02h3.2v3.2h-3.2zM1752.4 1032.41h3.2v3.2h-3.2zM1705.17 1067.56h3.2v3.2h-3.2zM1687.02 1080.33h3.2v3.2h-3.2zM1698.5 1077.84h3.2v3.2h-3.2zM1709.14 1059.85h3.2v3.2h-3.2zM1711.67 1090.44h3.2v3.2h-3.2zM1692.42 1083.19h3.2v3.2h-3.2zM1698.24 1059.15h3.2v3.2h-3.2zM1681.25 1079.15h3.2v3.2h-3.2zM1735.38 1048.1h3.2v3.2h-3.2zM1700.41 1043.16h3.2v3.2h-3.2zM1667.35 1106.03h3.2v3.2h-3.2zM1743.94 1049.89h3.2v3.2h-3.2zM1711.72 1072.63h3.2v3.2h-3.2zM1696.41 1046.01h3.2v3.2h-3.2zM1712.82 1053.24h3.2v3.2h-3.2zM1687.8 1065.43h3.2v3.2h-3.2zM1706.93 1064.27h3.2v3.2h-3.2zM1674.9 1070.37h3.2v3.2h-3.2zM1683.29 1069.65h3.2v3.2h-3.2zM1743.57 1031.22h3.2v3.2h-3.2zM1719.74 1056.13h3.2v3.2h-3.2zM1697.26 1070.56h3.2v3.2h-3.2zM1752.87 1037.97h3.2v3.2h-3.2zM1717.89 1077.6h3.2v3.2h-3.2zM1732.42 1055.22h3.2v3.2h-3.2zM1701.96 1077.33h3.2v3.2h-3.2zM1680.65 1087.36h3.2v3.2h-3.2zM1728.93 1041.57h3.2v3.2h-3.2zM1687.41 1074.27h3.2v3.2h-3.2zM1714.78 1038.73h3.2v3.2h-3.2zM1682.76 1078.12h3.2v3.2h-3.2zM1730.64 1016.21h3.2v3.2h-3.2zM1723.92 1038.24h3.2v3.2h-3.2zM1762.01 1030.93h3.2v3.2h-3.2zM1726.66 1024.15h3.2v3.2h-3.2zM1717.27 1055.02h3.2v3.2h-3.2zM1756.77 1048.63h3.2v3.2h-3.2zM1709.32 1039.34h3.2v3.2h-3.2zM1704.6 1065.77h3.2v3.2h-3.2zM1683.34 1058.97h3.2v3.2h-3.2zM1710.02 1056.1h3.2v3.2h-3.2zM1708.27 1061.15h3.2v3.2h-3.2zM1692.21 1085.46h3.2v3.2h-3.2zM1727.93 1064.14h3.2v3.2h-3.2zM1748.96 1038.68h3.2v3.2h-3.2zM1719.78 1039.99h3.2v3.2h-3.2zM1685.16 1051.32h3.2v3.2h-3.2zM1745.91 1053.34h3.2v3.2h-3.2zM1691.62 1061.93h3.2v3.2h-3.2zM1693.49 1065.6h3.2v3.2h-3.2zM1711.4 1068.49h3.2v3.2h-3.2zM1701.95 1054.84h3.2v3.2h-3.2zM1706.51 1080.06h3.2v3.2h-3.2zM1723.41 1047.81h3.2v3.2h-3.2zM1705.06 1069.52h3.2v3.2h-3.2zM1669.84 1077.68h3.2v3.2h-3.2zM1723.28 1042.6h3.2v3.2h-3.2zM1713.93 1064.67h3.2v3.2h-3.2zM1747.55 1041.36h3.2v3.2h-3.2zM1703.24 1054.74h3.2v3.2h-3.2zM1724.17 1038.73h3.2v3.2h-3.2zM1712.3 1058.1h3.2v3.2h-3.2zM1699.91 1069.26h3.2v3.2h-3.2zM1707.94 1071.51h3.2v3.2h-3.2zM1743.58 1054.15h3.2v3.2h-3.2zM1695.5 1076.27h3.2v3.2h-3.2zM1729.2 1050.16h3.2v3.2h-3.2zM1708.33 1052.81h3.2v3.2h-3.2zM1683.87 1084.84h3.2v3.2h-3.2zM1657.07 1069.85h3.2v3.2h-3.2zM1701.36 1054.73h3.2v3.2h-3.2zM1697.67 1067h3.2v3.2h-3.2zM1736.14 1043.43h3.2v3.2h-3.2zM1709.16 1038.3h3.2v3.2h-3.2zM1713.6 1067.07h3.2v3.2h-3.2zM1700.91 1065.14h3.2v3.2h-3.2zM1717.6 1070.21h3.2v3.2h-3.2zM1721.36 1054.09h3.2v3.2h-3.2zM1717.49 1058.39h3.2v3.2h-3.2zM1673.56 1079.23h3.2v3.2h-3.2zM1755.02 1023.2h3.2v3.2h-3.2zM1691.36 1072.14h3.2v3.2h-3.2zM1701.61 1050.51h3.2v3.2h-3.2zM1724.64 1039.09h3.2v3.2h-3.2zM1754.21 1032.27h3.2v3.2h-3.2zM1723.25 1016.25h3.2v3.2h-3.2zM1730.12 1038.93h3.2v3.2h-3.2zM1714.56 1028.47h3.2v3.2h-3.2zM1723.68 1040.52h3.2v3.2h-3.2zM1710.18 1071.22h3.2v3.2h-3.2zM1750.77 1021.17h3.2v3.2h-3.2zM1663.48 1069.87h3.2v3.2h-3.2zM1709.92 1087.97h3.2v3.2h-3.2zM1703.42 1075.08h3.2v3.2h-3.2zM1722.28 1033.31h3.2v3.2h-3.2zM1710.87 1064.01h3.2v3.2h-3.2zM1686.67 1047.82h3.2v3.2h-3.2zM1699.19 1060.98h3.2v3.2h-3.2zM1712.38 1049.79h3.2v3.2h-3.2zM1722.88 1046.35h3.2v3.2h-3.2zM1689.09 1064.36h3.2v3.2h-3.2zM1711.45 1047.88h3.2v3.2h-3.2zM1708.17 1041.57h3.2v3.2h-3.2zM1710 1069.26h3.2v3.2h-3.2zM1733.85 1020.31h3.2v3.2h-3.2zM1710.77 1066.96h3.2v3.2h-3.2zM1728.41 1050.82h3.2v3.2h-3.2zM1675.9 1090.55h3.2v3.2h-3.2zM1672.7 1099.71h3.2v3.2h-3.2zM1723.48 1093.4h3.2v3.2h-3.2zM1657.85 1097.2h3.2v3.2h-3.2zM1727.52 1084.27h3.2v3.2h-3.2zM1708.32 1110.57h3.2v3.2h-3.2zM1671.03 1083.42h3.2v3.2h-3.2zM1712.89 1078.76h3.2v3.2h-3.2zM1670.47 1107.19h3.2v3.2h-3.2zM1687.08 1124.29h3.2v3.2h-3.2zM1705.84 1086.52h3.2v3.2h-3.2zM1705.45 1097.36h3.2v3.2h-3.2zM1677.65 1101.11h3.2v3.2h-3.2zM1681.18 1101.27h3.2v3.2h-3.2zM1692.96 1076.41h3.2v3.2h-3.2zM1654.67 1104.05h3.2v3.2h-3.2zM1662.11 1114.4h3.2v3.2h-3.2zM1720.19 1087.46h3.2v3.2h-3.2zM1686.76 1091.96h3.2v3.2h-3.2zM1732.5 1083.37h3.2v3.2h-3.2zM1712.64 1122.3h3.2v3.2h-3.2zM1719.81 1061.79h3.2v3.2h-3.2zM1694.46 1095h3.2v3.2h-3.2zM1723.91 1101.83h3.2v3.2h-3.2zM1709.58 1109.26h3.2v3.2h-3.2zM1730.02 1091.69h3.2v3.2h-3.2zM1681.93 1062.85h3.2v3.2h-3.2zM1678.02 1101.67h3.2v3.2h-3.2zM1689.28 1088.31h3.2v3.2h-3.2zM1685.98 1117.73h3.2v3.2h-3.2zM1733.59 1103.13h3.2v3.2h-3.2zM1703.45 1096.51h3.2v3.2h-3.2zM1730.93 1087.31h3.2v3.2h-3.2zM1713.98 1083.23h3.2v3.2h-3.2zM1688.13 1101.19h3.2v3.2h-3.2zM1708.66 1108.18h3.2v3.2h-3.2zM1679.08 1093.41h3.2v3.2h-3.2zM1695.78 1100.96h3.2v3.2h-3.2zM1715.5 1109.14h3.2v3.2h-3.2zM1657.76 1103.58h3.2v3.2h-3.2zM1671.75 1101.01h3.2v3.2h-3.2zM1667.72 1076.46h3.2v3.2h-3.2zM1689.97 1084.44h3.2v3.2h-3.2zM1697.26 1090.87h3.2v3.2h-3.2zM1691.04 1125.36h3.2v3.2h-3.2zM1704.39 1087.34h3.2v3.2h-3.2zM1700.84 1117.22h3.2v3.2h-3.2zM1729.73 1074.99h3.2v3.2h-3.2zM1650.44 1103.05h3.2v3.2h-3.2zM1680.35 1102.56h3.2v3.2h-3.2zM1702.76 1088.06h3.2v3.2h-3.2zM1701.59 1102.83h3.2v3.2h-3.2zM1689.87 1102.15h3.2v3.2h-3.2zM1708.57 1090.17h3.2v3.2h-3.2zM1677.93 1117.91h3.2v3.2h-3.2zM1705.54 1106.35h3.2v3.2h-3.2zM1680.65 1091.23h3.2v3.2h-3.2zM1685.93 1102.26h3.2v3.2h-3.2zM1742.22 1104.09h3.2v3.2h-3.2zM1699.17 1108.49h3.2v3.2h-3.2zM1732.81 1111.92h3.2v3.2h-3.2zM1702.16 1088.45h3.2v3.2h-3.2zM1717.19 1072.53h3.2v3.2h-3.2zM1685.63 1095.23h3.2v3.2h-3.2zM1695.53 1099.26h3.2v3.2h-3.2zM1663.59 1061.9h3.2v3.2h-3.2zM1607.97 1046.24h3.2v3.2h-3.2zM1671.85 1093.47h3.2v3.2h-3.2zM1623.32 1037.99h3.2v3.2h-3.2zM1663.05 1083.44h3.2v3.2h-3.2zM1664.2 1067.79h3.2v3.2h-3.2zM1646.68 1055.21h3.2v3.2h-3.2zM1625.23 1054.22h3.2v3.2h-3.2zM1653.37 1043.45h3.2v3.2h-3.2zM1627.41 1086.35h3.2v3.2h-3.2zM1624.03 1071.06h3.2v3.2h-3.2zM1608.58 1082.72h3.2v3.2h-3.2zM1650.52 1085.53h3.2v3.2h-3.2zM1643.1 1080.15h3.2v3.2h-3.2zM1667.3 1038.3h3.2v3.2h-3.2zM1609.1 1056.72h3.2v3.2h-3.2zM1665.06 1038.72h3.2v3.2h-3.2zM1652.82 1071.6h3.2v3.2h-3.2zM1646.42 1094.86h3.2v3.2h-3.2zM1619.09 1062.71h3.2v3.2h-3.2zM1648.53 1058.39h3.2v3.2h-3.2zM1667.65 1085.22h3.2v3.2h-3.2zM1623.77 1079.61h3.2v3.2h-3.2zM1637.32 1084.19h3.2v3.2h-3.2zM1613.47 1083.49h3.2v3.2h-3.2zM1618.9 1083.72h3.2v3.2h-3.2zM1645.74 1055.87h3.2v3.2h-3.2zM1627.43 1090.78h3.2v3.2h-3.2zM1658.8 1102.65h3.2v3.2h-3.2zM1657.71 1043.39h3.2v3.2h-3.2zM1659.1 1085.87h3.2v3.2h-3.2zM1627.7 1058.08h3.2v3.2h-3.2zM1636.04 1081.5h3.2v3.2h-3.2zM1618.24 1077.29h3.2v3.2h-3.2zM1606.72 1078.79h3.2v3.2h-3.2zM1659.27 1097.17h3.2v3.2h-3.2zM1612.62 1069.32h3.2v3.2h-3.2zM1646.09 1088.92h3.2v3.2h-3.2zM1664.16 1069.38h3.2v3.2h-3.2zM1672.65 1056.69h3.2v3.2h-3.2zM1647.23 1084.96h3.2v3.2h-3.2zM1648.64 1060.46h3.2v3.2h-3.2zM1652.01 1058.4h3.2v3.2h-3.2zM1650.78 1091.37h3.2v3.2h-3.2zM1659.85 1074.85h3.2v3.2h-3.2zM1667.38 1175.02h3.2v3.2h-3.2zM1713.32 1175.02h3.2v3.2h-3.2zM1719.66 1175.02h3.2v3.2h-3.2zM1722.82 1175.02h3.2v3.2h-3.2zM1689.56 1138.58h3.2v3.2h-3.2zM1668.44 1130.66h3.2v3.2h-3.2zM1679 1130.14h3.2v3.2h-3.2zM1724.94 1127.5h3.2v3.2h-3.2zM1747.64 1116.41h3.2v3.2h-3.2zM1797.8 989.16h3.2v3.2h-3.2zM1796.74 1027.7h3.2v3.2h-3.2zM1784.6 1045.66h3.2v3.2h-3.2zM1774.04 987.58h3.2v3.2h-3.2zM1781.96 991.8h3.2v3.2h-3.2z" fill="#3d3d3d"/>
<polyline points="1601.4,1022.8 1708,1008.6 1731.7,969.6 1798.4,970.1 1810,1026.9 1790.8,1059.5 1708,1008.6" fill="none" stroke="#5a5a5a" stroke-width="1.6" stroke-linejoin="round"/>
<polyline points="1790.8,1059.5 1783.1,1178.2" fill="none" stroke="#5a5a5a" stroke-width="1.6" stroke-linejoin="round"/>
<text x="1746" y="996.6" font-size="30.2" text-anchor="middle" fill="#231f20">31</text>
<text x="1617.3" y="1161.1" font-size="30.2" text-anchor="start" fill="#231f20">69</text>
<text x="1488.5" y="816.2" font-size="29.2" text-anchor="start" fill="#231f20">Naive</text>
<text x="1497" y="1084" font-size="29.2" text-anchor="start" fill="#231f20">Treg</text>
<text x="1706.2" y="617.9" font-size="30.6" text-anchor="middle" fill="#231f20">Total WT CD4<tspan font-size="20" dy="-10.4">+</tspan></text>
<line x1="1593.7" y1="643" x2="1806.8" y2="643" stroke="#231f20" stroke-width="4.2" stroke-linecap="butt"/>
<text x="984.3" y="613" font-size="30.2" text-anchor="middle" fill="#231f20">pMOG:I-A<tspan font-size="20" dy="-12.1">b</tspan><tspan dy="12.1">-specific CD4</tspan><tspan font-size="20" dy="-9.5">+</tspan></text>
<line x1="618" y1="643" x2="1364" y2="643" stroke="#231f20" stroke-width="4.2" stroke-linecap="butt"/>
</g>
</svg>
</body>
</html>
